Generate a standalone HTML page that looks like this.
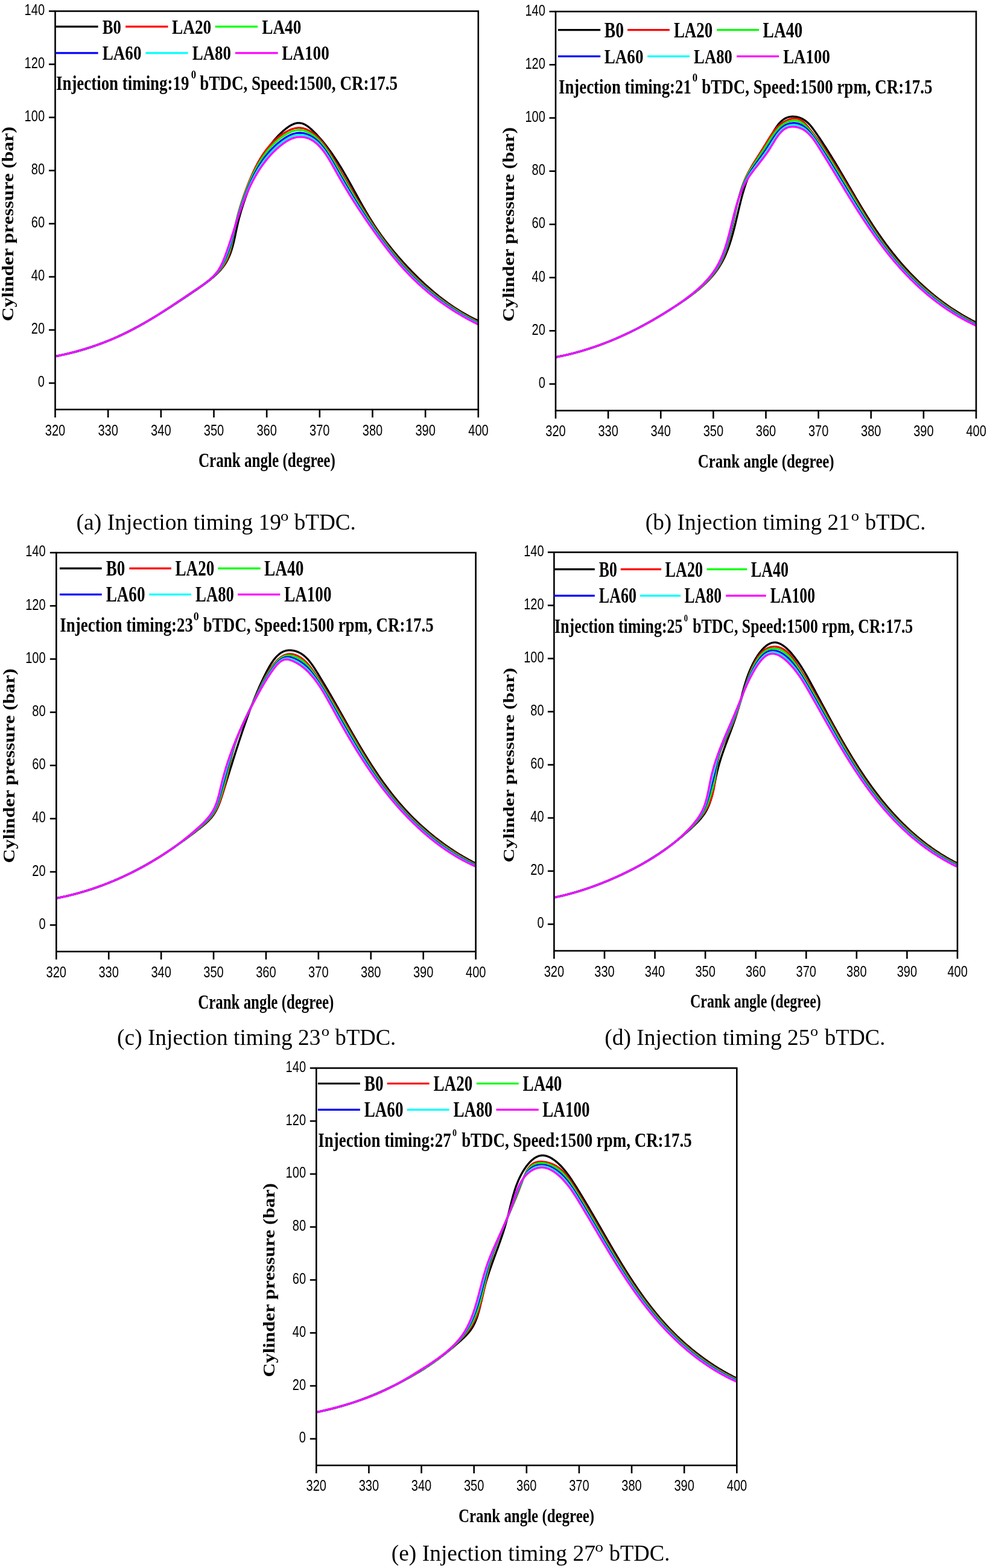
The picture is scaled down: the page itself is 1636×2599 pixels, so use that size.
<!DOCTYPE html>
<html><head><meta charset="utf-8"><title>Cylinder pressure vs crank angle</title>
<style>html,body{margin:0;padding:0;background:#fff;}svg{display:block;}</style></head>
<body><svg xmlns="http://www.w3.org/2000/svg" width="1636" height="2599" viewBox="0 0 1636 2599">
<rect width="1636" height="2599" fill="#fff"/>
<g fill="none" stroke-width="3.3" stroke-linejoin="round">
<path d="M91.5 590.27 L93.5 589.94 L95.5 589.6 L97.5 589.26 L99.5 588.89 L101.5 588.52 L103.5 588.14 L105.5 587.74 L107.5 587.33 L109.5 586.91 L111.5 586.48 L113.5 586.03 L115.5 585.58 L117.5 585.11 L119.5 584.63 L121.5 584.14 L123.5 583.63 L125.5 583.11 L127.5 582.59 L129.5 582.05 L131.5 581.49 L133.5 580.93 L135.5 580.35 L137.5 579.77 L139.5 579.17 L141.5 578.56 L143.5 577.93 L145.5 577.3 L147.5 576.65 L149.5 575.99 L151.5 575.32 L153.5 574.64 L155.5 573.95 L157.5 573.25 L159.5 572.53 L161.5 571.8 L163.5 571.06 L165.5 570.31 L167.5 569.55 L169.5 568.78 L171.5 567.99 L173.5 567.2 L175.5 566.39 L177.5 565.57 L179.5 564.74 L181.5 563.9 L183.5 563.05 L185.5 562.19 L187.5 561.32 L189.5 560.43 L191.5 559.54 L193.5 558.63 L195.5 557.72 L197.5 556.79 L199.5 555.85 L201.5 554.9 L203.5 553.95 L205.5 552.98 L207.5 552 L209.5 551.01 L211.5 550.01 L213.5 549.01 L215.5 547.99 L217.5 546.96 L219.5 545.92 L221.5 544.88 L223.5 543.82 L225.5 542.76 L227.5 541.68 L229.5 540.6 L231.5 539.5 L233.5 538.4 L235.5 537.29 L237.5 536.17 L239.5 535.04 L241.5 533.91 L243.5 532.76 L245.5 531.61 L247.5 530.44 L249.5 529.28 L251.5 528.1 L253.5 526.91 L255.5 525.72 L257.5 524.52 L259.5 523.31 L261.5 522.1 L263.5 520.87 L265.5 519.64 L267.5 518.41 L269.5 517.17 L271.5 515.92 L273.5 514.66 L275.5 513.4 L277.5 512.13 L279.5 510.86 L281.5 509.58 L283.5 508.29 L285.5 507 L287.5 505.7 L289.5 504.4 L291.5 503.09 L293.5 501.78 L295.5 500.47 L297.5 499.15 L299.5 497.82 L301.5 496.49 L303.5 495.16 L305.5 493.82 L307.5 492.48 L309.5 491.13 L311.5 489.79 L313.5 488.43 L315.5 487.08 L317.5 485.72 L319.5 484.36 L321.5 483 L323.5 481.64 L325.5 480.27 L327.5 478.9 L329.5 477.52 L331.5 476.13 L333.5 474.74 L335.5 473.32 L337.5 471.89 L339.5 470.44 L341.5 468.97 L343.5 467.46 L345.5 465.93 L347.5 464.36 L349.5 462.75 L351.5 461.09 L353.5 459.38 L355.5 457.62 L357.5 455.79 L359.5 453.88 L361.5 451.88 L363.5 449.79 L365.5 447.58 L367.5 445.23 L369.5 442.72 L371 440.71 L372.5 438.58 L374 436.28 L375.5 433.8 L377 431.09 L378.5 428.09 L379.5 425.92 L380.5 423.58 L381.5 421.06 L382.5 418.34 L383.5 415.39 L384.5 412.2 L385.5 408.75 L386.5 405.01 L387.5 400.98 L388 398.86 L388.5 396.67 L389 394.42 L389.5 392.12 L390 389.78 L390.5 387.4 L391 385.01 L391.5 382.62 L392 380.24 L392.5 377.88 L393 375.56 L393.5 373.29 L394 371.08 L394.5 368.93 L395 366.85 L395.5 364.84 L396.5 360.97 L397.5 357.29 L398.5 353.76 L399.5 350.37 L400.5 347.09 L401.5 343.9 L402.5 340.8 L403.5 337.78 L404.5 334.82 L405.5 331.91 L406.5 329.05 L407.5 326.23 L408.5 323.45 L409.5 320.7 L410.5 317.97 L411.5 315.26 L412.5 312.57 L413.5 309.9 L414.5 307.24 L415.5 304.61 L416.5 302 L417.5 299.43 L418.5 296.88 L419.5 294.38 L420.5 291.91 L421.5 289.49 L422.5 287.11 L423.5 284.77 L424.5 282.47 L425.5 280.22 L426.5 278.02 L427.5 275.86 L428.5 273.74 L429.5 271.68 L430.5 269.65 L432 266.7 L433.5 263.84 L435 261.08 L436.5 258.41 L438 255.83 L439.5 253.33 L441 250.92 L442.5 248.58 L444 246.33 L445.5 244.14 L447 242.02 L448.5 239.97 L450.5 237.34 L452.5 234.81 L454.5 232.39 L456.5 230.06 L458.5 227.83 L460.5 225.68 L462.5 223.61 L464.5 221.62 L466.5 219.7 L468.5 217.86 L470.5 216.1 L472.5 214.42 L474.5 212.83 L476.5 211.34 L478.5 209.96 L480.5 208.69 L482.5 207.54 L484.5 206.52 L486.5 205.64 L488.5 204.92 L490.5 204.35 L492.5 203.97 L494.5 203.78 L496.5 203.8 L498.5 204.04 L500.5 204.5 L502.5 205.17 L504.5 206.03 L506.5 207.09 L508.5 208.32 L510.5 209.71 L512.5 211.25 L514.5 212.92 L516.5 214.71 L518.5 216.61 L520.5 218.58 L522.5 220.61 L524.5 222.69 L526.5 224.83 L528.5 227.02 L530.5 229.27 L532.5 231.57 L534.5 233.93 L536.5 236.35 L538.5 238.83 L540.5 241.37 L542.5 243.96 L544.5 246.62 L546 248.66 L547.5 250.73 L549 252.83 L550.5 254.97 L552 257.14 L553.5 259.35 L555 261.59 L556.5 263.86 L558 266.17 L559.5 268.51 L561 270.88 L562.5 273.28 L564 275.72 L565.5 278.18 L567 280.67 L568.5 283.19 L570 285.73 L571.5 288.3 L573 290.9 L574.5 293.51 L576 296.15 L577.5 298.8 L579 301.47 L580.5 304.15 L582 306.84 L583.5 309.55 L585 312.26 L586.5 314.98 L588 317.7 L589.5 320.42 L591 323.14 L592.5 325.85 L594 328.56 L595.5 331.26 L597 333.95 L598.5 336.63 L600 339.29 L601.5 341.94 L603 344.57 L604.5 347.17 L606 349.76 L607.5 352.32 L609 354.86 L610.5 357.37 L612 359.85 L613.5 362.3 L615 364.72 L616.5 367.12 L618 369.48 L619.5 371.81 L621 374.1 L622.5 376.37 L624 378.61 L625.5 380.81 L627 382.99 L628.5 385.14 L630 387.27 L631.5 389.37 L633 391.44 L634.5 393.5 L636 395.53 L637.5 397.53 L639.5 400.17 L641.5 402.78 L643.5 405.35 L645.5 407.88 L647.5 410.39 L649.5 412.86 L651.5 415.3 L653.5 417.71 L655.5 420.09 L657.5 422.44 L659.5 424.77 L661.5 427.07 L663.5 429.34 L665.5 431.59 L667.5 433.82 L669.5 436.03 L671.5 438.21 L673.5 440.37 L675.5 442.51 L677.5 444.63 L679.5 446.72 L681.5 448.8 L683.5 450.86 L685.5 452.9 L687.5 454.92 L689.5 456.93 L691.5 458.91 L693.5 460.87 L695.5 462.81 L697.5 464.72 L699.5 466.62 L701.5 468.5 L703.5 470.36 L705.5 472.19 L707.5 474.01 L709.5 475.8 L711.5 477.57 L713.5 479.32 L715.5 481.05 L717.5 482.76 L719.5 484.44 L721.5 486.11 L723.5 487.75 L725.5 489.37 L727.5 490.97 L729.5 492.55 L731.5 494.11 L733.5 495.64 L735.5 497.16 L737.5 498.65 L739.5 500.12 L741.5 501.57 L743.5 503 L745.5 504.41 L747.5 505.79 L749.5 507.16 L751.5 508.5 L753.5 509.82 L755.5 511.12 L757.5 512.41 L759.5 513.66 L761.5 514.9 L763.5 516.12 L765.5 517.32 L767.5 518.5 L769.5 519.65 L771.5 520.79 L773.5 521.91 L775.5 523 L777.5 524.08 L779.5 525.13 L781.5 526.17 L783.5 527.18 L785.5 528.18 L787.5 529.16 L789.5 530.11 L791.5 531.05 L792.8 531.65" stroke="#000000"/>
<path d="M91.5 590.82 L93.5 590.41 L95.5 589.99 L97.5 589.57 L99.5 589.14 L101.5 588.7 L103.5 588.25 L105.5 587.8 L107.5 587.33 L109.5 586.86 L111.5 586.38 L113.5 585.9 L115.5 585.4 L117.5 584.89 L119.5 584.38 L121.5 583.86 L123.5 583.33 L125.5 582.79 L127.5 582.25 L129.5 581.69 L131.5 581.13 L133.5 580.55 L135.5 579.97 L137.5 579.38 L139.5 578.78 L141.5 578.17 L143.5 577.55 L145.5 576.92 L147.5 576.29 L149.5 575.64 L151.5 574.99 L153.5 574.32 L155.5 573.65 L157.5 572.96 L159.5 572.27 L161.5 571.56 L163.5 570.85 L165.5 570.12 L167.5 569.39 L169.5 568.64 L171.5 567.89 L173.5 567.12 L175.5 566.34 L177.5 565.56 L179.5 564.76 L181.5 563.95 L183.5 563.13 L185.5 562.29 L187.5 561.45 L189.5 560.59 L191.5 559.72 L193.5 558.84 L195.5 557.95 L197.5 557.05 L199.5 556.13 L201.5 555.2 L203.5 554.26 L205.5 553.31 L207.5 552.34 L209.5 551.36 L211.5 550.37 L213.5 549.37 L215.5 548.36 L217.5 547.34 L219.5 546.3 L221.5 545.25 L223.5 544.2 L225.5 543.13 L227.5 542.05 L229.5 540.96 L231.5 539.85 L233.5 538.74 L235.5 537.62 L237.5 536.49 L239.5 535.34 L241.5 534.19 L243.5 533.03 L245.5 531.86 L247.5 530.68 L249.5 529.49 L251.5 528.29 L253.5 527.08 L255.5 525.87 L257.5 524.64 L259.5 523.41 L261.5 522.17 L263.5 520.92 L265.5 519.67 L267.5 518.4 L269.5 517.13 L271.5 515.86 L273.5 514.57 L275.5 513.28 L277.5 511.99 L279.5 510.68 L281.5 509.38 L283.5 508.06 L285.5 506.75 L287.5 505.42 L289.5 504.09 L291.5 502.76 L293.5 501.43 L295.5 500.08 L297.5 498.74 L299.5 497.39 L301.5 496.04 L303.5 494.69 L305.5 493.33 L307.5 491.97 L309.5 490.61 L311.5 489.25 L313.5 487.88 L315.5 486.52 L317.5 485.15 L319.5 483.78 L321.5 482.41 L323.5 481.05 L325.5 479.68 L327.5 478.31 L329.5 476.93 L331.5 475.54 L333.5 474.14 L335.5 472.73 L337.5 471.3 L339.5 469.85 L341.5 468.38 L343.5 466.87 L345.5 465.33 L347.5 463.76 L349.5 462.14 L351.5 460.47 L353.5 458.74 L355.5 456.95 L357.5 455.09 L359.5 453.13 L361.5 451.08 L363.5 448.92 L365.5 446.61 L367.5 444.14 L369.5 441.47 L371 439.3 L372.5 436.95 L374 434.4 L375.5 431.56 L376.5 429.48 L377.5 427.21 L378.5 424.72 L379.5 421.99 L380.5 418.96 L381.5 415.61 L382.5 411.88 L383 409.86 L383.5 407.72 L384 405.47 L384.5 403.11 L385 400.64 L385.5 398.07 L386 395.41 L386.5 392.69 L387 389.94 L387.5 387.18 L388 384.45 L388.5 381.77 L389 379.16 L389.5 376.66 L390 374.24 L390.5 371.9 L391 369.64 L391.5 367.44 L392 365.3 L392.5 363.22 L393 361.18 L394 357.26 L395 353.5 L396 349.89 L397 346.41 L398 343.04 L399 339.77 L400 336.59 L401 333.5 L402 330.48 L403 327.54 L404 324.66 L405 321.83 L406 319.06 L407 316.34 L408 313.67 L409 311.03 L410 308.44 L411 305.89 L412 303.37 L413 300.88 L414 298.43 L415 296.03 L416 293.66 L417 291.33 L418 289.05 L419 286.81 L420 284.62 L421 282.48 L422 280.38 L423 278.33 L424 276.32 L425.5 273.4 L427 270.58 L428.5 267.86 L430 265.24 L431.5 262.71 L433 260.27 L434.5 257.92 L436 255.65 L437.5 253.47 L439 251.36 L440.5 249.33 L442.5 246.74 L444.5 244.27 L446.5 241.92 L448.5 239.67 L450.5 237.54 L452.5 235.5 L454.5 233.55 L456.5 231.7 L458.5 229.93 L460.5 228.24 L462.5 226.62 L464.5 225.09 L466.5 223.62 L468.5 222.22 L470.5 220.89 L472.5 219.64 L474.5 218.47 L476.5 217.38 L478.5 216.37 L480.5 215.45 L482.5 214.62 L484.5 213.89 L486.5 213.26 L488.5 212.74 L490.5 212.34 L492.5 212.05 L494.5 211.9 L496.5 211.89 L498.5 212.02 L500.5 212.29 L502.5 212.69 L504.5 213.23 L506.5 213.9 L508.5 214.69 L510.5 215.61 L512.5 216.64 L514.5 217.79 L516.5 219.05 L518.5 220.44 L520.5 221.95 L522.5 223.59 L524.5 225.35 L526.5 227.24 L528.5 229.27 L530.5 231.43 L532.5 233.72 L534.5 236.14 L536.5 238.69 L538.5 241.36 L540 243.45 L541.5 245.61 L543 247.83 L544.5 250.11 L546 252.44 L547.5 254.83 L549 257.27 L550.5 259.74 L552 262.25 L553.5 264.79 L555 267.35 L556.5 269.92 L558 272.49 L559.5 275.07 L561 277.65 L562.5 280.23 L564 282.82 L565.5 285.41 L567 288 L568.5 290.59 L570 293.18 L571.5 295.77 L573 298.36 L574.5 300.94 L576 303.53 L577.5 306.11 L579 308.68 L580.5 311.25 L582 313.81 L583.5 316.37 L585 318.92 L586.5 321.46 L588 323.99 L589.5 326.52 L591 329.03 L592.5 331.53 L594 334.03 L595.5 336.51 L597 338.98 L598.5 341.43 L600 343.88 L601.5 346.31 L603 348.73 L604.5 351.14 L606 353.53 L607.5 355.91 L609 358.27 L610.5 360.62 L612 362.95 L613.5 365.27 L615 367.57 L616.5 369.85 L618 372.12 L619.5 374.37 L621 376.61 L622.5 378.83 L624 381.03 L625.5 383.22 L627 385.39 L628.5 387.54 L630 389.67 L631.5 391.79 L633 393.88 L634.5 395.97 L636 398.03 L637.5 400.07 L639 402.1 L640.5 404.11 L642.5 406.76 L644.5 409.38 L646.5 411.97 L648.5 414.52 L650.5 417.05 L652.5 419.54 L654.5 421.99 L656.5 424.42 L658.5 426.82 L660.5 429.18 L662.5 431.51 L664.5 433.81 L666.5 436.08 L668.5 438.33 L670.5 440.54 L672.5 442.72 L674.5 444.88 L676.5 447.01 L678.5 449.11 L680.5 451.18 L682.5 453.23 L684.5 455.26 L686.5 457.25 L688.5 459.22 L690.5 461.17 L692.5 463.09 L694.5 464.99 L696.5 466.87 L698.5 468.72 L700.5 470.55 L702.5 472.36 L704.5 474.14 L706.5 475.9 L708.5 477.64 L710.5 479.36 L712.5 481.05 L714.5 482.73 L716.5 484.38 L718.5 486.01 L720.5 487.63 L722.5 489.22 L724.5 490.79 L726.5 492.34 L728.5 493.88 L730.5 495.39 L732.5 496.89 L734.5 498.36 L736.5 499.82 L738.5 501.26 L740.5 502.68 L742.5 504.08 L744.5 505.46 L746.5 506.83 L748.5 508.18 L750.5 509.51 L752.5 510.82 L754.5 512.12 L756.5 513.39 L758.5 514.66 L760.5 515.9 L762.5 517.13 L764.5 518.34 L766.5 519.54 L768.5 520.72 L770.5 521.88 L772.5 523.03 L774.5 524.16 L776.5 525.27 L778.5 526.37 L780.5 527.46 L782.5 528.53 L784.5 529.58 L786.5 530.62 L788.5 531.64 L790.5 532.65 L792.5 533.65 L792.8 533.51" stroke="#ff0000"/>
<path d="M91.5 590.84 L93.5 590.43 L95.5 590.01 L97.5 589.58 L99.5 589.14 L101.5 588.7 L103.5 588.25 L105.5 587.79 L107.5 587.33 L109.5 586.85 L111.5 586.37 L113.5 585.88 L115.5 585.38 L117.5 584.88 L119.5 584.36 L121.5 583.84 L123.5 583.31 L125.5 582.77 L127.5 582.23 L129.5 581.67 L131.5 581.11 L133.5 580.54 L135.5 579.95 L137.5 579.36 L139.5 578.76 L141.5 578.16 L143.5 577.54 L145.5 576.91 L147.5 576.28 L149.5 575.63 L151.5 574.98 L153.5 574.32 L155.5 573.64 L157.5 572.96 L159.5 572.27 L161.5 571.57 L163.5 570.85 L165.5 570.13 L167.5 569.4 L169.5 568.65 L171.5 567.9 L173.5 567.13 L175.5 566.36 L177.5 565.57 L179.5 564.78 L181.5 563.97 L183.5 563.15 L185.5 562.32 L187.5 561.47 L189.5 560.62 L191.5 559.75 L193.5 558.87 L195.5 557.98 L197.5 557.08 L199.5 556.16 L201.5 555.23 L203.5 554.29 L205.5 553.33 L207.5 552.37 L209.5 551.39 L211.5 550.4 L213.5 549.4 L215.5 548.38 L217.5 547.36 L219.5 546.32 L221.5 545.27 L223.5 544.21 L225.5 543.14 L227.5 542.06 L229.5 540.96 L231.5 539.86 L233.5 538.74 L235.5 537.62 L237.5 536.48 L239.5 535.34 L241.5 534.18 L243.5 533.02 L245.5 531.85 L247.5 530.66 L249.5 529.47 L251.5 528.27 L253.5 527.06 L255.5 525.84 L257.5 524.61 L259.5 523.38 L261.5 522.14 L263.5 520.89 L265.5 519.63 L267.5 518.36 L269.5 517.09 L271.5 515.81 L273.5 514.53 L275.5 513.24 L277.5 511.94 L279.5 510.64 L281.5 509.33 L283.5 508.02 L285.5 506.7 L287.5 505.37 L289.5 504.05 L291.5 502.71 L293.5 501.38 L295.5 500.04 L297.5 498.7 L299.5 497.35 L301.5 496 L303.5 494.65 L305.5 493.3 L307.5 491.94 L309.5 490.58 L311.5 489.23 L313.5 487.87 L315.5 486.5 L317.5 485.14 L319.5 483.78 L321.5 482.42 L323.5 481.06 L325.5 479.7 L327.5 478.33 L329.5 476.96 L331.5 475.58 L333.5 474.19 L335.5 472.78 L337.5 471.35 L339.5 469.89 L341.5 468.41 L343.5 466.89 L345.5 465.34 L347.5 463.73 L349.5 462.08 L351.5 460.36 L353.5 458.57 L355.5 456.7 L357.5 454.73 L359.5 452.64 L361.5 450.41 L363.5 448 L365.5 445.39 L367 443.29 L368.5 441.03 L370 438.62 L371.5 436.03 L373 433.24 L374.5 430.23 L375.5 428.08 L376.5 425.81 L377.5 423.39 L378.5 420.79 L379.5 418 L380.5 414.99 L381.5 411.73 L382.5 408.17 L383.5 404.29 L384 402.22 L384.5 400.06 L385 397.82 L385.5 395.51 L386 393.13 L386.5 390.7 L387 388.25 L387.5 385.79 L388 383.36 L388.5 380.96 L389 378.62 L389.5 376.35 L390 374.16 L390.5 372.02 L391 369.93 L391.5 367.9 L392.5 363.98 L393.5 360.21 L394.5 356.58 L395.5 353.08 L396.5 349.69 L397.5 346.39 L398.5 343.19 L399.5 340.07 L400.5 337.03 L401.5 334.06 L402.5 331.15 L403.5 328.31 L404.5 325.52 L405.5 322.79 L406.5 320.11 L407.5 317.48 L408.5 314.89 L409.5 312.34 L410.5 309.84 L411.5 307.37 L412.5 304.94 L413.5 302.55 L414.5 300.2 L415.5 297.89 L416.5 295.62 L417.5 293.39 L418.5 291.21 L419.5 289.07 L420.5 286.97 L421.5 284.92 L422.5 282.91 L424 279.98 L425.5 277.15 L427 274.41 L428.5 271.77 L430 269.22 L431.5 266.75 L433 264.37 L434.5 262.06 L436 259.84 L437.5 257.7 L439 255.62 L440.5 253.62 L442.5 251.06 L444.5 248.61 L446.5 246.27 L448.5 244.03 L450.5 241.89 L452.5 239.84 L454.5 237.89 L456.5 236.02 L458.5 234.23 L460.5 232.51 L462.5 230.87 L464.5 229.3 L466.5 227.8 L468.5 226.36 L470.5 225 L472.5 223.71 L474.5 222.5 L476.5 221.37 L478.5 220.33 L480.5 219.39 L482.5 218.53 L484.5 217.78 L486.5 217.14 L488.5 216.6 L490.5 216.18 L492.5 215.88 L494.5 215.71 L496.5 215.67 L498.5 215.76 L500.5 215.99 L502.5 216.34 L504.5 216.82 L506.5 217.43 L508.5 218.16 L510.5 219.01 L512.5 219.98 L514.5 221.08 L516.5 222.29 L518.5 223.63 L520.5 225.11 L522.5 226.71 L524.5 228.44 L526.5 230.32 L528.5 232.33 L530.5 234.47 L532.5 236.76 L534.5 239.19 L536.5 241.75 L538 243.76 L539.5 245.84 L541 248 L542.5 250.22 L544 252.51 L545.5 254.85 L547 257.25 L548.5 259.71 L550 262.2 L551.5 264.73 L553 267.3 L554.5 269.88 L556 272.47 L557.5 275.07 L559 277.67 L560.5 280.27 L562 282.87 L563.5 285.46 L565 288.06 L566.5 290.64 L568 293.23 L569.5 295.81 L571 298.38 L572.5 300.95 L574 303.52 L575.5 306.07 L577 308.63 L578.5 311.17 L580 313.71 L581.5 316.23 L583 318.75 L584.5 321.26 L586 323.76 L587.5 326.25 L589 328.73 L590.5 331.2 L592 333.66 L593.5 336.11 L595 338.55 L596.5 340.97 L598 343.38 L599.5 345.78 L601 348.17 L602.5 350.54 L604 352.91 L605.5 355.25 L607 357.59 L608.5 359.91 L610 362.22 L611.5 364.51 L613 366.79 L614.5 369.06 L616 371.31 L617.5 373.55 L619 375.77 L620.5 377.98 L622 380.17 L623.5 382.35 L625 384.52 L626.5 386.67 L628 388.8 L629.5 390.91 L631 393.01 L632.5 395.1 L634 397.17 L635.5 399.22 L637 401.25 L638.5 403.27 L640 405.27 L642 407.91 L644 410.53 L646 413.11 L648 415.66 L650 418.18 L652 420.66 L654 423.12 L656 425.55 L658 427.94 L660 430.31 L662 432.64 L664 434.95 L666 437.22 L668 439.46 L670 441.68 L672 443.86 L674 446.02 L676 448.15 L678 450.25 L680 452.32 L682 454.37 L684 456.39 L686 458.38 L688 460.35 L690 462.29 L692 464.21 L694 466.1 L696 467.97 L698 469.81 L700 471.64 L702 473.43 L704 475.21 L706 476.96 L708 478.69 L710 480.4 L712 482.08 L714 483.75 L716 485.39 L718 487.02 L720 488.62 L722 490.2 L724 491.77 L726 493.31 L728 494.83 L730 496.34 L732 497.82 L734 499.29 L736 500.74 L738 502.16 L740 503.58 L742 504.97 L744 506.34 L746 507.7 L748 509.04 L750 510.36 L752 511.67 L754 512.96 L756 514.23 L758 515.48 L760 516.72 L762 517.94 L764 519.15 L766 520.34 L768 521.51 L770 522.67 L772 523.81 L774 524.94 L776 526.05 L778 527.15 L780 528.23 L782 529.3 L784 530.35 L786 531.39 L788 532.41 L790 533.42 L792 534.41 L792.8 534.59" stroke="#00ff00"/>
<path d="M91.5 590.86 L93.5 590.44 L95.5 590.02 L97.5 589.59 L99.5 589.15 L101.5 588.7 L103.5 588.25 L105.5 587.79 L107.5 587.32 L109.5 586.84 L111.5 586.36 L113.5 585.87 L115.5 585.37 L117.5 584.86 L119.5 584.34 L121.5 583.82 L123.5 583.29 L125.5 582.75 L127.5 582.21 L129.5 581.65 L131.5 581.09 L133.5 580.51 L135.5 579.93 L137.5 579.35 L139.5 578.75 L141.5 578.14 L143.5 577.53 L145.5 576.9 L147.5 576.27 L149.5 575.62 L151.5 574.97 L153.5 574.31 L155.5 573.64 L157.5 572.96 L159.5 572.27 L161.5 571.57 L163.5 570.86 L165.5 570.14 L167.5 569.41 L169.5 568.67 L171.5 567.91 L173.5 567.15 L175.5 566.38 L177.5 565.59 L179.5 564.8 L181.5 563.99 L183.5 563.17 L185.5 562.34 L187.5 561.5 L189.5 560.65 L191.5 559.78 L193.5 558.9 L195.5 558.01 L197.5 557.11 L199.5 556.19 L201.5 555.26 L203.5 554.32 L205.5 553.37 L207.5 552.4 L209.5 551.42 L211.5 550.43 L213.5 549.42 L215.5 548.41 L217.5 547.38 L219.5 546.34 L221.5 545.29 L223.5 544.23 L225.5 543.15 L227.5 542.07 L229.5 540.97 L231.5 539.86 L233.5 538.75 L235.5 537.62 L237.5 536.48 L239.5 535.33 L241.5 534.17 L243.5 533.01 L245.5 531.83 L247.5 530.64 L249.5 529.45 L251.5 528.24 L253.5 527.03 L255.5 525.81 L257.5 524.58 L259.5 523.34 L261.5 522.1 L263.5 520.84 L265.5 519.58 L267.5 518.32 L269.5 517.04 L271.5 515.76 L273.5 514.48 L275.5 513.18 L277.5 511.88 L279.5 510.58 L281.5 509.27 L283.5 507.96 L285.5 506.64 L287.5 505.32 L289.5 503.99 L291.5 502.66 L293.5 501.32 L295.5 499.98 L297.5 498.64 L299.5 497.3 L301.5 495.95 L303.5 494.61 L305.5 493.26 L307.5 491.9 L309.5 490.55 L311.5 489.2 L313.5 487.84 L315.5 486.49 L317.5 485.13 L319.5 483.78 L321.5 482.42 L323.5 481.07 L325.5 479.72 L327.5 478.36 L329.5 477 L331.5 475.63 L333.5 474.24 L335.5 472.83 L337.5 471.4 L339.5 469.94 L341.5 468.45 L343.5 466.92 L345.5 465.34 L347.5 463.7 L349.5 462 L351.5 460.23 L353.5 458.36 L355.5 456.39 L357.5 454.3 L359.5 452.04 L361.5 449.6 L363.5 446.9 L365 444.71 L366.5 442.33 L368 439.77 L369.5 437.01 L371 434.05 L372 431.95 L373 429.76 L374 427.49 L375 425.12 L376 422.67 L377 420.12 L378 417.46 L379 414.67 L380 411.75 L381 408.67 L382 405.41 L383 401.97 L384 398.31 L385 394.44 L385.5 392.43 L386 390.39 L386.5 388.31 L387 386.22 L387.5 384.13 L388 382.05 L388.5 379.99 L389 377.97 L390 374.06 L391 370.29 L392 366.66 L393 363.14 L394 359.72 L395 356.39 L396 353.14 L397 349.97 L398 346.88 L399 343.85 L400 340.88 L401 337.98 L402 335.14 L403 332.35 L404 329.62 L405 326.94 L406 324.31 L407 321.72 L408 319.19 L409 316.7 L410 314.26 L411 311.85 L412 309.49 L413 307.17 L414 304.89 L415 302.65 L416 300.45 L417 298.3 L418 296.18 L419 294.11 L420 292.08 L421.5 289.12 L423 286.24 L424.5 283.46 L426 280.76 L427.5 278.15 L429 275.63 L430.5 273.18 L432 270.82 L433.5 268.53 L435 266.31 L436.5 264.16 L438 262.09 L439.5 260.07 L441.5 257.49 L443.5 255.01 L445.5 252.64 L447.5 250.36 L449.5 248.17 L451.5 246.08 L453.5 244.07 L455.5 242.14 L457.5 240.28 L459.5 238.5 L461.5 236.8 L463.5 235.16 L465.5 233.58 L467.5 232.07 L469.5 230.62 L471.5 229.25 L473.5 227.96 L475.5 226.74 L477.5 225.62 L479.5 224.59 L481.5 223.65 L483.5 222.82 L485.5 222.1 L487.5 221.49 L489.5 221 L491.5 220.62 L493.5 220.37 L495.5 220.23 L497.5 220.22 L499.5 220.33 L501.5 220.56 L503.5 220.91 L505.5 221.38 L507.5 221.98 L509.5 222.69 L511.5 223.53 L513.5 224.5 L515.5 225.59 L517.5 226.81 L519.5 228.16 L521.5 229.65 L523.5 231.29 L525.5 233.06 L527.5 234.98 L529.5 237.04 L531.5 239.26 L533.5 241.62 L535.5 244.12 L537.5 246.77 L539 248.85 L540.5 251 L542 253.23 L543.5 255.52 L545 257.88 L546.5 260.3 L548 262.78 L549.5 265.3 L551 267.86 L552.5 270.45 L554 273.07 L555.5 275.7 L557 278.33 L558.5 280.96 L560 283.59 L561.5 286.2 L563 288.81 L564.5 291.41 L566 293.99 L567.5 296.57 L569 299.14 L570.5 301.7 L572 304.25 L573.5 306.79 L575 309.32 L576.5 311.84 L578 314.35 L579.5 316.85 L581 319.34 L582.5 321.81 L584 324.28 L585.5 326.73 L587 329.17 L588.5 331.6 L590 334.01 L591.5 336.42 L593 338.81 L594.5 341.19 L596 343.56 L597.5 345.92 L599 348.26 L600.5 350.59 L602 352.91 L603.5 355.22 L605 357.52 L606.5 359.8 L608 362.07 L609.5 364.33 L611 366.57 L612.5 368.81 L614 371.03 L615.5 373.24 L617 375.44 L618.5 377.62 L620 379.8 L621.5 381.96 L623 384.11 L624.5 386.24 L626 388.36 L627.5 390.47 L629 392.56 L630.5 394.64 L632 396.71 L633.5 398.76 L635 400.79 L636.5 402.81 L638 404.82 L640 407.47 L642 410.09 L644 412.68 L646 415.24 L648 417.78 L650 420.29 L652 422.76 L654 425.21 L656 427.63 L658 430.01 L660 432.37 L662 434.7 L664 436.99 L666 439.26 L668 441.5 L670 443.71 L672 445.89 L674 448.04 L676 450.16 L678 452.25 L680 454.31 L682 456.35 L684 458.35 L686 460.34 L688 462.29 L690 464.22 L692 466.12 L694 468 L696 469.85 L698 471.68 L700 473.48 L702 475.27 L704 477.02 L706 478.76 L708 480.47 L710 482.16 L712 483.83 L714 485.48 L716 487.1 L718 488.71 L720 490.3 L722 491.86 L724 493.41 L726 494.93 L728 496.44 L730 497.92 L732 499.39 L734 500.84 L736 502.27 L738 503.68 L740 505.08 L742 506.45 L744 507.81 L746 509.15 L748 510.48 L750 511.79 L752 513.08 L754 514.35 L756 515.61 L758 516.85 L760 518.08 L762 519.29 L764 520.48 L766 521.66 L768 522.82 L770 523.97 L772 525.1 L774 526.22 L776 527.32 L778 528.41 L780 529.48 L782 530.54 L784 531.59 L786 532.62 L788 533.63 L790 534.64 L792 535.63 L792.8 535.89" stroke="#0000ff"/>
<path d="M91.5 590.88 L93.5 590.46 L95.5 590.03 L97.5 589.59 L99.5 589.15 L101.5 588.7 L103.5 588.24 L105.5 587.78 L107.5 587.31 L109.5 586.83 L111.5 586.35 L113.5 585.85 L115.5 585.35 L117.5 584.84 L119.5 584.33 L121.5 583.81 L123.5 583.27 L125.5 582.74 L127.5 582.19 L129.5 581.63 L131.5 581.07 L133.5 580.5 L135.5 579.92 L137.5 579.33 L139.5 578.73 L141.5 578.13 L143.5 577.51 L145.5 576.89 L147.5 576.26 L149.5 575.62 L151.5 574.97 L153.5 574.31 L155.5 573.64 L157.5 572.96 L159.5 572.27 L161.5 571.57 L163.5 570.86 L165.5 570.14 L167.5 569.42 L169.5 568.68 L171.5 567.93 L173.5 567.16 L175.5 566.39 L177.5 565.61 L179.5 564.82 L181.5 564.01 L183.5 563.19 L185.5 562.36 L187.5 561.52 L189.5 560.67 L191.5 559.81 L193.5 558.93 L195.5 558.04 L197.5 557.13 L199.5 556.22 L201.5 555.29 L203.5 554.34 L205.5 553.39 L207.5 552.42 L209.5 551.44 L211.5 550.45 L213.5 549.44 L215.5 548.43 L217.5 547.4 L219.5 546.36 L221.5 545.3 L223.5 544.24 L225.5 543.16 L227.5 542.08 L229.5 540.98 L231.5 539.87 L233.5 538.75 L235.5 537.62 L237.5 536.48 L239.5 535.33 L241.5 534.17 L243.5 533 L245.5 531.82 L247.5 530.63 L249.5 529.43 L251.5 528.22 L253.5 527.01 L255.5 525.79 L257.5 524.55 L259.5 523.31 L261.5 522.07 L263.5 520.81 L265.5 519.55 L267.5 518.28 L269.5 517 L271.5 515.72 L273.5 514.43 L275.5 513.14 L277.5 511.84 L279.5 510.54 L281.5 509.23 L283.5 507.91 L285.5 506.59 L287.5 505.27 L289.5 503.94 L291.5 502.61 L293.5 501.28 L295.5 499.94 L297.5 498.6 L299.5 497.26 L301.5 495.92 L303.5 494.57 L305.5 493.22 L307.5 491.88 L309.5 490.53 L311.5 489.18 L313.5 487.83 L315.5 486.48 L317.5 485.13 L319.5 483.78 L321.5 482.43 L323.5 481.08 L325.5 479.73 L327.5 478.38 L329.5 477.03 L331.5 475.66 L333.5 474.28 L335.5 472.87 L337.5 471.45 L339.5 469.98 L341.5 468.48 L343.5 466.94 L345.5 465.34 L347.5 463.68 L349.5 461.95 L351.5 460.13 L353.5 458.21 L355.5 456.16 L357.5 453.97 L359.5 451.59 L361.5 448.97 L363 446.82 L364.5 444.48 L366 441.95 L367.5 439.19 L369 436.2 L370 434.08 L371 431.85 L372 429.52 L373 427.1 L374 424.6 L375 422.02 L376 419.38 L377 416.67 L378 413.89 L379 411.03 L380 408.08 L381 405.05 L382 401.91 L383 398.67 L384 395.31 L385 391.85 L386 388.29 L387 384.67 L388 381.04 L389 377.47 L390 373.98 L391 370.57 L392 367.23 L393 363.96 L394 360.75 L395 357.6 L396 354.5 L397 351.47 L398 348.48 L399 345.55 L400 342.68 L401 339.85 L402 337.08 L403 334.36 L404 331.69 L405 329.07 L406 326.5 L407 323.98 L408 321.5 L409 319.07 L410 316.69 L411 314.35 L412 312.05 L413 309.8 L414 307.59 L415 305.42 L416 303.29 L417 301.21 L418 299.17 L419 297.16 L420.5 294.23 L422 291.39 L423.5 288.64 L425 285.97 L426.5 283.38 L428 280.88 L429.5 278.44 L431 276.08 L432.5 273.8 L434 271.58 L435.5 269.43 L437 267.34 L438.5 265.32 L440.5 262.71 L442.5 260.21 L444.5 257.8 L446.5 255.49 L448.5 253.26 L450.5 251.12 L452.5 249.06 L454.5 247.08 L456.5 245.18 L458.5 243.34 L460.5 241.57 L462.5 239.87 L464.5 238.24 L466.5 236.66 L468.5 235.15 L470.5 233.7 L472.5 232.34 L474.5 231.05 L476.5 229.85 L478.5 228.74 L480.5 227.73 L482.5 226.82 L484.5 226.03 L486.5 225.34 L488.5 224.78 L490.5 224.33 L492.5 224 L494.5 223.79 L496.5 223.69 L498.5 223.7 L500.5 223.83 L502.5 224.08 L504.5 224.44 L506.5 224.91 L508.5 225.51 L510.5 226.23 L512.5 227.08 L514.5 228.05 L516.5 229.16 L518.5 230.41 L520.5 231.79 L522.5 233.32 L524.5 235 L526.5 236.83 L528.5 238.81 L530.5 240.94 L532.5 243.22 L534.5 245.66 L536.5 248.25 L538 250.29 L539.5 252.41 L541 254.6 L542.5 256.87 L544 259.22 L545.5 261.62 L547 264.09 L548.5 266.61 L550 269.17 L551.5 271.77 L553 274.41 L554.5 277.06 L556 279.72 L557.5 282.38 L559 285.03 L560.5 287.67 L562 290.29 L563.5 292.9 L565 295.5 L566.5 298.08 L568 300.65 L569.5 303.21 L571 305.75 L572.5 308.28 L574 310.8 L575.5 313.3 L577 315.79 L578.5 318.27 L580 320.73 L581.5 323.18 L583 325.61 L584.5 328.03 L586 330.44 L587.5 332.84 L589 335.22 L590.5 337.59 L592 339.94 L593.5 342.29 L595 344.62 L596.5 346.94 L598 349.24 L599.5 351.54 L601 353.82 L602.5 356.09 L604 358.35 L605.5 360.6 L607 362.83 L608.5 365.06 L610 367.27 L611.5 369.47 L613 371.66 L614.5 373.84 L616 376.01 L617.5 378.17 L619 380.32 L620.5 382.46 L622 384.59 L623.5 386.71 L625 388.81 L626.5 390.91 L628 392.99 L629.5 395.06 L631 397.11 L632.5 399.15 L634 401.18 L635.5 403.19 L637.5 405.86 L639.5 408.5 L641.5 411.11 L643.5 413.69 L645.5 416.25 L647.5 418.78 L649.5 421.28 L651.5 423.76 L653.5 426.2 L655.5 428.62 L657.5 431.01 L659.5 433.37 L661.5 435.69 L663.5 437.99 L665.5 440.26 L667.5 442.5 L669.5 444.72 L671.5 446.9 L673.5 449.05 L675.5 451.17 L677.5 453.26 L679.5 455.32 L681.5 457.36 L683.5 459.36 L685.5 461.34 L687.5 463.29 L689.5 465.22 L691.5 467.12 L693.5 468.99 L695.5 470.83 L697.5 472.66 L699.5 474.46 L701.5 476.23 L703.5 477.98 L705.5 479.71 L707.5 481.41 L709.5 483.1 L711.5 484.76 L713.5 486.4 L715.5 488.01 L717.5 489.61 L719.5 491.19 L721.5 492.75 L723.5 494.28 L725.5 495.8 L727.5 497.3 L729.5 498.77 L731.5 500.23 L733.5 501.67 L735.5 503.1 L737.5 504.5 L739.5 505.89 L741.5 507.25 L743.5 508.61 L745.5 509.94 L747.5 511.26 L749.5 512.56 L751.5 513.84 L753.5 515.11 L755.5 516.36 L757.5 517.59 L759.5 518.81 L761.5 520.02 L763.5 521.21 L765.5 522.38 L767.5 523.54 L769.5 524.68 L771.5 525.81 L773.5 526.92 L775.5 528.02 L777.5 529.11 L779.5 530.18 L781.5 531.23 L783.5 532.28 L785.5 533.3 L787.5 534.32 L789.5 535.32 L791.5 536.31 L792.8 536.88" stroke="#00ffff"/>
<path d="M91.5 590.9 L93.5 590.47 L95.5 590.04 L97.5 589.6 L99.5 589.15 L101.5 588.7 L103.5 588.24 L105.5 587.78 L107.5 587.3 L109.5 586.82 L111.5 586.34 L113.5 585.84 L115.5 585.34 L117.5 584.83 L119.5 584.31 L121.5 583.79 L123.5 583.26 L125.5 582.72 L127.5 582.17 L129.5 581.62 L131.5 581.05 L133.5 580.48 L135.5 579.9 L137.5 579.32 L139.5 578.72 L141.5 578.12 L143.5 577.5 L145.5 576.88 L147.5 576.25 L149.5 575.61 L151.5 574.96 L153.5 574.3 L155.5 573.64 L157.5 572.96 L159.5 572.27 L161.5 571.57 L163.5 570.87 L165.5 570.15 L167.5 569.42 L169.5 568.68 L171.5 567.94 L173.5 567.18 L175.5 566.41 L177.5 565.63 L179.5 564.83 L181.5 564.03 L183.5 563.21 L185.5 562.39 L187.5 561.55 L189.5 560.69 L191.5 559.83 L193.5 558.95 L195.5 558.06 L197.5 557.16 L199.5 556.24 L201.5 555.31 L203.5 554.37 L205.5 553.41 L207.5 552.44 L209.5 551.46 L211.5 550.47 L213.5 549.46 L215.5 548.44 L217.5 547.41 L219.5 546.37 L221.5 545.32 L223.5 544.25 L225.5 543.17 L227.5 542.08 L229.5 540.98 L231.5 539.87 L233.5 538.75 L235.5 537.62 L237.5 536.48 L239.5 535.32 L241.5 534.16 L243.5 532.99 L245.5 531.81 L247.5 530.62 L249.5 529.41 L251.5 528.21 L253.5 526.99 L255.5 525.76 L257.5 524.53 L259.5 523.29 L261.5 522.04 L263.5 520.78 L265.5 519.52 L267.5 518.25 L269.5 516.97 L271.5 515.68 L273.5 514.4 L275.5 513.1 L277.5 511.8 L279.5 510.49 L281.5 509.18 L283.5 507.87 L285.5 506.55 L287.5 505.23 L289.5 503.9 L291.5 502.57 L293.5 501.24 L295.5 499.9 L297.5 498.56 L299.5 497.22 L301.5 495.88 L303.5 494.54 L305.5 493.19 L307.5 491.85 L309.5 490.5 L311.5 489.16 L313.5 487.81 L315.5 486.46 L317.5 485.12 L319.5 483.77 L321.5 482.43 L323.5 481.09 L325.5 479.75 L327.5 478.41 L329.5 477.06 L331.5 475.7 L333.5 474.32 L335.5 472.91 L337.5 471.48 L339.5 470.02 L341.5 468.51 L343.5 466.96 L345.5 465.34 L347.5 463.66 L349.5 461.89 L351.5 460.03 L353.5 458.06 L355.5 455.94 L357.5 453.65 L359.5 451.15 L361 449.1 L362.5 446.87 L364 444.42 L365.5 441.74 L367 438.82 L368 436.73 L369 434.52 L370 432.19 L371 429.75 L372 427.2 L373 424.56 L374 421.83 L375 419.05 L376 416.23 L377 413.37 L378 410.48 L379 407.54 L380 404.58 L381 401.58 L382 398.56 L383 395.51 L384 392.45 L385 389.37 L386 386.28 L387 383.18 L388 380.08 L389 376.99 L390 373.91 L391 370.83 L392 367.78 L393 364.74 L394 361.73 L395 358.75 L396 355.81 L397 352.89 L398 350.02 L399 347.18 L400 344.39 L401 341.64 L402 338.94 L403 336.28 L404 333.67 L405 331.11 L406 328.6 L407 326.13 L408 323.71 L409 321.34 L410 319.01 L411 316.74 L412 314.5 L413 312.31 L414 310.17 L415 308.07 L416 306.01 L417 304 L418.5 301.05 L420 298.18 L421.5 295.41 L423 292.71 L424.5 290.1 L426 287.56 L427.5 285.1 L429 282.71 L430.5 280.38 L432 278.13 L433.5 275.93 L435 273.8 L436.5 271.73 L438 269.72 L440 267.12 L442 264.62 L444 262.21 L446 259.88 L448 257.64 L450 255.48 L452 253.4 L454 251.39 L456 249.45 L458 247.58 L460 245.78 L462 244.04 L464 242.36 L466 240.74 L468 239.18 L470 237.68 L472 236.26 L474 234.92 L476 233.66 L478 232.5 L480 231.44 L482 230.49 L484 229.64 L486 228.91 L488 228.3 L490 227.82 L492 227.45 L494 227.19 L496 227.04 L498 226.99 L500 227.06 L502 227.23 L504 227.51 L506 227.9 L508 228.41 L510 229.05 L512 229.81 L514 230.71 L516 231.74 L518 232.91 L520 234.22 L522 235.68 L524 237.3 L526 239.06 L528 240.99 L530 243.07 L532 245.32 L534 247.72 L536 250.28 L537.5 252.3 L539 254.41 L540.5 256.6 L542 258.86 L543.5 261.21 L545 263.62 L546.5 266.09 L548 268.62 L549.5 271.2 L551 273.82 L552.5 276.47 L554 279.14 L555.5 281.83 L557 284.51 L558.5 287.19 L560 289.85 L561.5 292.49 L563 295.12 L564.5 297.72 L566 300.31 L567.5 302.88 L569 305.44 L570.5 307.97 L572 310.49 L573.5 312.99 L575 315.48 L576.5 317.94 L578 320.4 L579.5 322.83 L581 325.25 L582.5 327.66 L584 330.05 L585.5 332.42 L587 334.79 L588.5 337.13 L590 339.46 L591.5 341.78 L593 344.09 L594.5 346.38 L596 348.66 L597.5 350.93 L599 353.18 L600.5 355.42 L602 357.65 L603.5 359.87 L605 362.08 L606.5 364.28 L608 366.47 L609.5 368.64 L611 370.81 L612.5 372.97 L614 375.12 L615.5 377.26 L617 379.39 L618.5 381.51 L620 383.62 L621.5 385.73 L623 387.82 L624.5 389.91 L626 391.98 L627.5 394.04 L629 396.09 L630.5 398.13 L632 400.16 L633.5 402.18 L635 404.18 L637 406.83 L639 409.46 L641 412.06 L643 414.64 L645 417.19 L647 419.71 L649 422.21 L651 424.68 L653 427.13 L655 429.54 L657 431.93 L659 434.29 L661 436.62 L663 438.93 L665 441.2 L667 443.44 L669 445.66 L671 447.84 L673 449.99 L675 452.12 L677 454.21 L679 456.27 L681 458.31 L683 460.31 L685 462.29 L687 464.24 L689 466.16 L691 468.05 L693 469.92 L695 471.76 L697 473.58 L699 475.37 L701 477.14 L703 478.88 L705 480.6 L707 482.3 L709 483.98 L711 485.63 L713 487.26 L715 488.87 L717 490.46 L719 492.03 L721 493.58 L723 495.11 L725 496.62 L727 498.11 L729 499.58 L731 501.03 L733 502.46 L735 503.87 L737 505.27 L739 506.65 L741 508.01 L743 509.35 L745 510.68 L747 511.99 L749 513.28 L751 514.56 L753 515.82 L755 517.07 L757 518.29 L759 519.51 L761 520.71 L763 521.89 L765 523.06 L767 524.21 L769 525.35 L771 526.47 L773 527.58 L775 528.68 L777 529.76 L779 530.83 L781 531.88 L783 532.93 L785 533.95 L787 534.97 L789 535.97 L791 536.96 L792.8 537.84" stroke="#ff00ff"/>
</g>
<g fill="none" stroke-width="3.3" stroke-linejoin="round">
<path d="M921 591.94 L923 591.58 L925 591.2 L927 590.81 L929 590.42 L931 590.01 L933 589.59 L935 589.17 L937 588.73 L939 588.28 L941 587.82 L943 587.35 L945 586.88 L947 586.39 L949 585.89 L951 585.38 L953 584.86 L955 584.33 L957 583.79 L959 583.24 L961 582.68 L963 582.11 L965 581.54 L967 580.95 L969 580.35 L971 579.74 L973 579.12 L975 578.48 L977 577.84 L979 577.19 L981 576.53 L983 575.86 L985 575.18 L987 574.49 L989 573.79 L991 573.08 L993 572.36 L995 571.63 L997 570.89 L999 570.14 L1001 569.38 L1003 568.61 L1005 567.83 L1007 567.04 L1009 566.23 L1011 565.42 L1013 564.6 L1015 563.77 L1017 562.94 L1019 562.09 L1021 561.23 L1023 560.36 L1025 559.48 L1027 558.59 L1029 557.69 L1031 556.79 L1033 555.87 L1035 554.94 L1037 554.01 L1039 553.06 L1041 552.1 L1043 551.14 L1045 550.17 L1047 549.18 L1049 548.19 L1051 547.19 L1053 546.18 L1055 545.16 L1057 544.13 L1059 543.09 L1061 542.04 L1063 540.98 L1065 539.92 L1067 538.84 L1069 537.76 L1071 536.66 L1073 535.56 L1075 534.45 L1077 533.33 L1079 532.2 L1081 531.07 L1083 529.92 L1085 528.77 L1087 527.6 L1089 526.43 L1091 525.25 L1093 524.07 L1095 522.87 L1097 521.66 L1099 520.45 L1101 519.23 L1103 518 L1105 516.77 L1107 515.52 L1109 514.27 L1111 513.01 L1113 511.74 L1115 510.47 L1117 509.18 L1119 507.89 L1121 506.59 L1123 505.29 L1125 503.97 L1127 502.64 L1129 501.3 L1131 499.95 L1133 498.58 L1135 497.2 L1137 495.81 L1139 494.39 L1141 492.96 L1143 491.51 L1145 490.03 L1147 488.54 L1149 487.02 L1151 485.47 L1153 483.89 L1155 482.29 L1157 480.65 L1159 478.98 L1161 477.27 L1163 475.52 L1165 473.73 L1167 471.89 L1169 470 L1171 468.05 L1173 466.05 L1175 463.98 L1177 461.84 L1179 459.62 L1181 457.32 L1183 454.92 L1185 452.41 L1187 449.78 L1188.5 447.72 L1190 445.57 L1191.5 443.33 L1193 440.98 L1194.5 438.51 L1196 435.91 L1197.5 433.17 L1199 430.28 L1200 428.26 L1201 426.17 L1202 423.99 L1203 421.73 L1204 419.38 L1205 416.93 L1206 414.38 L1207 411.73 L1208 408.97 L1209 406.1 L1210 403.1 L1211 399.98 L1212 396.73 L1213 393.35 L1214 389.84 L1215 386.2 L1216 382.43 L1217 378.53 L1218 374.53 L1218.5 372.49 L1219 370.42 L1219.5 368.34 L1220 366.24 L1220.5 364.12 L1221 361.99 L1221.5 359.85 L1222 357.7 L1222.5 355.55 L1223 353.4 L1223.5 351.26 L1224 349.12 L1224.5 346.99 L1225 344.87 L1225.5 342.77 L1226 340.69 L1226.5 338.63 L1227 336.6 L1227.5 334.59 L1228.5 330.65 L1229.5 326.83 L1230.5 323.15 L1231.5 319.59 L1232.5 316.17 L1233.5 312.88 L1234.5 309.73 L1235.5 306.7 L1236.5 303.8 L1237.5 301.02 L1238.5 298.35 L1239.5 295.79 L1240.5 293.34 L1241.5 290.98 L1242.5 288.72 L1243.5 286.54 L1244.5 284.43 L1245.5 282.39 L1247 279.42 L1248.5 276.57 L1250 273.79 L1251.5 271.09 L1253 268.44 L1254.5 265.84 L1256 263.27 L1257.5 260.74 L1259 258.22 L1260.5 255.72 L1262 253.22 L1263.5 250.72 L1265 248.21 L1266.5 245.69 L1268 243.15 L1269.5 240.58 L1271 237.99 L1272.5 235.35 L1274 232.68 L1275.5 229.96 L1277 227.22 L1278.5 224.49 L1280 221.8 L1281.5 219.17 L1283 216.63 L1284.5 214.2 L1286 211.88 L1287.5 209.7 L1289 207.65 L1291 205.15 L1293 202.92 L1295 200.94 L1297 199.23 L1299 197.76 L1301 196.53 L1303 195.53 L1305 194.74 L1307 194.12 L1309 193.67 L1311 193.37 L1313 193.21 L1315 193.18 L1317 193.28 L1319 193.5 L1321 193.85 L1323 194.33 L1325 194.93 L1327 195.66 L1329 196.54 L1331 197.56 L1333 198.75 L1335 200.12 L1337 201.69 L1339 203.48 L1341 205.47 L1343 207.67 L1345 210.06 L1347 212.62 L1348.5 214.63 L1350 216.71 L1351.5 218.83 L1353 220.98 L1354.5 223.15 L1356 225.33 L1357.5 227.53 L1359 229.75 L1360.5 231.98 L1362 234.24 L1363.5 236.51 L1365 238.8 L1366.5 241.1 L1368 243.42 L1369.5 245.76 L1371 248.11 L1372.5 250.48 L1374 252.87 L1375.5 255.26 L1377 257.68 L1378.5 260.11 L1380 262.55 L1381.5 265 L1383 267.47 L1384.5 269.95 L1386 272.43 L1387.5 274.93 L1389 277.45 L1390.5 279.96 L1392 282.49 L1393.5 285.03 L1395 287.57 L1396.5 290.12 L1398 292.67 L1399.5 295.23 L1401 297.79 L1402.5 300.36 L1404 302.93 L1405.5 305.5 L1407 308.07 L1408.5 310.63 L1410 313.2 L1411.5 315.76 L1413 318.33 L1414.5 320.88 L1416 323.44 L1417.5 325.98 L1419 328.52 L1420.5 331.05 L1422 333.58 L1423.5 336.09 L1425 338.6 L1426.5 341.09 L1428 343.58 L1429.5 346.05 L1431 348.51 L1432.5 350.95 L1434 353.39 L1435.5 355.8 L1437 358.21 L1438.5 360.59 L1440 362.97 L1441.5 365.32 L1443 367.66 L1444.5 369.98 L1446 372.29 L1447.5 374.57 L1449 376.84 L1450.5 379.09 L1452 381.32 L1453.5 383.54 L1455 385.73 L1456.5 387.91 L1458 390.06 L1459.5 392.2 L1461 394.32 L1462.5 396.43 L1464 398.51 L1465.5 400.58 L1467 402.63 L1468.5 404.66 L1470 406.67 L1472 409.33 L1474 411.96 L1476 414.55 L1478 417.11 L1480 419.65 L1482 422.15 L1484 424.62 L1486 427.07 L1488 429.48 L1490 431.86 L1492 434.22 L1494 436.54 L1496 438.84 L1498 441.11 L1500 443.34 L1502 445.56 L1504 447.74 L1506 449.89 L1508 452.02 L1510 454.12 L1512 456.19 L1514 458.23 L1516 460.25 L1518 462.24 L1520 464.21 L1522 466.15 L1524 468.07 L1526 469.96 L1528 471.83 L1530 473.67 L1532 475.49 L1534 477.29 L1536 479.06 L1538 480.81 L1540 482.53 L1542 484.24 L1544 485.92 L1546 487.58 L1548 489.22 L1550 490.84 L1552 492.43 L1554 494.01 L1556 495.56 L1558 497.1 L1560 498.61 L1562 500.1 L1564 501.58 L1566 503.03 L1568 504.46 L1570 505.88 L1572 507.27 L1574 508.65 L1576 510.01 L1578 511.35 L1580 512.67 L1582 513.97 L1584 515.26 L1586 516.52 L1588 517.77 L1590 519 L1592 520.22 L1594 521.41 L1596 522.59 L1598 523.76 L1600 524.9 L1602 526.03 L1604 527.14 L1606 528.24 L1608 529.32 L1610 530.38 L1612 531.43 L1614 532.47 L1616 533.48 L1618 534.48" stroke="#000000"/>
<path d="M921 591.96 L923 591.59 L925 591.21 L927 590.82 L929 590.42 L931 590.01 L933 589.59 L935 589.16 L937 588.73 L939 588.28 L941 587.82 L943 587.35 L945 586.87 L947 586.38 L949 585.88 L951 585.37 L953 584.85 L955 584.33 L957 583.79 L959 583.24 L961 582.68 L963 582.11 L965 581.53 L967 580.94 L969 580.34 L971 579.73 L973 579.11 L975 578.48 L977 577.84 L979 577.19 L981 576.53 L983 575.86 L985 575.18 L987 574.49 L989 573.79 L991 573.08 L993 572.36 L995 571.63 L997 570.89 L999 570.14 L1001 569.38 L1003 568.61 L1005 567.83 L1007 567.04 L1009 566.24 L1011 565.43 L1013 564.61 L1015 563.79 L1017 562.95 L1019 562.1 L1021 561.24 L1023 560.37 L1025 559.49 L1027 558.6 L1029 557.7 L1031 556.8 L1033 555.88 L1035 554.95 L1037 554.02 L1039 553.07 L1041 552.11 L1043 551.15 L1045 550.17 L1047 549.19 L1049 548.2 L1051 547.19 L1053 546.18 L1055 545.16 L1057 544.13 L1059 543.09 L1061 542.04 L1063 540.98 L1065 539.91 L1067 538.84 L1069 537.75 L1071 536.65 L1073 535.55 L1075 534.44 L1077 533.32 L1079 532.19 L1081 531.05 L1083 529.9 L1085 528.74 L1087 527.58 L1089 526.4 L1091 525.22 L1093 524.03 L1095 522.83 L1097 521.63 L1099 520.41 L1101 519.19 L1103 517.96 L1105 516.72 L1107 515.47 L1109 514.21 L1111 512.95 L1113 511.68 L1115 510.4 L1117 509.11 L1119 507.82 L1121 506.52 L1123 505.21 L1125 503.88 L1127 502.55 L1129 501.21 L1131 499.85 L1133 498.48 L1135 497.09 L1137 495.69 L1139 494.27 L1141 492.83 L1143 491.37 L1145 489.88 L1147 488.37 L1149 486.84 L1151 485.27 L1153 483.68 L1155 482.06 L1157 480.4 L1159 478.7 L1161 476.96 L1163 475.18 L1165 473.35 L1167 471.47 L1169 469.53 L1171 467.53 L1173 465.47 L1175 463.33 L1177 461.11 L1179 458.8 L1181 456.39 L1183 453.86 L1185 451.21 L1186.5 449.12 L1188 446.94 L1189.5 444.66 L1191 442.25 L1192.5 439.71 L1194 437.01 L1195.5 434.15 L1196.5 432.13 L1197.5 430.02 L1198.5 427.82 L1199.5 425.52 L1200.5 423.11 L1201.5 420.58 L1202.5 417.93 L1203.5 415.14 L1204.5 412.21 L1205.5 409.12 L1206.5 405.87 L1207.5 402.45 L1208.5 398.85 L1209.5 395.06 L1210.5 391.09 L1211 389.03 L1211.5 386.92 L1212 384.77 L1212.5 382.58 L1213 380.34 L1213.5 378.07 L1214 375.76 L1214.5 373.41 L1215 371.05 L1215.5 368.65 L1216 366.25 L1216.5 363.83 L1217 361.4 L1217.5 358.98 L1218 356.56 L1218.5 354.16 L1219 351.78 L1219.5 349.42 L1220 347.09 L1220.5 344.79 L1221 342.53 L1221.5 340.32 L1222 338.14 L1222.5 336.01 L1223 333.92 L1223.5 331.88 L1224.5 327.95 L1225.5 324.21 L1226.5 320.66 L1227.5 317.28 L1228.5 314.08 L1229.5 311.04 L1230.5 308.16 L1231.5 305.42 L1232.5 302.81 L1233.5 300.32 L1234.5 297.96 L1235.5 295.69 L1236.5 293.52 L1237.5 291.42 L1238.5 289.4 L1240 286.47 L1241.5 283.65 L1243 280.92 L1244.5 278.28 L1246 275.7 L1247.5 273.17 L1249 270.69 L1250.5 268.25 L1252 265.83 L1253.5 263.44 L1255 261.06 L1256.5 258.7 L1258 256.33 L1259.5 253.97 L1261 251.6 L1262.5 249.22 L1264 246.83 L1265.5 244.41 L1267 241.97 L1268.5 239.5 L1270 237.01 L1271.5 234.53 L1273 232.07 L1274.5 229.65 L1276 227.29 L1277.5 224.99 L1279 222.78 L1280.5 220.65 L1282 218.62 L1284 216.06 L1286 213.68 L1288 211.48 L1290 209.45 L1292 207.6 L1294 205.91 L1296 204.38 L1298 202.99 L1300 201.74 L1302 200.62 L1304 199.63 L1306 198.77 L1308 198.03 L1310 197.41 L1312 196.94 L1314 196.6 L1316 196.41 L1318 196.39 L1320 196.54 L1322 196.9 L1324 197.48 L1326 198.33 L1328 199.46 L1330 200.86 L1332 202.53 L1334 204.44 L1336 206.56 L1338 208.86 L1340 211.28 L1342 213.76 L1344 216.27 L1346 218.82 L1348 221.41 L1350 224.03 L1352 226.69 L1353.5 228.71 L1355 230.74 L1356.5 232.8 L1358 234.88 L1359.5 236.98 L1361 239.1 L1362.5 241.24 L1364 243.4 L1365.5 245.58 L1367 247.78 L1368.5 250 L1370 252.24 L1371.5 254.49 L1373 256.77 L1374.5 259.06 L1376 261.37 L1377.5 263.69 L1379 266.03 L1380.5 268.39 L1382 270.77 L1383.5 273.16 L1385 275.56 L1386.5 277.98 L1388 280.41 L1389.5 282.85 L1391 285.31 L1392.5 287.78 L1394 290.25 L1395.5 292.74 L1397 295.24 L1398.5 297.74 L1400 300.25 L1401.5 302.77 L1403 305.3 L1404.5 307.83 L1406 310.36 L1407.5 312.89 L1409 315.43 L1410.5 317.97 L1412 320.51 L1413.5 323.05 L1415 325.59 L1416.5 328.12 L1418 330.65 L1419.5 333.18 L1421 335.7 L1422.5 338.22 L1424 340.73 L1425.5 343.23 L1427 345.72 L1428.5 348.21 L1430 350.68 L1431.5 353.14 L1433 355.59 L1434.5 358.03 L1436 360.46 L1437.5 362.87 L1439 365.27 L1440.5 367.65 L1442 370.02 L1443.5 372.37 L1445 374.7 L1446.5 377.02 L1448 379.32 L1449.5 381.6 L1451 383.86 L1452.5 386.11 L1454 388.34 L1455.5 390.54 L1457 392.73 L1458.5 394.9 L1460 397.04 L1461.5 399.17 L1463 401.28 L1464.5 403.36 L1466 405.43 L1467.5 407.47 L1469 409.5 L1470.5 411.5 L1472.5 414.14 L1474.5 416.74 L1476.5 419.3 L1478.5 421.82 L1480.5 424.31 L1482.5 426.76 L1484.5 429.18 L1486.5 431.56 L1488.5 433.91 L1490.5 436.22 L1492.5 438.5 L1494.5 440.75 L1496.5 442.97 L1498.5 445.16 L1500.5 447.32 L1502.5 449.46 L1504.5 451.56 L1506.5 453.64 L1508.5 455.69 L1510.5 457.71 L1512.5 459.71 L1514.5 461.68 L1516.5 463.63 L1518.5 465.55 L1520.5 467.45 L1522.5 469.33 L1524.5 471.18 L1526.5 473.01 L1528.5 474.82 L1530.5 476.6 L1532.5 478.37 L1534.5 480.11 L1536.5 481.83 L1538.5 483.53 L1540.5 485.21 L1542.5 486.86 L1544.5 488.5 L1546.5 490.12 L1548.5 491.72 L1550.5 493.3 L1552.5 494.86 L1554.5 496.4 L1556.5 497.92 L1558.5 499.42 L1560.5 500.91 L1562.5 502.38 L1564.5 503.83 L1566.5 505.26 L1568.5 506.67 L1570.5 508.07 L1572.5 509.45 L1574.5 510.81 L1576.5 512.15 L1578.5 513.48 L1580.5 514.79 L1582.5 516.09 L1584.5 517.37 L1586.5 518.63 L1588.5 519.87 L1590.5 521.1 L1592.5 522.32 L1594.5 523.51 L1596.5 524.7 L1598.5 525.86 L1600.5 527.01 L1602.5 528.15 L1604.5 529.27 L1606.5 530.37 L1608.5 531.46 L1610.5 532.53 L1612.5 533.59 L1614.5 534.64 L1616.5 535.67 L1618 536.15" stroke="#ff0000"/>
<path d="M921 592.01 L923 591.64 L925 591.25 L927 590.86 L929 590.45 L931 590.04 L933 589.61 L935 589.18 L937 588.73 L939 588.28 L941 587.82 L943 587.34 L945 586.86 L947 586.37 L949 585.86 L951 585.35 L953 584.83 L955 584.3 L957 583.76 L959 583.2 L961 582.64 L963 582.07 L965 581.49 L967 580.9 L969 580.3 L971 579.69 L973 579.07 L975 578.44 L977 577.8 L979 577.15 L981 576.49 L983 575.82 L985 575.14 L987 574.45 L989 573.75 L991 573.04 L993 572.33 L995 571.6 L997 570.86 L999 570.11 L1001 569.35 L1003 568.58 L1005 567.81 L1007 567.02 L1009 566.22 L1011 565.42 L1013 564.6 L1015 563.77 L1017 562.94 L1019 562.09 L1021 561.24 L1023 560.37 L1025 559.49 L1027 558.61 L1029 557.72 L1031 556.81 L1033 555.9 L1035 554.97 L1037 554.04 L1039 553.1 L1041 552.15 L1043 551.18 L1045 550.21 L1047 549.23 L1049 548.24 L1051 547.24 L1053 546.23 L1055 545.21 L1057 544.19 L1059 543.15 L1061 542.1 L1063 541.05 L1065 539.98 L1067 538.91 L1069 537.82 L1071 536.73 L1073 535.63 L1075 534.51 L1077 533.39 L1079 532.26 L1081 531.13 L1083 529.98 L1085 528.82 L1087 527.65 L1089 526.48 L1091 525.3 L1093 524.1 L1095 522.9 L1097 521.69 L1099 520.47 L1101 519.24 L1103 518.01 L1105 516.76 L1107 515.51 L1109 514.25 L1111 512.98 L1113 511.7 L1115 510.41 L1117 509.11 L1119 507.81 L1121 506.5 L1123 505.17 L1125 503.84 L1127 502.5 L1129 501.14 L1131 499.77 L1133 498.38 L1135 496.98 L1137 495.56 L1139 494.12 L1141 492.66 L1143 491.17 L1145 489.67 L1147 488.14 L1149 486.58 L1151 484.99 L1153 483.37 L1155 481.72 L1157 480.03 L1159 478.3 L1161 476.53 L1163 474.72 L1165 472.85 L1167 470.93 L1169 468.95 L1171 466.91 L1173 464.8 L1175 462.61 L1177 460.34 L1179 457.97 L1181 455.49 L1183 452.89 L1184.5 450.86 L1186 448.73 L1187.5 446.51 L1189 444.18 L1190.5 441.73 L1192 439.14 L1193.5 436.39 L1195 433.47 L1196 431.41 L1197 429.27 L1198 427.04 L1199 424.7 L1200 422.25 L1201 419.69 L1202 417.01 L1203 414.2 L1204 411.25 L1205 408.16 L1206 404.91 L1207 401.51 L1208 397.95 L1209 394.22 L1210 390.33 L1210.5 388.33 L1211 386.28 L1211.5 384.2 L1212 382.08 L1212.5 379.92 L1213 377.74 L1213.5 375.53 L1214 373.29 L1214.5 371.03 L1215 368.75 L1215.5 366.45 L1216 364.15 L1216.5 361.85 L1217 359.55 L1217.5 357.26 L1218 354.97 L1218.5 352.71 L1219 350.46 L1219.5 348.25 L1220 346.06 L1220.5 343.9 L1221 341.78 L1221.5 339.7 L1222 337.66 L1223 333.71 L1224 329.93 L1225 326.32 L1226 322.89 L1227 319.63 L1228 316.53 L1229 313.58 L1230 310.77 L1231 308.1 L1232 305.55 L1233 303.13 L1234 300.81 L1235 298.6 L1236 296.48 L1237 294.44 L1238.5 291.5 L1240 288.71 L1241.5 286.02 L1243 283.42 L1244.5 280.9 L1246 278.45 L1247.5 276.04 L1249 273.68 L1250.5 271.36 L1252 269.06 L1253.5 266.79 L1255 264.53 L1256.5 262.28 L1258 260.03 L1259.5 257.79 L1261 255.53 L1262.5 253.27 L1264 250.98 L1265.5 248.68 L1267 246.34 L1268.5 243.98 L1270 241.6 L1271.5 239.2 L1273 236.81 L1274.5 234.43 L1276 232.08 L1277.5 229.75 L1279 227.48 L1280.5 225.26 L1282 223.12 L1283.5 221.05 L1285.5 218.44 L1287.5 215.99 L1289.5 213.73 L1291.5 211.65 L1293.5 209.76 L1295.5 208.06 L1297.5 206.53 L1299.5 205.18 L1301.5 203.99 L1303.5 202.95 L1305.5 202.07 L1307.5 201.34 L1309.5 200.75 L1311.5 200.31 L1313.5 200 L1315.5 199.84 L1317.5 199.83 L1319.5 199.98 L1321.5 200.32 L1323.5 200.84 L1325.5 201.59 L1327.5 202.58 L1329.5 203.82 L1331.5 205.28 L1333.5 206.98 L1335.5 208.89 L1337.5 210.98 L1339.5 213.22 L1341.5 215.56 L1343.5 217.98 L1345.5 220.48 L1347.5 223.05 L1349.5 225.69 L1351 227.72 L1352.5 229.78 L1354 231.87 L1355.5 233.99 L1357 236.13 L1358.5 238.29 L1360 240.47 L1361.5 242.66 L1363 244.88 L1364.5 247.1 L1366 249.35 L1367.5 251.61 L1369 253.89 L1370.5 256.18 L1372 258.49 L1373.5 260.81 L1375 263.15 L1376.5 265.5 L1378 267.86 L1379.5 270.24 L1381 272.63 L1382.5 275.03 L1384 277.44 L1385.5 279.87 L1387 282.3 L1388.5 284.75 L1390 287.2 L1391.5 289.67 L1393 292.14 L1394.5 294.62 L1396 297.1 L1397.5 299.59 L1399 302.09 L1400.5 304.59 L1402 307.1 L1403.5 309.6 L1405 312.11 L1406.5 314.62 L1408 317.13 L1409.5 319.65 L1411 322.16 L1412.5 324.66 L1414 327.17 L1415.5 329.67 L1417 332.17 L1418.5 334.66 L1420 337.15 L1421.5 339.63 L1423 342.1 L1424.5 344.57 L1426 347.02 L1427.5 349.47 L1429 351.91 L1430.5 354.33 L1432 356.75 L1433.5 359.15 L1435 361.54 L1436.5 363.92 L1438 366.28 L1439.5 368.63 L1441 370.96 L1442.5 373.28 L1444 375.59 L1445.5 377.87 L1447 380.14 L1448.5 382.4 L1450 384.63 L1451.5 386.85 L1453 389.05 L1454.5 391.24 L1456 393.4 L1457.5 395.55 L1459 397.68 L1460.5 399.78 L1462 401.87 L1463.5 403.94 L1465 405.99 L1466.5 408.02 L1468 410.04 L1470 412.69 L1472 415.3 L1474 417.88 L1476 420.43 L1478 422.94 L1480 425.42 L1482 427.86 L1484 430.27 L1486 432.64 L1488 434.98 L1490 437.29 L1492 439.57 L1494 441.82 L1496 444.04 L1498 446.23 L1500 448.39 L1502 450.52 L1504 452.62 L1506 454.7 L1508 456.75 L1510 458.77 L1512 460.77 L1514 462.74 L1516 464.69 L1518 466.61 L1520 468.51 L1522 470.39 L1524 472.24 L1526 474.07 L1528 475.87 L1530 477.66 L1532 479.42 L1534 481.16 L1536 482.88 L1538 484.57 L1540 486.25 L1542 487.9 L1544 489.54 L1546 491.15 L1548 492.75 L1550 494.32 L1552 495.88 L1554 497.41 L1556 498.93 L1558 500.43 L1560 501.91 L1562 503.37 L1564 504.81 L1566 506.23 L1568 507.64 L1570 509.03 L1572 510.4 L1574 511.75 L1576 513.09 L1578 514.4 L1580 515.7 L1582 516.99 L1584 518.25 L1586 519.5 L1588 520.74 L1590 521.95 L1592 523.15 L1594 524.33 L1596 525.5 L1598 526.65 L1600 527.79 L1602 528.9 L1604 530 L1606 531.09 L1608 532.16 L1610 533.21 L1612 534.25 L1614 535.28 L1616 536.28 L1618 537.13" stroke="#00ff00"/>
<path d="M921 592.08 L923 591.7 L925 591.3 L927 590.9 L929 590.49 L931 590.06 L933 589.63 L935 589.19 L937 588.74 L939 588.28 L941 587.81 L943 587.33 L945 586.85 L947 586.35 L949 585.84 L951 585.33 L953 584.8 L955 584.26 L957 583.72 L959 583.17 L961 582.6 L963 582.03 L965 581.45 L967 580.85 L969 580.25 L971 579.64 L973 579.02 L975 578.39 L977 577.75 L979 577.1 L981 576.44 L983 575.77 L985 575.09 L987 574.4 L989 573.7 L991 573 L993 572.28 L995 571.55 L997 570.82 L999 570.07 L1001 569.32 L1003 568.55 L1005 567.78 L1007 566.99 L1009 566.2 L1011 565.39 L1013 564.58 L1015 563.76 L1017 562.93 L1019 562.08 L1021 561.23 L1023 560.37 L1025 559.5 L1027 558.62 L1029 557.73 L1031 556.83 L1033 555.92 L1035 555 L1037 554.07 L1039 553.13 L1041 552.19 L1043 551.23 L1045 550.26 L1047 549.28 L1049 548.3 L1051 547.3 L1053 546.3 L1055 545.28 L1057 544.26 L1059 543.22 L1061 542.18 L1063 541.13 L1065 540.06 L1067 538.99 L1069 537.91 L1071 536.82 L1073 535.72 L1075 534.61 L1077 533.49 L1079 532.36 L1081 531.22 L1083 530.07 L1085 528.91 L1087 527.75 L1089 526.57 L1091 525.38 L1093 524.19 L1095 522.98 L1097 521.77 L1099 520.55 L1101 519.31 L1103 518.07 L1105 516.82 L1107 515.56 L1109 514.29 L1111 513.01 L1113 511.72 L1115 510.42 L1117 509.12 L1119 507.8 L1121 506.47 L1123 505.14 L1125 503.79 L1127 502.43 L1129 501.05 L1131 499.67 L1133 498.26 L1135 496.84 L1137 495.4 L1139 493.93 L1141 492.45 L1143 490.94 L1145 489.41 L1147 487.86 L1149 486.27 L1151 484.65 L1153 483 L1155 481.32 L1157 479.59 L1159 477.83 L1161 476.02 L1163 474.16 L1165 472.26 L1167 470.29 L1169 468.26 L1171 466.17 L1173 464 L1175 461.75 L1177 459.41 L1179 456.97 L1181 454.41 L1182.5 452.41 L1184 450.33 L1185.5 448.16 L1187 445.89 L1188.5 443.5 L1190 440.99 L1191.5 438.33 L1193 435.51 L1194.5 432.52 L1195.5 430.42 L1196.5 428.23 L1197.5 425.94 L1198.5 423.55 L1199.5 421.05 L1200.5 418.44 L1201.5 415.71 L1202.5 412.86 L1203.5 409.87 L1204.5 406.74 L1205.5 403.48 L1206.5 400.07 L1207.5 396.51 L1208.5 392.81 L1209.5 388.98 L1210.5 385.01 L1211 382.98 L1211.5 380.93 L1212 378.84 L1212.5 376.74 L1213 374.62 L1213.5 372.48 L1214 370.32 L1214.5 368.16 L1215 365.99 L1215.5 363.82 L1216 361.65 L1216.5 359.48 L1217 357.33 L1217.5 355.19 L1218 353.06 L1218.5 350.96 L1219 348.89 L1219.5 346.84 L1220 344.82 L1221 340.88 L1222 337.09 L1223 333.45 L1224 329.97 L1225 326.64 L1226 323.47 L1227 320.45 L1228 317.56 L1229 314.81 L1230 312.19 L1231 309.69 L1232 307.3 L1233 305.02 L1234 302.83 L1235 300.74 L1236 298.73 L1237.5 295.86 L1239 293.14 L1240.5 290.54 L1242 288.04 L1243.5 285.62 L1245 283.28 L1246.5 280.99 L1248 278.75 L1249.5 276.55 L1251 274.38 L1252.5 272.23 L1254 270.1 L1255.5 267.99 L1257 265.88 L1258.5 263.77 L1260 261.66 L1261.5 259.54 L1263 257.4 L1264.5 255.25 L1266 253.06 L1267.5 250.85 L1269 248.61 L1270.5 246.33 L1272 244.04 L1273.5 241.72 L1275 239.39 L1276.5 237.04 L1278 234.68 L1279.5 232.34 L1281 230.03 L1282.5 227.77 L1284 225.57 L1285.5 223.45 L1287 221.43 L1289 218.88 L1291 216.53 L1293 214.4 L1295 212.48 L1297 210.77 L1299 209.28 L1301 207.99 L1303 206.9 L1305 206 L1307 205.27 L1309 204.71 L1311 204.3 L1313 204.04 L1315 203.92 L1317 203.95 L1319 204.12 L1321 204.44 L1323 204.93 L1325 205.6 L1327 206.46 L1329 207.52 L1331 208.78 L1333 210.24 L1335 211.9 L1337 213.74 L1339 215.76 L1341 217.92 L1343 220.2 L1345 222.61 L1347 225.15 L1349 227.8 L1350.5 229.86 L1352 231.97 L1353.5 234.13 L1355 236.33 L1356.5 238.55 L1358 240.79 L1359.5 243.05 L1361 245.32 L1362.5 247.61 L1364 249.91 L1365.5 252.22 L1367 254.54 L1368.5 256.88 L1370 259.22 L1371.5 261.58 L1373 263.95 L1374.5 266.33 L1376 268.72 L1377.5 271.12 L1379 273.53 L1380.5 275.95 L1382 278.38 L1383.5 280.82 L1385 283.26 L1386.5 285.71 L1388 288.16 L1389.5 290.62 L1391 293.09 L1392.5 295.56 L1394 298.04 L1395.5 300.51 L1397 303 L1398.5 305.48 L1400 307.96 L1401.5 310.45 L1403 312.93 L1404.5 315.42 L1406 317.9 L1407.5 320.38 L1409 322.86 L1410.5 325.34 L1412 327.81 L1413.5 330.27 L1415 332.74 L1416.5 335.19 L1418 337.64 L1419.5 340.09 L1421 342.52 L1422.5 344.95 L1424 347.37 L1425.5 349.78 L1427 352.17 L1428.5 354.56 L1430 356.94 L1431.5 359.31 L1433 361.66 L1434.5 364 L1436 366.33 L1437.5 368.64 L1439 370.95 L1440.5 373.23 L1442 375.51 L1443.5 377.76 L1445 380.01 L1446.5 382.23 L1448 384.44 L1449.5 386.64 L1451 388.82 L1452.5 390.98 L1454 393.12 L1455.5 395.25 L1457 397.36 L1458.5 399.45 L1460 401.53 L1461.5 403.59 L1463 405.63 L1464.5 407.65 L1466 409.65 L1468 412.3 L1470 414.91 L1472 417.49 L1474 420.04 L1476 422.55 L1478 425.04 L1480 427.49 L1482 429.91 L1484 432.29 L1486 434.65 L1488 436.97 L1490 439.27 L1492 441.53 L1494 443.77 L1496 445.98 L1498 448.15 L1500 450.31 L1502 452.43 L1504 454.52 L1506 456.59 L1508 458.63 L1510 460.65 L1512 462.64 L1514 464.61 L1516 466.55 L1518 468.46 L1520 470.35 L1522 472.22 L1524 474.06 L1526 475.88 L1528 477.68 L1530 479.45 L1532 481.21 L1534 482.94 L1536 484.65 L1538 486.33 L1540 488 L1542 489.65 L1544 491.27 L1546 492.87 L1548 494.46 L1550 496.02 L1552 497.57 L1554 499.09 L1556 500.6 L1558 502.08 L1560 503.55 L1562 505 L1564 506.42 L1566 507.83 L1568 509.22 L1570 510.6 L1572 511.95 L1574 513.29 L1576 514.61 L1578 515.91 L1580 517.19 L1582 518.45 L1584 519.7 L1586 520.93 L1588 522.14 L1590 523.34 L1592 524.52 L1594 525.68 L1596 526.82 L1598 527.95 L1600 529.06 L1602 530.15 L1604 531.22 L1606 532.28 L1608 533.33 L1610 534.35 L1612 535.36 L1614 536.35 L1616 537.33 L1618 538.3" stroke="#0000ff"/>
<path d="M921 592.13 L923 591.74 L925 591.34 L927 590.93 L929 590.51 L931 590.09 L933 589.65 L935 589.2 L937 588.75 L939 588.28 L941 587.81 L943 587.33 L945 586.84 L947 586.34 L949 585.83 L951 585.31 L953 584.78 L955 584.24 L957 583.69 L959 583.13 L961 582.57 L963 581.99 L965 581.41 L967 580.82 L969 580.21 L971 579.6 L973 578.98 L975 578.35 L977 577.71 L979 577.06 L981 576.4 L983 575.73 L985 575.05 L987 574.36 L989 573.67 L991 572.96 L993 572.24 L995 571.52 L997 570.79 L999 570.04 L1001 569.29 L1003 568.52 L1005 567.75 L1007 566.97 L1009 566.18 L1011 565.38 L1013 564.57 L1015 563.75 L1017 562.92 L1019 562.08 L1021 561.23 L1023 560.37 L1025 559.5 L1027 558.63 L1029 557.74 L1031 556.84 L1033 555.94 L1035 555.02 L1037 554.1 L1039 553.16 L1041 552.22 L1043 551.26 L1045 550.3 L1047 549.32 L1049 548.34 L1051 547.35 L1053 546.35 L1055 545.33 L1057 544.31 L1059 543.28 L1061 542.24 L1063 541.19 L1065 540.13 L1067 539.06 L1069 537.98 L1071 536.89 L1073 535.79 L1075 534.68 L1077 533.56 L1079 532.43 L1081 531.29 L1083 530.14 L1085 528.98 L1087 527.82 L1089 526.64 L1091 525.45 L1093 524.25 L1095 523.05 L1097 521.83 L1099 520.6 L1101 519.36 L1103 518.12 L1105 516.86 L1107 515.6 L1109 514.32 L1111 513.03 L1113 511.74 L1115 510.43 L1117 509.12 L1119 507.79 L1121 506.46 L1123 505.11 L1125 503.75 L1127 502.38 L1129 500.99 L1131 499.59 L1133 498.17 L1135 496.73 L1137 495.27 L1139 493.79 L1141 492.29 L1143 490.77 L1145 489.22 L1147 487.64 L1149 486.03 L1151 484.39 L1153 482.72 L1155 481.01 L1157 479.26 L1159 477.47 L1161 475.63 L1163 473.74 L1165 471.8 L1167 469.8 L1169 467.73 L1171 465.6 L1173 463.39 L1175 461.09 L1177 458.7 L1179 456.2 L1181 453.59 L1182.5 451.54 L1184 449.4 L1185.5 447.17 L1187 444.84 L1188.5 442.38 L1190 439.79 L1191.5 437.04 L1193 434.13 L1194 432.09 L1195 429.96 L1196 427.74 L1197 425.43 L1198 423.01 L1199 420.49 L1200 417.85 L1201 415.1 L1202 412.22 L1203 409.21 L1204 406.08 L1205 402.8 L1206 399.39 L1207 395.85 L1208 392.17 L1209 388.37 L1210 384.46 L1211 380.45 L1211.5 378.42 L1212 376.36 L1212.5 374.3 L1213 372.22 L1213.5 370.14 L1214 368.05 L1214.5 365.96 L1215 363.87 L1215.5 361.79 L1216 359.72 L1216.5 357.66 L1217 355.62 L1217.5 353.6 L1218.5 349.63 L1219.5 345.76 L1220.5 342.02 L1221.5 338.41 L1222.5 334.94 L1223.5 331.61 L1224.5 328.43 L1225.5 325.39 L1226.5 322.48 L1227.5 319.7 L1228.5 317.04 L1229.5 314.51 L1230.5 312.08 L1231.5 309.76 L1232.5 307.54 L1233.5 305.41 L1234.5 303.37 L1236 300.47 L1237.5 297.72 L1239 295.12 L1240.5 292.64 L1242 290.26 L1243.5 287.96 L1245 285.73 L1246.5 283.55 L1248 281.43 L1249.5 279.34 L1251 277.28 L1252.5 275.24 L1254 273.22 L1255.5 271.22 L1257 269.21 L1258.5 267.21 L1260 265.2 L1261.5 263.19 L1263 261.15 L1264.5 259.1 L1266 257.02 L1267.5 254.91 L1269 252.76 L1270.5 250.58 L1272 248.36 L1273.5 246.09 L1275 243.79 L1276.5 241.44 L1278 239.05 L1279.5 236.64 L1281 234.25 L1282.5 231.88 L1284 229.55 L1285.5 227.3 L1287 225.13 L1288.5 223.07 L1290.5 220.5 L1292.5 218.15 L1294.5 216.04 L1296.5 214.17 L1298.5 212.55 L1300.5 211.16 L1302.5 209.99 L1304.5 209.05 L1306.5 208.31 L1308.5 207.76 L1310.5 207.36 L1312.5 207.13 L1314.5 207.03 L1316.5 207.08 L1318.5 207.26 L1320.5 207.58 L1322.5 208.04 L1324.5 208.65 L1326.5 209.42 L1328.5 210.35 L1330.5 211.45 L1332.5 212.73 L1334.5 214.19 L1336.5 215.83 L1338.5 217.66 L1340.5 219.65 L1342.5 221.81 L1344.5 224.13 L1346.5 226.61 L1348.5 229.25 L1350 231.31 L1351.5 233.45 L1353 235.65 L1354.5 237.9 L1356 240.19 L1357.5 242.49 L1359 244.81 L1360.5 247.14 L1362 249.49 L1363.5 251.84 L1365 254.2 L1366.5 256.57 L1368 258.96 L1369.5 261.35 L1371 263.75 L1372.5 266.15 L1374 268.57 L1375.5 270.99 L1377 273.42 L1378.5 275.86 L1380 278.3 L1381.5 280.75 L1383 283.2 L1384.5 285.66 L1386 288.12 L1387.5 290.58 L1389 293.05 L1390.5 295.52 L1392 297.99 L1393.5 300.47 L1395 302.94 L1396.5 305.41 L1398 307.89 L1399.5 310.36 L1401 312.83 L1402.5 315.3 L1404 317.77 L1405.5 320.23 L1407 322.69 L1408.5 325.15 L1410 327.6 L1411.5 330.04 L1413 332.48 L1414.5 334.92 L1416 337.34 L1417.5 339.76 L1419 342.17 L1420.5 344.57 L1422 346.97 L1423.5 349.35 L1425 351.72 L1426.5 354.09 L1428 356.44 L1429.5 358.78 L1431 361.11 L1432.5 363.43 L1434 365.73 L1435.5 368.02 L1437 370.3 L1438.5 372.57 L1440 374.82 L1441.5 377.06 L1443 379.28 L1444.5 381.49 L1446 383.68 L1447.5 385.86 L1449 388.03 L1450.5 390.17 L1452 392.31 L1453.5 394.42 L1455 396.52 L1456.5 398.61 L1458 400.67 L1459.5 402.73 L1461 404.76 L1462.5 406.78 L1464 408.78 L1466 411.42 L1468 414.03 L1470 416.62 L1472 419.17 L1474 421.69 L1476 424.18 L1478 426.64 L1480 429.07 L1482 431.47 L1484 433.84 L1486 436.19 L1488 438.5 L1490 440.78 L1492 443.04 L1494 445.26 L1496 447.46 L1498 449.63 L1500 451.78 L1502 453.89 L1504 455.98 L1506 458.04 L1508 460.08 L1510 462.09 L1512 464.07 L1514 466.03 L1516 467.97 L1518 469.88 L1520 471.76 L1522 473.62 L1524 475.46 L1526 477.27 L1528 479.06 L1530 480.83 L1532 482.58 L1534 484.3 L1536 486 L1538 487.68 L1540 489.34 L1542 490.98 L1544 492.6 L1546 494.2 L1548 495.77 L1550 497.33 L1552 498.86 L1554 500.38 L1556 501.87 L1558 503.35 L1560 504.81 L1562 506.24 L1564 507.66 L1566 509.06 L1568 510.44 L1570 511.8 L1572 513.14 L1574 514.47 L1576 515.77 L1578 517.06 L1580 518.33 L1582 519.58 L1584 520.81 L1586 522.03 L1588 523.22 L1590 524.4 L1592 525.56 L1594 526.71 L1596 527.83 L1598 528.94 L1600 530.03 L1602 531.1 L1604 532.16 L1606 533.2 L1608 534.22 L1610 535.22 L1612 536.21 L1614 537.18 L1616 538.13 L1618 539.19" stroke="#00ffff"/>
<path d="M921 592.18 L923 591.78 L925 591.38 L927 590.96 L929 590.54 L931 590.11 L933 589.66 L935 589.21 L937 588.75 L939 588.29 L941 587.81 L943 587.32 L945 586.83 L947 586.32 L949 585.81 L951 585.29 L953 584.75 L955 584.21 L957 583.66 L959 583.11 L961 582.54 L963 581.96 L965 581.38 L967 580.78 L969 580.18 L971 579.56 L973 578.94 L975 578.31 L977 577.67 L979 577.02 L981 576.36 L983 575.69 L985 575.01 L987 574.33 L989 573.63 L991 572.93 L993 572.21 L995 571.49 L997 570.75 L999 570.01 L1001 569.26 L1003 568.5 L1005 567.73 L1007 566.95 L1009 566.16 L1011 565.36 L1013 564.55 L1015 563.74 L1017 562.91 L1019 562.07 L1021 561.23 L1023 560.37 L1025 559.51 L1027 558.63 L1029 557.75 L1031 556.86 L1033 555.95 L1035 555.04 L1037 554.12 L1039 553.19 L1041 552.24 L1043 551.29 L1045 550.33 L1047 549.36 L1049 548.38 L1051 547.39 L1053 546.39 L1055 545.38 L1057 544.36 L1059 543.33 L1061 542.29 L1063 541.25 L1065 540.19 L1067 539.12 L1069 538.04 L1071 536.95 L1073 535.85 L1075 534.74 L1077 533.63 L1079 532.5 L1081 531.36 L1083 530.21 L1085 529.05 L1087 527.88 L1089 526.7 L1091 525.51 L1093 524.31 L1095 523.11 L1097 521.89 L1099 520.66 L1101 519.41 L1103 518.16 L1105 516.9 L1107 515.63 L1109 514.35 L1111 513.06 L1113 511.75 L1115 510.44 L1117 509.12 L1119 507.78 L1121 506.44 L1123 505.08 L1125 503.71 L1127 502.33 L1129 500.93 L1131 499.51 L1133 498.08 L1135 496.63 L1137 495.15 L1139 493.66 L1141 492.14 L1143 490.6 L1145 489.03 L1147 487.43 L1149 485.8 L1151 484.14 L1153 482.45 L1155 480.71 L1157 478.94 L1159 477.12 L1161 475.25 L1163 473.33 L1165 471.36 L1167 469.33 L1169 467.23 L1171 465.05 L1173 462.8 L1175 460.46 L1177 458.02 L1179 455.47 L1181 452.8 L1182.5 450.7 L1184 448.51 L1185.5 446.23 L1187 443.83 L1188.5 441.31 L1190 438.63 L1191.5 435.8 L1193 432.8 L1194 430.7 L1195 428.5 L1196 426.21 L1197 423.83 L1198 421.34 L1199 418.74 L1200 416.02 L1201 413.19 L1202 410.23 L1203 407.15 L1204 403.93 L1205 400.58 L1206 397.1 L1207 393.5 L1208 389.77 L1209 385.95 L1210 382.02 L1211 378.03 L1211.5 376.02 L1212 373.99 L1212.5 371.96 L1213 369.93 L1213.5 367.9 L1214 365.87 L1214.5 363.86 L1215 361.85 L1216 357.88 L1217 353.99 L1218 350.2 L1219 346.52 L1220 342.96 L1221 339.53 L1222 336.24 L1223 333.07 L1224 330.03 L1225 327.12 L1226 324.34 L1227 321.67 L1228 319.12 L1229 316.67 L1230 314.32 L1231 312.08 L1232 309.92 L1233 307.85 L1234.5 304.9 L1236 302.12 L1237.5 299.5 L1239 297.01 L1240.5 294.65 L1242 292.38 L1243.5 290.19 L1245 288.07 L1246.5 286.01 L1248 283.99 L1250 281.35 L1252 278.76 L1254 276.21 L1256 273.67 L1258 271.14 L1260 268.6 L1262 266.04 L1264 263.44 L1266 260.81 L1267.5 258.79 L1269 256.74 L1270.5 254.64 L1272 252.49 L1273.5 250.28 L1275 248 L1276.5 245.65 L1278 243.22 L1279.5 240.76 L1281 238.28 L1282.5 235.8 L1284 233.36 L1285.5 230.98 L1287 228.68 L1288.5 226.49 L1290 224.41 L1292 221.85 L1294 219.54 L1296 217.5 L1298 215.73 L1300 214.23 L1302 212.98 L1304 211.98 L1306 211.22 L1308 210.66 L1310 210.28 L1312 210.06 L1314 209.99 L1316 210.05 L1318 210.25 L1320 210.57 L1322 211.02 L1324 211.59 L1326 212.28 L1328 213.1 L1330 214.06 L1332 215.18 L1334 216.45 L1336 217.9 L1338 219.53 L1340 221.35 L1342 223.37 L1344 225.59 L1346 228 L1348 230.6 L1349.5 232.66 L1351 234.81 L1352.5 237.04 L1354 239.34 L1355.5 241.68 L1357 244.04 L1358.5 246.42 L1360 248.81 L1361.5 251.21 L1363 253.62 L1364.5 256.03 L1366 258.45 L1367.5 260.88 L1369 263.31 L1370.5 265.75 L1372 268.2 L1373.5 270.65 L1375 273.11 L1376.5 275.56 L1378 278.03 L1379.5 280.49 L1381 282.96 L1382.5 285.43 L1384 287.91 L1385.5 290.38 L1387 292.86 L1388.5 295.33 L1390 297.81 L1391.5 300.28 L1393 302.76 L1394.5 305.23 L1396 307.7 L1397.5 310.16 L1399 312.63 L1400.5 315.09 L1402 317.54 L1403.5 320 L1405 322.44 L1406.5 324.88 L1408 327.32 L1409.5 329.75 L1411 332.17 L1412.5 334.58 L1414 336.99 L1415.5 339.38 L1417 341.77 L1418.5 344.15 L1420 346.52 L1421.5 348.88 L1423 351.24 L1424.5 353.58 L1426 355.91 L1427.5 358.22 L1429 360.53 L1430.5 362.82 L1432 365.11 L1433.5 367.38 L1435 369.64 L1436.5 371.88 L1438 374.11 L1439.5 376.33 L1441 378.53 L1442.5 380.72 L1444 382.9 L1445.5 385.06 L1447 387.21 L1448.5 389.34 L1450 391.46 L1451.5 393.57 L1453 395.66 L1454.5 397.73 L1456 399.79 L1457.5 401.83 L1459 403.86 L1460.5 405.87 L1462.5 408.53 L1464.5 411.16 L1466.5 413.76 L1468.5 416.33 L1470.5 418.88 L1472.5 421.4 L1474.5 423.89 L1476.5 426.35 L1478.5 428.78 L1480.5 431.19 L1482.5 433.57 L1484.5 435.92 L1486.5 438.24 L1488.5 440.53 L1490.5 442.8 L1492.5 445.03 L1494.5 447.24 L1496.5 449.43 L1498.5 451.58 L1500.5 453.71 L1502.5 455.82 L1504.5 457.89 L1506.5 459.94 L1508.5 461.97 L1510.5 463.96 L1512.5 465.94 L1514.5 467.88 L1516.5 469.8 L1518.5 471.7 L1520.5 473.57 L1522.5 475.42 L1524.5 477.25 L1526.5 479.05 L1528.5 480.83 L1530.5 482.59 L1532.5 484.32 L1534.5 486.03 L1536.5 487.72 L1538.5 489.39 L1540.5 491.04 L1542.5 492.66 L1544.5 494.27 L1546.5 495.85 L1548.5 497.41 L1550.5 498.96 L1552.5 500.48 L1554.5 501.98 L1556.5 503.46 L1558.5 504.92 L1560.5 506.37 L1562.5 507.79 L1564.5 509.19 L1566.5 510.58 L1568.5 511.94 L1570.5 513.29 L1572.5 514.61 L1574.5 515.92 L1576.5 517.21 L1578.5 518.48 L1580.5 519.73 L1582.5 520.96 L1584.5 522.17 L1586.5 523.37 L1588.5 524.55 L1590.5 525.71 L1592.5 526.85 L1594.5 527.97 L1596.5 529.07 L1598.5 530.16 L1600.5 531.23 L1602.5 532.28 L1604.5 533.31 L1606.5 534.32 L1608.5 535.32 L1610.5 536.3 L1612.5 537.26 L1614.5 538.2 L1616.5 539.13 L1618 540.05" stroke="#ff00ff"/>
</g>
<g fill="none" stroke-width="3.3" stroke-linejoin="round">
<path d="M93.3 1488.66 L95.3 1488.31 L97.3 1487.94 L99.3 1487.56 L101.3 1487.17 L103.3 1486.77 L105.3 1486.35 L107.3 1485.93 L109.3 1485.5 L111.3 1485.06 L113.3 1484.61 L115.3 1484.14 L117.3 1483.67 L119.3 1483.19 L121.3 1482.69 L123.3 1482.19 L125.3 1481.67 L127.3 1481.14 L129.3 1480.61 L131.3 1480.06 L133.3 1479.5 L135.3 1478.94 L137.3 1478.36 L139.3 1477.77 L141.3 1477.17 L143.3 1476.56 L145.3 1475.94 L147.3 1475.31 L149.3 1474.67 L151.3 1474.02 L153.3 1473.35 L155.3 1472.68 L157.3 1472 L159.3 1471.3 L161.3 1470.6 L163.3 1469.88 L165.3 1469.16 L167.3 1468.42 L169.3 1467.68 L171.3 1466.92 L173.3 1466.15 L175.3 1465.38 L177.3 1464.59 L179.3 1463.79 L181.3 1462.98 L183.3 1462.16 L185.3 1461.33 L187.3 1460.49 L189.3 1459.64 L191.3 1458.78 L193.3 1457.9 L195.3 1457.02 L197.3 1456.13 L199.3 1455.23 L201.3 1454.31 L203.3 1453.39 L205.3 1452.45 L207.3 1451.51 L209.3 1450.55 L211.3 1449.58 L213.3 1448.61 L215.3 1447.62 L217.3 1446.62 L219.3 1445.62 L221.3 1444.6 L223.3 1443.57 L225.3 1442.53 L227.3 1441.48 L229.3 1440.42 L231.3 1439.35 L233.3 1438.27 L235.3 1437.18 L237.3 1436.08 L239.3 1434.96 L241.3 1433.84 L243.3 1432.71 L245.3 1431.57 L247.3 1430.41 L249.3 1429.25 L251.3 1428.07 L253.3 1426.89 L255.3 1425.7 L257.3 1424.49 L259.3 1423.28 L261.3 1422.05 L263.3 1420.82 L265.3 1419.57 L267.3 1418.31 L269.3 1417.05 L271.3 1415.77 L273.3 1414.49 L275.3 1413.19 L277.3 1411.88 L279.3 1410.57 L281.3 1409.24 L283.3 1407.9 L285.3 1406.56 L287.3 1405.2 L289.3 1403.83 L291.3 1402.46 L293.3 1401.07 L295.3 1399.67 L297.3 1398.27 L299.3 1396.85 L301.3 1395.42 L303.3 1393.99 L305.3 1392.54 L307.3 1391.08 L309.3 1389.62 L311.3 1388.14 L313.3 1386.66 L315.3 1385.16 L317.3 1383.66 L319.3 1382.14 L321.3 1380.62 L323.3 1379.08 L325.3 1377.54 L327.3 1375.99 L329.3 1374.42 L331.3 1372.85 L333.3 1371.25 L335.3 1369.63 L337.3 1367.97 L339.3 1366.25 L341.3 1364.48 L343.3 1362.64 L345.3 1360.7 L347.3 1358.65 L349.3 1356.46 L351.3 1354.09 L353.3 1351.48 L354.8 1349.33 L356.3 1346.98 L357.8 1344.4 L359.3 1341.56 L360.3 1339.52 L361.3 1337.34 L362.3 1335.01 L363.3 1332.54 L364.3 1329.92 L365.3 1327.15 L366.3 1324.24 L367.3 1321.21 L368.3 1318.09 L369.3 1314.9 L370.3 1311.68 L371.3 1308.46 L372.3 1305.23 L373.3 1302 L374.3 1298.76 L375.3 1295.52 L376.3 1292.28 L377.3 1289.04 L378.3 1285.81 L379.3 1282.57 L380.3 1279.33 L381.3 1276.1 L382.3 1272.88 L383.3 1269.66 L384.3 1266.44 L385.3 1263.24 L386.3 1260.04 L387.3 1256.85 L388.3 1253.68 L389.3 1250.51 L390.3 1247.36 L391.3 1244.22 L392.3 1241.09 L393.3 1237.98 L394.3 1234.89 L395.3 1231.81 L396.3 1228.75 L397.3 1225.7 L398.3 1222.68 L399.3 1219.67 L400.3 1216.68 L401.3 1213.71 L402.3 1210.76 L403.3 1207.83 L404.3 1204.93 L405.3 1202.04 L406.3 1199.18 L407.3 1196.33 L408.3 1193.51 L409.3 1190.71 L410.3 1187.94 L411.3 1185.18 L412.3 1182.45 L413.3 1179.75 L414.3 1177.06 L415.3 1174.4 L416.3 1171.76 L417.3 1169.15 L418.3 1166.55 L419.3 1163.98 L420.3 1161.44 L421.3 1158.92 L422.3 1156.42 L423.3 1153.95 L424.3 1151.51 L425.3 1149.1 L426.3 1146.71 L427.3 1144.36 L428.3 1142.03 L429.3 1139.74 L430.3 1137.48 L431.3 1135.24 L432.3 1133.04 L433.3 1130.86 L434.3 1128.72 L435.3 1126.6 L436.3 1124.51 L437.3 1122.45 L438.3 1120.41 L439.3 1118.4 L440.8 1115.43 L442.3 1112.53 L443.8 1109.71 L445.3 1106.99 L446.8 1104.37 L448.3 1101.87 L449.8 1099.49 L451.3 1097.23 L452.8 1095.1 L454.3 1093.09 L456.3 1090.63 L458.3 1088.4 L460.3 1086.39 L462.3 1084.62 L464.3 1083.07 L466.3 1081.73 L468.3 1080.61 L470.3 1079.69 L472.3 1078.97 L474.3 1078.44 L476.3 1078.07 L478.3 1077.86 L480.3 1077.79 L482.3 1077.86 L484.3 1078.05 L486.3 1078.37 L488.3 1078.82 L490.3 1079.38 L492.3 1080.07 L494.3 1080.89 L496.3 1081.83 L498.3 1082.92 L500.3 1084.16 L502.3 1085.55 L504.3 1087.12 L506.3 1088.87 L508.3 1090.81 L510.3 1092.92 L512.3 1095.23 L514.3 1097.71 L516.3 1100.37 L517.8 1102.47 L519.3 1104.65 L520.8 1106.91 L522.3 1109.23 L523.8 1111.6 L525.3 1114 L526.8 1116.43 L528.3 1118.86 L529.8 1121.31 L531.3 1123.78 L532.8 1126.26 L534.3 1128.75 L535.8 1131.25 L537.3 1133.77 L538.8 1136.3 L540.3 1138.84 L541.8 1141.39 L543.3 1143.95 L544.8 1146.52 L546.3 1149.11 L547.8 1151.7 L549.3 1154.3 L550.8 1156.9 L552.3 1159.52 L553.8 1162.14 L555.3 1164.77 L556.8 1167.4 L558.3 1170.04 L559.8 1172.68 L561.3 1175.33 L562.8 1177.97 L564.3 1180.63 L565.8 1183.28 L567.3 1185.93 L568.8 1188.58 L570.3 1191.24 L571.8 1193.89 L573.3 1196.54 L574.8 1199.19 L576.3 1201.83 L577.8 1204.47 L579.3 1207.1 L580.8 1209.73 L582.3 1212.36 L583.8 1214.97 L585.3 1217.58 L586.8 1220.18 L588.3 1222.77 L589.8 1225.35 L591.3 1227.93 L592.8 1230.49 L594.3 1233.04 L595.8 1235.58 L597.3 1238.1 L598.8 1240.62 L600.3 1243.12 L601.8 1245.6 L603.3 1248.08 L604.8 1250.53 L606.3 1252.98 L607.8 1255.4 L609.3 1257.81 L610.8 1260.21 L612.3 1262.59 L613.8 1264.95 L615.3 1267.29 L616.8 1269.62 L618.3 1271.93 L619.8 1274.22 L621.3 1276.49 L622.8 1278.75 L624.3 1280.99 L625.8 1283.2 L627.3 1285.4 L628.8 1287.58 L630.3 1289.74 L631.8 1291.89 L633.3 1294.01 L634.8 1296.11 L636.3 1298.2 L637.8 1300.27 L639.3 1302.31 L640.8 1304.34 L642.3 1306.35 L644.3 1309 L646.3 1311.61 L648.3 1314.19 L650.3 1316.74 L652.3 1319.25 L654.3 1321.73 L656.3 1324.17 L658.3 1326.59 L660.3 1328.97 L662.3 1331.31 L664.3 1333.63 L666.3 1335.91 L668.3 1338.17 L670.3 1340.39 L672.3 1342.58 L674.3 1344.74 L676.3 1346.87 L678.3 1348.96 L680.3 1351.04 L682.3 1353.08 L684.3 1355.09 L686.3 1357.08 L688.3 1359.04 L690.3 1360.98 L692.3 1362.89 L694.3 1364.77 L696.3 1366.63 L698.3 1368.47 L700.3 1370.28 L702.3 1372.08 L704.3 1373.84 L706.3 1375.59 L708.3 1377.32 L710.3 1379.02 L712.3 1380.7 L714.3 1382.36 L716.3 1384 L718.3 1385.63 L720.3 1387.23 L722.3 1388.81 L724.3 1390.37 L726.3 1391.91 L728.3 1393.43 L730.3 1394.94 L732.3 1396.42 L734.3 1397.89 L736.3 1399.34 L738.3 1400.77 L740.3 1402.18 L742.3 1403.58 L744.3 1404.95 L746.3 1406.31 L748.3 1407.65 L750.3 1408.98 L752.3 1410.28 L754.3 1411.57 L756.3 1412.84 L758.3 1414.1 L760.3 1415.33 L762.3 1416.55 L764.3 1417.76 L766.3 1418.95 L768.3 1420.11 L770.3 1421.27 L772.3 1422.4 L774.3 1423.52 L776.3 1424.63 L778.3 1425.71 L780.3 1426.78 L782.3 1427.84 L784.3 1428.87 L786.3 1429.89 L788.3 1430.9 L788.6 1431.07" stroke="#000000"/>
<path d="M93.3 1488.81 L95.3 1488.43 L97.3 1488.05 L99.3 1487.65 L101.3 1487.24 L103.3 1486.83 L105.3 1486.4 L107.3 1485.97 L109.3 1485.52 L111.3 1485.07 L113.3 1484.61 L115.3 1484.13 L117.3 1483.65 L119.3 1483.15 L121.3 1482.65 L123.3 1482.14 L125.3 1481.61 L127.3 1481.08 L129.3 1480.54 L131.3 1479.99 L133.3 1479.42 L135.3 1478.85 L137.3 1478.27 L139.3 1477.67 L141.3 1477.07 L143.3 1476.46 L145.3 1475.84 L147.3 1475.21 L149.3 1474.56 L151.3 1473.91 L153.3 1473.25 L155.3 1472.58 L157.3 1471.89 L159.3 1471.2 L161.3 1470.5 L163.3 1469.79 L165.3 1469.07 L167.3 1468.33 L169.3 1467.59 L171.3 1466.84 L173.3 1466.07 L175.3 1465.3 L177.3 1464.52 L179.3 1463.73 L181.3 1462.92 L183.3 1462.11 L185.3 1461.28 L187.3 1460.45 L189.3 1459.61 L191.3 1458.75 L193.3 1457.89 L195.3 1457.01 L197.3 1456.13 L199.3 1455.23 L201.3 1454.33 L203.3 1453.41 L205.3 1452.48 L207.3 1451.55 L209.3 1450.6 L211.3 1449.64 L213.3 1448.67 L215.3 1447.69 L217.3 1446.7 L219.3 1445.7 L221.3 1444.69 L223.3 1443.67 L225.3 1442.64 L227.3 1441.6 L229.3 1440.55 L231.3 1439.48 L233.3 1438.41 L235.3 1437.33 L237.3 1436.23 L239.3 1435.12 L241.3 1434.01 L243.3 1432.88 L245.3 1431.74 L247.3 1430.59 L249.3 1429.43 L251.3 1428.26 L253.3 1427.08 L255.3 1425.89 L257.3 1424.68 L259.3 1423.47 L261.3 1422.24 L263.3 1421.01 L265.3 1419.76 L267.3 1418.5 L269.3 1417.23 L271.3 1415.95 L273.3 1414.65 L275.3 1413.35 L277.3 1412.03 L279.3 1410.71 L281.3 1409.37 L283.3 1408.02 L285.3 1406.66 L287.3 1405.29 L289.3 1403.9 L291.3 1402.51 L293.3 1401.1 L295.3 1399.68 L297.3 1398.25 L299.3 1396.81 L301.3 1395.35 L303.3 1393.89 L305.3 1392.41 L307.3 1390.92 L309.3 1389.42 L311.3 1387.9 L313.3 1386.38 L315.3 1384.84 L317.3 1383.29 L319.3 1381.73 L321.3 1380.15 L323.3 1378.56 L325.3 1376.96 L327.3 1375.35 L329.3 1373.73 L331.3 1372.09 L333.3 1370.42 L335.3 1368.72 L337.3 1366.99 L339.3 1365.2 L341.3 1363.35 L343.3 1361.43 L345.3 1359.41 L347.3 1357.29 L349.3 1355.03 L351.3 1352.6 L353.3 1349.94 L354.8 1347.78 L356.3 1345.43 L357.8 1342.9 L359.3 1340.14 L360.8 1337.14 L361.8 1334.98 L362.8 1332.7 L363.8 1330.27 L364.8 1327.7 L365.8 1324.96 L366.8 1322.06 L367.8 1319 L368.8 1315.76 L369.8 1312.37 L370.8 1308.83 L371.8 1305.13 L372.8 1301.28 L373.8 1297.29 L374.3 1295.24 L374.8 1293.17 L375.3 1291.06 L375.8 1288.93 L376.3 1286.77 L376.8 1284.6 L377.3 1282.41 L377.8 1280.2 L378.3 1277.99 L378.8 1275.78 L379.3 1273.57 L379.8 1271.37 L380.3 1269.17 L380.8 1266.99 L381.3 1264.83 L381.8 1262.7 L382.3 1260.58 L382.8 1258.5 L383.3 1256.44 L383.8 1254.42 L384.8 1250.48 L385.8 1246.69 L386.8 1243.06 L387.8 1239.58 L388.8 1236.25 L389.8 1233.07 L390.8 1230.03 L391.8 1227.11 L392.8 1224.29 L393.8 1221.57 L394.8 1218.93 L395.8 1216.36 L396.8 1213.85 L397.8 1211.39 L398.8 1208.99 L399.8 1206.62 L400.8 1204.3 L401.8 1202.01 L402.8 1199.76 L403.8 1197.53 L404.8 1195.32 L405.8 1193.14 L406.8 1190.98 L407.8 1188.83 L408.8 1186.69 L409.8 1184.57 L410.8 1182.46 L411.8 1180.35 L412.8 1178.25 L413.8 1176.15 L414.8 1174.06 L415.8 1171.96 L416.8 1169.86 L417.8 1167.75 L418.8 1165.64 L419.8 1163.52 L420.8 1161.39 L421.8 1159.25 L422.8 1157.1 L423.8 1154.94 L424.8 1152.78 L425.8 1150.63 L426.8 1148.48 L427.8 1146.34 L428.8 1144.22 L429.8 1142.12 L430.8 1140.03 L431.8 1137.97 L432.8 1135.94 L433.8 1133.93 L435.3 1130.97 L436.8 1128.08 L438.3 1125.26 L439.8 1122.51 L441.3 1119.84 L442.8 1117.24 L444.3 1114.73 L445.8 1112.3 L447.3 1109.96 L448.8 1107.71 L450.3 1105.56 L451.8 1103.5 L453.8 1100.91 L455.8 1098.49 L457.8 1096.26 L459.8 1094.2 L461.8 1092.33 L463.8 1090.65 L465.8 1089.15 L467.8 1087.84 L469.8 1086.72 L471.8 1085.79 L473.8 1085.06 L475.8 1084.52 L477.8 1084.17 L479.8 1084.02 L481.8 1084.03 L483.8 1084.22 L485.8 1084.56 L487.8 1085.05 L489.8 1085.69 L491.8 1086.46 L493.8 1087.38 L495.8 1088.44 L497.8 1089.63 L499.8 1090.97 L501.8 1092.45 L503.8 1094.08 L505.8 1095.87 L507.8 1097.84 L509.8 1099.98 L511.8 1102.31 L513.8 1104.81 L515.8 1107.45 L517.3 1109.52 L518.8 1111.64 L520.3 1113.8 L521.8 1115.99 L523.3 1118.19 L524.8 1120.41 L526.3 1122.65 L527.8 1124.91 L529.3 1127.19 L530.8 1129.49 L532.3 1131.8 L533.8 1134.13 L535.3 1136.48 L536.8 1138.85 L538.3 1141.23 L539.8 1143.63 L541.3 1146.04 L542.8 1148.47 L544.3 1150.92 L545.8 1153.38 L547.3 1155.85 L548.8 1158.34 L550.3 1160.84 L551.8 1163.36 L553.3 1165.88 L554.8 1168.42 L556.3 1170.97 L557.8 1173.53 L559.3 1176.1 L560.8 1178.67 L562.3 1181.26 L563.8 1183.85 L565.3 1186.45 L566.8 1189.05 L568.3 1191.66 L569.8 1194.27 L571.3 1196.89 L572.8 1199.5 L574.3 1202.12 L575.8 1204.74 L577.3 1207.36 L578.8 1209.98 L580.3 1212.6 L581.8 1215.21 L583.3 1217.82 L584.8 1220.42 L586.3 1223.02 L587.8 1225.61 L589.3 1228.2 L590.8 1230.77 L592.3 1233.34 L593.8 1235.9 L595.3 1238.45 L596.8 1240.99 L598.3 1243.51 L599.8 1246.03 L601.3 1248.53 L602.8 1251.01 L604.3 1253.48 L605.8 1255.94 L607.3 1258.38 L608.8 1260.81 L610.3 1263.22 L611.8 1265.61 L613.3 1267.99 L614.8 1270.34 L616.3 1272.68 L617.8 1275 L619.3 1277.3 L620.8 1279.59 L622.3 1281.85 L623.8 1284.09 L625.3 1286.32 L626.8 1288.52 L628.3 1290.7 L629.8 1292.87 L631.3 1295.01 L632.8 1297.13 L634.3 1299.23 L635.8 1301.31 L637.3 1303.37 L638.8 1305.41 L640.3 1307.43 L642.3 1310.09 L644.3 1312.71 L646.3 1315.29 L648.3 1317.84 L650.3 1320.35 L652.3 1322.82 L654.3 1325.26 L656.3 1327.67 L658.3 1330.03 L660.3 1332.36 L662.3 1334.66 L664.3 1336.92 L666.3 1339.16 L668.3 1341.35 L670.3 1343.52 L672.3 1345.66 L674.3 1347.77 L676.3 1349.85 L678.3 1351.9 L680.3 1353.93 L682.3 1355.93 L684.3 1357.9 L686.3 1359.85 L688.3 1361.77 L690.3 1363.67 L692.3 1365.54 L694.3 1367.39 L696.3 1369.22 L698.3 1371.02 L700.3 1372.8 L702.3 1374.56 L704.3 1376.3 L706.3 1378.02 L708.3 1379.71 L710.3 1381.39 L712.3 1383.04 L714.3 1384.68 L716.3 1386.29 L718.3 1387.89 L720.3 1389.46 L722.3 1391.02 L724.3 1392.56 L726.3 1394.08 L728.3 1395.58 L730.3 1397.06 L732.3 1398.52 L734.3 1399.97 L736.3 1401.4 L738.3 1402.81 L740.3 1404.2 L742.3 1405.58 L744.3 1406.94 L746.3 1408.28 L748.3 1409.6 L750.3 1410.91 L752.3 1412.2 L754.3 1413.48 L756.3 1414.74 L758.3 1415.98 L760.3 1417.21 L762.3 1418.42 L764.3 1419.61 L766.3 1420.79 L768.3 1421.95 L770.3 1423.09 L772.3 1424.23 L774.3 1425.34 L776.3 1426.44 L778.3 1427.52 L780.3 1428.59 L782.3 1429.64 L784.3 1430.68 L786.3 1431.7 L788.3 1432.66 L788.6 1432.64" stroke="#ff0000"/>
<path d="M93.3 1488.87 L95.3 1488.49 L97.3 1488.09 L99.3 1487.69 L101.3 1487.28 L103.3 1486.86 L105.3 1486.42 L107.3 1485.98 L109.3 1485.53 L111.3 1485.07 L113.3 1484.6 L115.3 1484.12 L117.3 1483.63 L119.3 1483.14 L121.3 1482.63 L123.3 1482.11 L125.3 1481.58 L127.3 1481.05 L129.3 1480.5 L131.3 1479.95 L133.3 1479.38 L135.3 1478.81 L137.3 1478.22 L139.3 1477.63 L141.3 1477.03 L143.3 1476.41 L145.3 1475.79 L147.3 1475.16 L149.3 1474.52 L151.3 1473.86 L153.3 1473.2 L155.3 1472.53 L157.3 1471.85 L159.3 1471.16 L161.3 1470.46 L163.3 1469.75 L165.3 1469.03 L167.3 1468.3 L169.3 1467.56 L171.3 1466.8 L173.3 1466.04 L175.3 1465.27 L177.3 1464.49 L179.3 1463.7 L181.3 1462.9 L183.3 1462.09 L185.3 1461.27 L187.3 1460.44 L189.3 1459.6 L191.3 1458.75 L193.3 1457.89 L195.3 1457.02 L197.3 1456.14 L199.3 1455.25 L201.3 1454.34 L203.3 1453.43 L205.3 1452.51 L207.3 1451.58 L209.3 1450.63 L211.3 1449.68 L213.3 1448.71 L215.3 1447.74 L217.3 1446.75 L219.3 1445.76 L221.3 1444.75 L223.3 1443.73 L225.3 1442.7 L227.3 1441.67 L229.3 1440.62 L231.3 1439.56 L233.3 1438.48 L235.3 1437.4 L237.3 1436.31 L239.3 1435.2 L241.3 1434.09 L243.3 1432.96 L245.3 1431.82 L247.3 1430.67 L249.3 1429.51 L251.3 1428.34 L253.3 1427.16 L255.3 1425.97 L257.3 1424.76 L259.3 1423.54 L261.3 1422.31 L263.3 1421.07 L265.3 1419.82 L267.3 1418.56 L269.3 1417.28 L271.3 1415.99 L273.3 1414.69 L275.3 1413.38 L277.3 1412.06 L279.3 1410.72 L281.3 1409.37 L283.3 1408.01 L285.3 1406.64 L287.3 1405.25 L289.3 1403.86 L291.3 1402.45 L293.3 1401.02 L295.3 1399.59 L297.3 1398.14 L299.3 1396.67 L301.3 1395.2 L303.3 1393.71 L305.3 1392.21 L307.3 1390.69 L309.3 1389.16 L311.3 1387.62 L313.3 1386.07 L315.3 1384.5 L317.3 1382.91 L319.3 1381.31 L321.3 1379.7 L323.3 1378.08 L325.3 1376.43 L327.3 1374.78 L329.3 1373.11 L331.3 1371.42 L333.3 1369.7 L335.3 1367.94 L337.3 1366.14 L339.3 1364.29 L341.3 1362.37 L343.3 1360.36 L345.3 1358.25 L347.3 1356.02 L349.3 1353.64 L351.3 1351.06 L352.8 1348.97 L354.3 1346.7 L355.8 1344.21 L357.3 1341.49 L358.8 1338.49 L359.8 1336.32 L360.8 1333.99 L361.8 1331.51 L362.8 1328.86 L363.8 1326.04 L364.8 1323.06 L365.8 1319.95 L366.8 1316.72 L367.8 1313.4 L368.8 1309.99 L369.8 1306.5 L370.8 1302.92 L371.8 1299.26 L372.8 1295.5 L373.8 1291.67 L374.8 1287.75 L375.8 1283.77 L376.3 1281.76 L376.8 1279.74 L377.3 1277.71 L377.8 1275.68 L378.3 1273.65 L378.8 1271.62 L379.3 1269.59 L379.8 1267.57 L380.3 1265.56 L381.3 1261.6 L382.3 1257.71 L383.3 1253.92 L384.3 1250.24 L385.3 1246.67 L386.3 1243.23 L387.3 1239.92 L388.3 1236.73 L389.3 1233.67 L390.3 1230.72 L391.3 1227.87 L392.3 1225.12 L393.3 1222.46 L394.3 1219.86 L395.3 1217.32 L396.3 1214.84 L397.3 1212.41 L398.3 1210.03 L399.3 1207.69 L400.3 1205.38 L401.3 1203.1 L402.3 1200.86 L403.3 1198.64 L404.3 1196.45 L405.3 1194.28 L406.3 1192.12 L407.3 1189.99 L408.3 1187.87 L409.3 1185.76 L410.3 1183.67 L411.3 1181.58 L412.3 1179.5 L413.3 1177.43 L414.3 1175.36 L415.3 1173.3 L416.3 1171.24 L417.3 1169.18 L418.3 1167.11 L419.3 1165.05 L420.3 1162.98 L421.3 1160.9 L422.3 1158.82 L423.3 1156.73 L424.3 1154.65 L425.3 1152.56 L426.3 1150.49 L427.3 1148.42 L428.3 1146.36 L429.3 1144.32 L430.3 1142.3 L431.3 1140.3 L432.8 1137.33 L434.3 1134.43 L435.8 1131.58 L437.3 1128.79 L438.8 1126.06 L440.3 1123.4 L441.8 1120.81 L443.3 1118.29 L444.8 1115.84 L446.3 1113.47 L447.8 1111.17 L449.3 1108.96 L450.8 1106.83 L452.3 1104.78 L454.3 1102.18 L456.3 1099.76 L458.3 1097.51 L460.3 1095.46 L462.3 1093.61 L464.3 1091.96 L466.3 1090.52 L468.3 1089.29 L470.3 1088.28 L472.3 1087.49 L474.3 1086.92 L476.3 1086.56 L478.3 1086.42 L480.3 1086.46 L482.3 1086.68 L484.3 1087.04 L486.3 1087.55 L488.3 1088.18 L490.3 1088.94 L492.3 1089.83 L494.3 1090.84 L496.3 1091.97 L498.3 1093.24 L500.3 1094.63 L502.3 1096.15 L504.3 1097.81 L506.3 1099.62 L508.3 1101.58 L510.3 1103.71 L512.3 1106 L514.3 1108.43 L516.3 1111.01 L517.8 1113.01 L519.3 1115.07 L520.8 1117.17 L522.3 1119.3 L523.8 1121.45 L525.3 1123.64 L526.8 1125.86 L528.3 1128.11 L529.8 1130.38 L531.3 1132.68 L532.8 1135.02 L534.3 1137.37 L535.8 1139.75 L537.3 1142.16 L538.8 1144.59 L540.3 1147.04 L541.8 1149.52 L543.3 1152.01 L544.8 1154.52 L546.3 1157.05 L547.8 1159.59 L549.3 1162.14 L550.8 1164.71 L552.3 1167.28 L553.8 1169.86 L555.3 1172.45 L556.8 1175.04 L558.3 1177.64 L559.8 1180.24 L561.3 1182.85 L562.8 1185.46 L564.3 1188.07 L565.8 1190.68 L567.3 1193.3 L568.8 1195.91 L570.3 1198.53 L571.8 1201.15 L573.3 1203.76 L574.8 1206.37 L576.3 1208.98 L577.8 1211.58 L579.3 1214.18 L580.8 1216.78 L582.3 1219.36 L583.8 1221.95 L585.3 1224.52 L586.8 1227.09 L588.3 1229.64 L589.8 1232.19 L591.3 1234.73 L592.8 1237.26 L594.3 1239.78 L595.8 1242.28 L597.3 1244.77 L598.8 1247.25 L600.3 1249.72 L601.8 1252.17 L603.3 1254.61 L604.8 1257.03 L606.3 1259.44 L607.8 1261.83 L609.3 1264.2 L610.8 1266.56 L612.3 1268.9 L613.8 1271.23 L615.3 1273.53 L616.8 1275.82 L618.3 1278.09 L619.8 1280.35 L621.3 1282.58 L622.8 1284.79 L624.3 1286.99 L625.8 1289.17 L627.3 1291.32 L628.8 1293.46 L630.3 1295.58 L631.8 1297.68 L633.3 1299.76 L634.8 1301.82 L636.3 1303.86 L637.8 1305.88 L639.3 1307.88 L641.3 1310.52 L643.3 1313.13 L645.3 1315.69 L647.3 1318.23 L649.3 1320.73 L651.3 1323.19 L653.3 1325.62 L655.3 1328.02 L657.3 1330.38 L659.3 1332.72 L661.3 1335.01 L663.3 1337.28 L665.3 1339.51 L667.3 1341.72 L669.3 1343.89 L671.3 1346.04 L673.3 1348.16 L675.3 1350.24 L677.3 1352.31 L679.3 1354.34 L681.3 1356.35 L683.3 1358.33 L685.3 1360.29 L687.3 1362.23 L689.3 1364.14 L691.3 1366.02 L693.3 1367.88 L695.3 1369.72 L697.3 1371.54 L699.3 1373.33 L701.3 1375.1 L703.3 1376.85 L705.3 1378.58 L707.3 1380.29 L709.3 1381.97 L711.3 1383.64 L713.3 1385.28 L715.3 1386.91 L717.3 1388.51 L719.3 1390.09 L721.3 1391.66 L723.3 1393.2 L725.3 1394.73 L727.3 1396.23 L729.3 1397.72 L731.3 1399.19 L733.3 1400.64 L735.3 1402.07 L737.3 1403.48 L739.3 1404.87 L741.3 1406.25 L743.3 1407.61 L745.3 1408.95 L747.3 1410.27 L749.3 1411.57 L751.3 1412.86 L753.3 1414.13 L755.3 1415.38 L757.3 1416.62 L759.3 1417.83 L761.3 1419.03 L763.3 1420.22 L765.3 1421.38 L767.3 1422.53 L769.3 1423.66 L771.3 1424.78 L773.3 1425.87 L775.3 1426.96 L777.3 1428.02 L779.3 1429.07 L781.3 1430.1 L783.3 1431.11 L785.3 1432.11 L787.3 1433.09 L788.6 1433.56" stroke="#00ff00"/>
<path d="M93.3 1488.95 L95.3 1488.56 L97.3 1488.15 L99.3 1487.74 L101.3 1487.32 L103.3 1486.89 L105.3 1486.45 L107.3 1486 L109.3 1485.54 L111.3 1485.07 L113.3 1484.6 L115.3 1484.11 L117.3 1483.62 L119.3 1483.11 L121.3 1482.6 L123.3 1482.08 L125.3 1481.55 L127.3 1481.01 L129.3 1480.46 L131.3 1479.9 L133.3 1479.33 L135.3 1478.76 L137.3 1478.17 L139.3 1477.58 L141.3 1476.97 L143.3 1476.36 L145.3 1475.73 L147.3 1475.1 L149.3 1474.46 L151.3 1473.81 L153.3 1473.15 L155.3 1472.47 L157.3 1471.79 L159.3 1471.11 L161.3 1470.41 L163.3 1469.7 L165.3 1468.98 L167.3 1468.25 L169.3 1467.51 L171.3 1466.77 L173.3 1466.01 L175.3 1465.24 L177.3 1464.46 L179.3 1463.68 L181.3 1462.88 L183.3 1462.08 L185.3 1461.26 L187.3 1460.43 L189.3 1459.6 L191.3 1458.75 L193.3 1457.89 L195.3 1457.03 L197.3 1456.15 L199.3 1455.26 L201.3 1454.37 L203.3 1453.46 L205.3 1452.54 L207.3 1451.61 L209.3 1450.67 L211.3 1449.72 L213.3 1448.76 L215.3 1447.79 L217.3 1446.81 L219.3 1445.82 L221.3 1444.82 L223.3 1443.8 L225.3 1442.78 L227.3 1441.74 L229.3 1440.7 L231.3 1439.64 L233.3 1438.57 L235.3 1437.49 L237.3 1436.4 L239.3 1435.3 L241.3 1434.18 L243.3 1433.06 L245.3 1431.92 L247.3 1430.77 L249.3 1429.61 L251.3 1428.44 L253.3 1427.26 L255.3 1426.06 L257.3 1424.85 L259.3 1423.63 L261.3 1422.4 L263.3 1421.15 L265.3 1419.9 L267.3 1418.63 L269.3 1417.34 L271.3 1416.05 L273.3 1414.74 L275.3 1413.42 L277.3 1412.09 L279.3 1410.74 L281.3 1409.38 L283.3 1408 L285.3 1406.62 L287.3 1405.22 L289.3 1403.8 L291.3 1402.37 L293.3 1400.93 L295.3 1399.47 L297.3 1398 L299.3 1396.51 L301.3 1395.01 L303.3 1393.5 L305.3 1391.97 L307.3 1390.42 L309.3 1388.86 L311.3 1387.29 L313.3 1385.69 L315.3 1384.08 L317.3 1382.46 L319.3 1380.82 L321.3 1379.16 L323.3 1377.49 L325.3 1375.8 L327.3 1374.09 L329.3 1372.36 L331.3 1370.61 L333.3 1368.83 L335.3 1367.01 L337.3 1365.13 L339.3 1363.2 L341.3 1361.18 L343.3 1359.08 L345.3 1356.86 L347.3 1354.51 L349.3 1351.98 L350.8 1349.94 L352.3 1347.74 L353.8 1345.36 L355.3 1342.72 L356.8 1339.8 L357.8 1337.67 L358.8 1335.37 L359.8 1332.9 L360.8 1330.22 L361.8 1327.34 L362.8 1324.25 L363.8 1320.96 L364.8 1317.51 L365.8 1313.94 L366.8 1310.31 L367.8 1306.68 L368.8 1303.06 L369.8 1299.45 L370.8 1295.83 L371.8 1292.2 L372.8 1288.57 L373.8 1284.92 L374.8 1281.25 L375.8 1277.58 L376.8 1273.91 L377.8 1270.25 L378.8 1266.62 L379.8 1263.02 L380.8 1259.47 L381.8 1255.98 L382.8 1252.56 L383.8 1249.23 L384.8 1245.99 L385.8 1242.83 L386.8 1239.77 L387.8 1236.79 L388.8 1233.91 L389.8 1231.11 L390.8 1228.39 L391.8 1225.74 L392.8 1223.16 L393.8 1220.64 L394.8 1218.16 L395.8 1215.74 L396.8 1213.35 L397.8 1211 L398.8 1208.69 L399.8 1206.41 L400.8 1204.16 L401.8 1201.93 L402.8 1199.73 L403.8 1197.56 L404.8 1195.4 L405.8 1193.27 L406.8 1191.15 L407.8 1189.04 L408.8 1186.96 L409.8 1184.88 L410.8 1182.82 L411.8 1180.77 L412.8 1178.72 L413.8 1176.69 L414.8 1174.66 L415.8 1172.64 L416.8 1170.63 L417.8 1168.62 L418.8 1166.61 L419.8 1164.6 L420.8 1162.6 L421.8 1160.59 L422.8 1158.59 L423.8 1156.59 L425.3 1153.59 L426.8 1150.61 L428.3 1147.66 L429.8 1144.74 L431.3 1141.85 L432.8 1139.01 L434.3 1136.21 L435.8 1133.46 L437.3 1130.77 L438.8 1128.13 L440.3 1125.55 L441.8 1123.02 L443.3 1120.56 L444.8 1118.15 L446.3 1115.81 L447.8 1113.53 L449.3 1111.32 L450.8 1109.18 L452.3 1107.1 L453.8 1105.1 L455.8 1102.57 L457.8 1100.21 L459.8 1098.06 L461.8 1096.11 L463.8 1094.39 L465.8 1092.91 L467.8 1091.67 L469.8 1090.67 L471.8 1089.92 L473.8 1089.41 L475.8 1089.16 L477.8 1089.14 L479.8 1089.33 L481.8 1089.69 L483.8 1090.2 L485.8 1090.83 L487.8 1091.56 L489.8 1092.4 L491.8 1093.35 L493.8 1094.4 L495.8 1095.57 L497.8 1096.84 L499.8 1098.22 L501.8 1099.72 L503.8 1101.34 L505.8 1103.09 L507.8 1104.96 L509.8 1106.98 L511.8 1109.13 L513.8 1111.41 L515.8 1113.83 L517.8 1116.36 L519.8 1118.98 L521.3 1121.01 L522.8 1123.08 L524.3 1125.19 L525.8 1127.35 L527.3 1129.54 L528.8 1131.78 L530.3 1134.06 L531.8 1136.38 L533.3 1138.73 L534.8 1141.13 L536.3 1143.55 L537.8 1146.01 L539.3 1148.51 L540.8 1151.03 L542.3 1153.57 L543.8 1156.14 L545.3 1158.73 L546.8 1161.34 L548.3 1163.96 L549.8 1166.59 L551.3 1169.22 L552.8 1171.86 L554.3 1174.5 L555.8 1177.14 L557.3 1179.79 L558.8 1182.43 L560.3 1185.07 L561.8 1187.7 L563.3 1190.34 L564.8 1192.97 L566.3 1195.6 L567.8 1198.23 L569.3 1200.85 L570.8 1203.47 L572.3 1206.08 L573.8 1208.68 L575.3 1211.28 L576.8 1213.87 L578.3 1216.46 L579.8 1219.03 L581.3 1221.6 L582.8 1224.16 L584.3 1226.71 L585.8 1229.24 L587.3 1231.77 L588.8 1234.28 L590.3 1236.79 L591.8 1239.28 L593.3 1241.76 L594.8 1244.22 L596.3 1246.68 L597.8 1249.11 L599.3 1251.54 L600.8 1253.95 L602.3 1256.34 L603.8 1258.72 L605.3 1261.09 L606.8 1263.43 L608.3 1265.76 L609.8 1268.08 L611.3 1270.38 L612.8 1272.66 L614.3 1274.93 L615.8 1277.17 L617.3 1279.4 L618.8 1281.61 L620.3 1283.81 L621.8 1285.99 L623.3 1288.15 L624.8 1290.29 L626.3 1292.41 L627.8 1294.51 L629.3 1296.6 L630.8 1298.67 L632.3 1300.72 L633.8 1302.75 L635.3 1304.76 L637.3 1307.42 L639.3 1310.04 L641.3 1312.64 L643.3 1315.19 L645.3 1317.72 L647.3 1320.22 L649.3 1322.68 L651.3 1325.11 L653.3 1327.51 L655.3 1329.88 L657.3 1332.22 L659.3 1334.53 L661.3 1336.81 L663.3 1339.06 L665.3 1341.28 L667.3 1343.47 L669.3 1345.63 L671.3 1347.77 L673.3 1349.88 L675.3 1351.96 L677.3 1354.02 L679.3 1356.05 L681.3 1358.05 L683.3 1360.04 L685.3 1361.99 L687.3 1363.93 L689.3 1365.83 L691.3 1367.72 L693.3 1369.58 L695.3 1371.42 L697.3 1373.24 L699.3 1375.03 L701.3 1376.81 L703.3 1378.56 L705.3 1380.28 L707.3 1381.99 L709.3 1383.68 L711.3 1385.34 L713.3 1386.99 L715.3 1388.61 L717.3 1390.21 L719.3 1391.79 L721.3 1393.35 L723.3 1394.89 L725.3 1396.42 L727.3 1397.92 L729.3 1399.4 L731.3 1400.86 L733.3 1402.3 L735.3 1403.73 L737.3 1405.13 L739.3 1406.51 L741.3 1407.88 L743.3 1409.23 L745.3 1410.55 L747.3 1411.86 L749.3 1413.15 L751.3 1414.42 L753.3 1415.67 L755.3 1416.91 L757.3 1418.12 L759.3 1419.32 L761.3 1420.5 L763.3 1421.66 L765.3 1422.8 L767.3 1423.92 L769.3 1425.03 L771.3 1426.11 L773.3 1427.18 L775.3 1428.23 L777.3 1429.27 L779.3 1430.28 L781.3 1431.28 L783.3 1432.26 L785.3 1433.22 L787.3 1434.16 L788.6 1434.67" stroke="#0000ff"/>
<path d="M93.3 1489.01 L95.3 1488.61 L97.3 1488.2 L99.3 1487.78 L101.3 1487.35 L103.3 1486.91 L105.3 1486.47 L107.3 1486.01 L109.3 1485.55 L111.3 1485.07 L113.3 1484.59 L115.3 1484.1 L117.3 1483.61 L119.3 1483.1 L121.3 1482.58 L123.3 1482.06 L125.3 1481.52 L127.3 1480.98 L129.3 1480.43 L131.3 1479.87 L133.3 1479.3 L135.3 1478.72 L137.3 1478.13 L139.3 1477.53 L141.3 1476.93 L143.3 1476.31 L145.3 1475.69 L147.3 1475.06 L149.3 1474.41 L151.3 1473.76 L153.3 1473.1 L155.3 1472.43 L157.3 1471.75 L159.3 1471.06 L161.3 1470.37 L163.3 1469.66 L165.3 1468.94 L167.3 1468.22 L169.3 1467.48 L171.3 1466.74 L173.3 1465.98 L175.3 1465.22 L177.3 1464.44 L179.3 1463.66 L181.3 1462.87 L183.3 1462.06 L185.3 1461.25 L187.3 1460.43 L189.3 1459.59 L191.3 1458.75 L193.3 1457.9 L195.3 1457.03 L197.3 1456.16 L199.3 1455.28 L201.3 1454.38 L203.3 1453.48 L205.3 1452.56 L207.3 1451.64 L209.3 1450.7 L211.3 1449.76 L213.3 1448.8 L215.3 1447.83 L217.3 1446.86 L219.3 1445.87 L221.3 1444.87 L223.3 1443.86 L225.3 1442.84 L227.3 1441.8 L229.3 1440.76 L231.3 1439.7 L233.3 1438.64 L235.3 1437.56 L237.3 1436.47 L239.3 1435.37 L241.3 1434.26 L243.3 1433.13 L245.3 1432 L247.3 1430.85 L249.3 1429.69 L251.3 1428.51 L253.3 1427.33 L255.3 1426.13 L257.3 1424.92 L259.3 1423.7 L261.3 1422.46 L263.3 1421.22 L265.3 1419.95 L267.3 1418.68 L269.3 1417.39 L271.3 1416.09 L273.3 1414.78 L275.3 1413.45 L277.3 1412.11 L279.3 1410.75 L281.3 1409.38 L283.3 1408 L285.3 1406.6 L287.3 1405.19 L289.3 1403.76 L291.3 1402.32 L293.3 1400.86 L295.3 1399.39 L297.3 1397.9 L299.3 1396.39 L301.3 1394.87 L303.3 1393.34 L305.3 1391.78 L307.3 1390.22 L309.3 1388.63 L311.3 1387.03 L313.3 1385.41 L315.3 1383.77 L317.3 1382.11 L319.3 1380.44 L321.3 1378.75 L323.3 1377.04 L325.3 1375.31 L327.3 1373.56 L329.3 1371.79 L331.3 1370 L333.3 1368.17 L335.3 1366.29 L337.3 1364.36 L339.3 1362.36 L341.3 1360.28 L343.3 1358.1 L345.3 1355.79 L347.3 1353.34 L349.3 1350.7 L350.8 1348.56 L352.3 1346.25 L353.8 1343.73 L355.3 1340.93 L356.3 1338.88 L357.3 1336.66 L358.3 1334.26 L359.3 1331.66 L360.3 1328.83 L361.3 1325.77 L362.3 1322.46 L363.3 1318.92 L364.3 1315.17 L365.3 1311.29 L366.3 1307.36 L367.3 1303.46 L368.3 1299.64 L369.3 1295.89 L370.3 1292.21 L371.3 1288.59 L372.3 1285.02 L373.3 1281.49 L374.3 1278 L375.3 1274.55 L376.3 1271.14 L377.3 1267.76 L378.3 1264.43 L379.3 1261.15 L380.3 1257.91 L381.3 1254.74 L382.3 1251.62 L383.3 1248.56 L384.3 1245.57 L385.3 1242.65 L386.3 1239.79 L387.3 1237 L388.3 1234.27 L389.3 1231.6 L390.3 1228.99 L391.3 1226.43 L392.3 1223.93 L393.3 1221.46 L394.3 1219.04 L395.3 1216.66 L396.3 1214.31 L397.3 1211.99 L398.3 1209.7 L399.3 1207.44 L400.3 1205.21 L401.3 1203 L402.3 1200.81 L403.3 1198.64 L404.3 1196.5 L405.3 1194.37 L406.3 1192.26 L407.3 1190.17 L408.3 1188.1 L409.3 1186.03 L410.3 1183.99 L411.3 1181.95 L412.3 1179.93 L413.3 1177.92 L414.3 1175.92 L415.8 1172.93 L417.3 1169.97 L418.8 1167.02 L420.3 1164.08 L421.8 1161.16 L423.3 1158.24 L424.8 1155.34 L426.3 1152.46 L427.8 1149.6 L429.3 1146.77 L430.8 1143.97 L432.3 1141.2 L433.8 1138.48 L435.3 1135.8 L436.8 1133.16 L438.3 1130.57 L439.8 1128.03 L441.3 1125.54 L442.8 1123.1 L444.3 1120.71 L445.8 1118.37 L447.3 1116.09 L448.8 1113.87 L450.3 1111.7 L451.8 1109.58 L453.3 1107.52 L455.3 1104.9 L457.3 1102.45 L459.3 1100.2 L461.3 1098.17 L463.3 1096.37 L465.3 1094.83 L467.3 1093.54 L469.3 1092.53 L471.3 1091.78 L473.3 1091.31 L475.3 1091.11 L477.3 1091.17 L479.3 1091.46 L481.3 1091.92 L483.3 1092.53 L485.3 1093.25 L487.3 1094.07 L489.3 1094.97 L491.3 1095.97 L493.3 1097.05 L495.3 1098.24 L497.3 1099.52 L499.3 1100.9 L501.3 1102.38 L503.3 1103.97 L505.3 1105.66 L507.3 1107.47 L509.3 1109.4 L511.3 1111.45 L513.3 1113.62 L515.3 1115.9 L517.3 1118.3 L519.3 1120.81 L521.3 1123.42 L522.8 1125.43 L524.3 1127.5 L525.8 1129.62 L527.3 1131.8 L528.8 1134.02 L530.3 1136.29 L531.8 1138.61 L533.3 1140.98 L534.8 1143.4 L536.3 1145.85 L537.8 1148.35 L539.3 1150.88 L540.8 1153.45 L542.3 1156.04 L543.8 1158.67 L545.3 1161.31 L546.8 1163.98 L548.3 1166.65 L549.8 1169.34 L551.3 1172.03 L552.8 1174.71 L554.3 1177.4 L555.8 1180.08 L557.3 1182.76 L558.8 1185.43 L560.3 1188.1 L561.8 1190.76 L563.3 1193.42 L564.8 1196.06 L566.3 1198.71 L567.8 1201.34 L569.3 1203.97 L570.8 1206.58 L572.3 1209.19 L573.8 1211.79 L575.3 1214.38 L576.8 1216.96 L578.3 1219.53 L579.8 1222.09 L581.3 1224.64 L582.8 1227.17 L584.3 1229.7 L585.8 1232.21 L587.3 1234.71 L588.8 1237.19 L590.3 1239.66 L591.8 1242.12 L593.3 1244.56 L594.8 1246.99 L596.3 1249.41 L597.8 1251.81 L599.3 1254.19 L600.8 1256.56 L602.3 1258.92 L603.8 1261.26 L605.3 1263.58 L606.8 1265.88 L608.3 1268.17 L609.8 1270.45 L611.3 1272.71 L612.8 1274.95 L614.3 1277.17 L615.8 1279.38 L617.3 1281.57 L618.8 1283.74 L620.3 1285.89 L621.8 1288.03 L623.3 1290.15 L624.8 1292.26 L626.3 1294.34 L627.8 1296.41 L629.3 1298.46 L630.8 1300.5 L632.3 1302.51 L634.3 1305.18 L636.3 1307.81 L638.3 1310.41 L640.3 1312.98 L642.3 1315.52 L644.3 1318.03 L646.3 1320.51 L648.3 1322.97 L650.3 1325.39 L652.3 1327.78 L654.3 1330.14 L656.3 1332.48 L658.3 1334.78 L660.3 1337.06 L662.3 1339.31 L664.3 1341.53 L666.3 1343.73 L668.3 1345.89 L670.3 1348.04 L672.3 1350.15 L674.3 1352.24 L676.3 1354.31 L678.3 1356.35 L680.3 1358.36 L682.3 1360.35 L684.3 1362.32 L686.3 1364.26 L688.3 1366.19 L690.3 1368.08 L692.3 1369.96 L694.3 1371.81 L696.3 1373.64 L698.3 1375.44 L700.3 1377.23 L702.3 1378.99 L704.3 1380.73 L706.3 1382.45 L708.3 1384.14 L710.3 1385.82 L712.3 1387.47 L714.3 1389.1 L716.3 1390.72 L718.3 1392.31 L720.3 1393.88 L722.3 1395.43 L724.3 1396.95 L726.3 1398.46 L728.3 1399.95 L730.3 1401.42 L732.3 1402.87 L734.3 1404.29 L736.3 1405.7 L738.3 1407.09 L740.3 1408.45 L742.3 1409.8 L744.3 1411.13 L746.3 1412.44 L748.3 1413.72 L750.3 1414.99 L752.3 1416.24 L754.3 1417.47 L756.3 1418.68 L758.3 1419.87 L760.3 1421.04 L762.3 1422.19 L764.3 1423.33 L766.3 1424.44 L768.3 1425.53 L770.3 1426.61 L772.3 1427.67 L774.3 1428.7 L776.3 1429.72 L778.3 1430.72 L780.3 1431.7 L782.3 1432.66 L784.3 1433.6 L786.3 1434.52 L788.3 1435.42 L788.6 1435.51" stroke="#00ffff"/>
<path d="M93.3 1489.07 L95.3 1488.66 L97.3 1488.24 L99.3 1487.81 L101.3 1487.38 L103.3 1486.94 L105.3 1486.48 L107.3 1486.02 L109.3 1485.55 L111.3 1485.08 L113.3 1484.59 L115.3 1484.1 L117.3 1483.59 L119.3 1483.08 L121.3 1482.56 L123.3 1482.03 L125.3 1481.5 L127.3 1480.95 L129.3 1480.4 L131.3 1479.83 L133.3 1479.26 L135.3 1478.68 L137.3 1478.09 L139.3 1477.49 L141.3 1476.89 L143.3 1476.27 L145.3 1475.65 L147.3 1475.01 L149.3 1474.37 L151.3 1473.72 L153.3 1473.06 L155.3 1472.39 L157.3 1471.71 L159.3 1471.03 L161.3 1470.33 L163.3 1469.62 L165.3 1468.91 L167.3 1468.18 L169.3 1467.45 L171.3 1466.71 L173.3 1465.95 L175.3 1465.19 L177.3 1464.42 L179.3 1463.64 L181.3 1462.85 L183.3 1462.05 L185.3 1461.24 L187.3 1460.42 L189.3 1459.59 L191.3 1458.75 L193.3 1457.9 L195.3 1457.04 L197.3 1456.17 L199.3 1455.29 L201.3 1454.4 L203.3 1453.5 L205.3 1452.59 L207.3 1451.67 L209.3 1450.73 L211.3 1449.79 L213.3 1448.84 L215.3 1447.87 L217.3 1446.9 L219.3 1445.91 L221.3 1444.92 L223.3 1443.91 L225.3 1442.89 L227.3 1441.86 L229.3 1440.82 L231.3 1439.77 L233.3 1438.7 L235.3 1437.63 L237.3 1436.54 L239.3 1435.44 L241.3 1434.33 L243.3 1433.2 L245.3 1432.07 L247.3 1430.92 L249.3 1429.76 L251.3 1428.59 L253.3 1427.4 L255.3 1426.2 L257.3 1424.99 L259.3 1423.76 L261.3 1422.53 L263.3 1421.28 L265.3 1420.01 L267.3 1418.73 L269.3 1417.44 L271.3 1416.13 L273.3 1414.81 L275.3 1413.48 L277.3 1412.13 L279.3 1410.77 L281.3 1409.39 L283.3 1407.99 L285.3 1406.58 L287.3 1405.16 L289.3 1403.72 L291.3 1402.26 L293.3 1400.79 L295.3 1399.3 L297.3 1397.8 L299.3 1396.28 L301.3 1394.74 L303.3 1393.18 L305.3 1391.61 L307.3 1390.02 L309.3 1388.41 L311.3 1386.78 L313.3 1385.13 L315.3 1383.47 L317.3 1381.78 L319.3 1380.08 L321.3 1378.35 L323.3 1376.61 L325.3 1374.84 L327.3 1373.06 L329.3 1371.25 L331.3 1369.41 L333.3 1367.53 L335.3 1365.6 L337.3 1363.61 L339.3 1361.56 L341.3 1359.41 L343.3 1357.16 L345.3 1354.77 L347.3 1352.23 L348.8 1350.19 L350.3 1348.01 L351.8 1345.66 L353.3 1343.09 L354.8 1340.24 L355.8 1338.14 L356.8 1335.87 L357.8 1333.4 L358.8 1330.7 L359.8 1327.77 L360.8 1324.56 L361.8 1321.09 L362.8 1317.34 L363.8 1313.34 L364.3 1311.27 L364.8 1309.17 L365.3 1307.05 L365.8 1304.92 L366.3 1302.8 L366.8 1300.7 L367.3 1298.63 L367.8 1296.61 L368.8 1292.67 L369.8 1288.87 L370.8 1285.19 L371.8 1281.63 L372.8 1278.16 L373.8 1274.79 L374.8 1271.51 L375.8 1268.3 L376.8 1265.17 L377.8 1262.11 L378.8 1259.12 L379.8 1256.18 L380.8 1253.31 L381.8 1250.48 L382.8 1247.71 L383.8 1244.98 L384.8 1242.3 L385.8 1239.67 L386.8 1237.07 L387.8 1234.51 L388.8 1231.99 L389.8 1229.5 L390.8 1227.05 L391.8 1224.63 L392.8 1222.24 L393.8 1219.87 L394.8 1217.54 L395.8 1215.23 L396.8 1212.95 L397.8 1210.69 L398.8 1208.45 L399.8 1206.23 L400.8 1204.04 L401.8 1201.87 L402.8 1199.72 L403.8 1197.58 L404.8 1195.46 L405.8 1193.37 L406.8 1191.28 L407.8 1189.22 L408.8 1187.17 L409.8 1185.13 L410.8 1183.11 L411.8 1181.1 L413.3 1178.12 L414.8 1175.16 L416.3 1172.23 L417.8 1169.33 L419.3 1166.45 L420.8 1163.59 L422.3 1160.75 L423.8 1157.93 L425.3 1155.14 L426.8 1152.36 L428.3 1149.6 L429.8 1146.88 L431.3 1144.18 L432.8 1141.52 L434.3 1138.89 L435.8 1136.3 L437.3 1133.74 L438.8 1131.23 L440.3 1128.77 L441.8 1126.34 L443.3 1123.96 L444.8 1121.62 L446.3 1119.33 L447.8 1117.08 L449.3 1114.87 L450.8 1112.71 L452.3 1110.59 L453.8 1108.53 L455.8 1105.9 L457.8 1103.45 L459.8 1101.21 L461.8 1099.21 L463.8 1097.46 L465.8 1095.99 L467.8 1094.8 L469.8 1093.9 L471.8 1093.29 L473.8 1092.98 L475.8 1092.96 L477.8 1093.21 L479.8 1093.68 L481.8 1094.33 L483.8 1095.09 L485.8 1095.95 L487.8 1096.89 L489.8 1097.9 L491.8 1098.98 L493.8 1100.15 L495.8 1101.4 L497.8 1102.74 L499.8 1104.16 L501.8 1105.68 L503.8 1107.28 L505.8 1108.99 L507.8 1110.79 L509.8 1112.7 L511.8 1114.71 L513.8 1116.82 L515.8 1119.04 L517.8 1121.37 L519.8 1123.81 L521.8 1126.36 L523.8 1129.03 L525.3 1131.1 L526.8 1133.23 L528.3 1135.42 L529.8 1137.67 L531.3 1139.97 L532.8 1142.34 L534.3 1144.75 L535.8 1147.22 L537.3 1149.73 L538.8 1152.29 L540.3 1154.89 L541.8 1157.52 L543.3 1160.19 L544.8 1162.88 L546.3 1165.59 L547.8 1168.32 L549.3 1171.06 L550.8 1173.8 L552.3 1176.53 L553.8 1179.26 L555.3 1181.99 L556.8 1184.7 L558.3 1187.41 L559.8 1190.1 L561.3 1192.79 L562.8 1195.47 L564.3 1198.13 L565.8 1200.79 L567.3 1203.44 L568.8 1206.07 L570.3 1208.69 L571.8 1211.3 L573.3 1213.9 L574.8 1216.49 L576.3 1219.06 L577.8 1221.62 L579.3 1224.17 L580.8 1226.7 L582.3 1229.22 L583.8 1231.72 L585.3 1234.22 L586.8 1236.69 L588.3 1239.15 L589.8 1241.6 L591.3 1244.03 L592.8 1246.45 L594.3 1248.85 L595.8 1251.23 L597.3 1253.6 L598.8 1255.95 L600.3 1258.29 L601.8 1260.61 L603.3 1262.91 L604.8 1265.2 L606.3 1267.48 L607.8 1269.73 L609.3 1271.97 L610.8 1274.19 L612.3 1276.4 L613.8 1278.59 L615.3 1280.76 L616.8 1282.92 L618.3 1285.06 L619.8 1287.18 L621.3 1289.29 L622.8 1291.38 L624.3 1293.45 L625.8 1295.51 L627.3 1297.55 L628.8 1299.57 L630.3 1301.58 L632.3 1304.23 L634.3 1306.85 L636.3 1309.45 L638.3 1312.01 L640.3 1314.55 L642.3 1317.06 L644.3 1319.54 L646.3 1321.99 L648.3 1324.41 L650.3 1326.81 L652.3 1329.18 L654.3 1331.52 L656.3 1333.83 L658.3 1336.12 L660.3 1338.38 L662.3 1340.62 L664.3 1342.83 L666.3 1345.01 L668.3 1347.17 L670.3 1349.31 L672.3 1351.42 L674.3 1353.5 L676.3 1355.56 L678.3 1357.6 L680.3 1359.61 L682.3 1361.6 L684.3 1363.57 L686.3 1365.51 L688.3 1367.43 L690.3 1369.33 L692.3 1371.2 L694.3 1373.05 L696.3 1374.88 L698.3 1376.69 L700.3 1378.47 L702.3 1380.24 L704.3 1381.98 L706.3 1383.7 L708.3 1385.39 L710.3 1387.07 L712.3 1388.72 L714.3 1390.35 L716.3 1391.96 L718.3 1393.55 L720.3 1395.12 L722.3 1396.67 L724.3 1398.2 L726.3 1399.7 L728.3 1401.18 L730.3 1402.65 L732.3 1404.09 L734.3 1405.51 L736.3 1406.91 L738.3 1408.29 L740.3 1409.65 L742.3 1410.99 L744.3 1412.31 L746.3 1413.61 L748.3 1414.89 L750.3 1416.14 L752.3 1417.38 L754.3 1418.6 L756.3 1419.79 L758.3 1420.97 L760.3 1422.12 L762.3 1423.26 L764.3 1424.38 L766.3 1425.47 L768.3 1426.55 L770.3 1427.6 L772.3 1428.64 L774.3 1429.65 L776.3 1430.65 L778.3 1431.62 L780.3 1432.58 L782.3 1433.51 L784.3 1434.42 L786.3 1435.32 L788.3 1436.19 L788.6 1436.32" stroke="#ff00ff"/>
</g>
<g fill="none" stroke-width="3.3" stroke-linejoin="round">
<path d="M918.4 1487.66 L920.4 1487.25 L922.4 1486.82 L924.4 1486.38 L926.4 1485.94 L928.4 1485.48 L930.4 1485.02 L932.4 1484.54 L934.4 1484.06 L936.4 1483.57 L938.4 1483.07 L940.4 1482.56 L942.4 1482.04 L944.4 1481.51 L946.4 1480.97 L948.4 1480.42 L950.4 1479.86 L952.4 1479.3 L954.4 1478.72 L956.4 1478.13 L958.4 1477.54 L960.4 1476.93 L962.4 1476.32 L964.4 1475.69 L966.4 1475.06 L968.4 1474.42 L970.4 1473.76 L972.4 1473.1 L974.4 1472.43 L976.4 1471.75 L978.4 1471.06 L980.4 1470.35 L982.4 1469.64 L984.4 1468.92 L986.4 1468.19 L988.4 1467.45 L990.4 1466.7 L992.4 1465.95 L994.4 1465.18 L996.4 1464.4 L998.4 1463.61 L1000.4 1462.81 L1002.4 1462 L1004.4 1461.19 L1006.4 1460.36 L1008.4 1459.52 L1010.4 1458.68 L1012.4 1457.82 L1014.4 1456.96 L1016.4 1456.08 L1018.4 1455.2 L1020.4 1454.3 L1022.4 1453.4 L1024.4 1452.49 L1026.4 1451.56 L1028.4 1450.63 L1030.4 1449.69 L1032.4 1448.73 L1034.4 1447.77 L1036.4 1446.8 L1038.4 1445.81 L1040.4 1444.82 L1042.4 1443.81 L1044.4 1442.79 L1046.4 1441.77 L1048.4 1440.73 L1050.4 1439.68 L1052.4 1438.62 L1054.4 1437.54 L1056.4 1436.46 L1058.4 1435.36 L1060.4 1434.26 L1062.4 1433.14 L1064.4 1432 L1066.4 1430.86 L1068.4 1429.7 L1070.4 1428.53 L1072.4 1427.35 L1074.4 1426.16 L1076.4 1424.95 L1078.4 1423.73 L1080.4 1422.49 L1082.4 1421.24 L1084.4 1419.98 L1086.4 1418.7 L1088.4 1417.41 L1090.4 1416.1 L1092.4 1414.78 L1094.4 1413.45 L1096.4 1412.09 L1098.4 1410.73 L1100.4 1409.34 L1102.4 1407.94 L1104.4 1406.53 L1106.4 1405.09 L1108.4 1403.64 L1110.4 1402.18 L1112.4 1400.69 L1114.4 1399.19 L1116.4 1397.66 L1118.4 1396.12 L1120.4 1394.56 L1122.4 1392.98 L1124.4 1391.38 L1126.4 1389.76 L1128.4 1388.12 L1130.4 1386.46 L1132.4 1384.77 L1134.4 1383.06 L1136.4 1381.33 L1138.4 1379.58 L1140.4 1377.8 L1142.4 1375.99 L1144.4 1374.16 L1146.4 1372.31 L1148.4 1370.42 L1150.4 1368.51 L1152.4 1366.57 L1154.4 1364.57 L1156.4 1362.52 L1158.4 1360.39 L1160.4 1358.16 L1162.4 1355.82 L1164.4 1353.32 L1166.4 1350.63 L1167.9 1348.45 L1169.4 1346.09 L1170.9 1343.49 L1172.4 1340.63 L1173.4 1338.55 L1174.4 1336.31 L1175.4 1333.88 L1176.4 1331.26 L1177.4 1328.4 L1178.4 1325.29 L1179.4 1321.88 L1180.4 1318.15 L1181.4 1314.08 L1181.9 1311.91 L1182.4 1309.66 L1182.9 1307.33 L1183.4 1304.93 L1183.9 1302.47 L1184.4 1299.97 L1184.9 1297.45 L1185.4 1294.91 L1185.9 1292.4 L1186.4 1289.91 L1186.9 1287.48 L1187.4 1285.11 L1187.9 1282.81 L1188.4 1280.59 L1188.9 1278.46 L1189.4 1276.41 L1190.4 1272.5 L1191.4 1268.81 L1192.4 1265.3 L1193.4 1261.94 L1194.4 1258.7 L1195.4 1255.57 L1196.4 1252.52 L1197.4 1249.54 L1198.4 1246.63 L1199.4 1243.77 L1200.4 1240.96 L1201.4 1238.19 L1202.4 1235.45 L1203.4 1232.74 L1204.4 1230.05 L1205.4 1227.38 L1206.4 1224.72 L1207.4 1222.06 L1208.4 1219.41 L1209.4 1216.75 L1210.4 1214.09 L1211.4 1211.42 L1212.4 1208.72 L1213.4 1206.01 L1214.4 1203.27 L1215.4 1200.49 L1216.4 1197.67 L1217.4 1194.81 L1218.4 1191.88 L1219.4 1188.89 L1220.4 1185.82 L1221.4 1182.65 L1222.4 1179.38 L1223.4 1175.97 L1224.4 1172.44 L1225.4 1168.79 L1226.4 1165.06 L1227.4 1161.26 L1228.4 1157.42 L1229.4 1153.59 L1230.4 1149.78 L1231.4 1146.04 L1232.4 1142.37 L1233.4 1138.82 L1234.4 1135.38 L1235.4 1132.06 L1236.4 1128.88 L1237.4 1125.82 L1238.4 1122.89 L1239.4 1120.08 L1240.4 1117.39 L1241.4 1114.81 L1242.4 1112.33 L1243.4 1109.95 L1244.4 1107.66 L1245.4 1105.46 L1246.4 1103.34 L1247.4 1101.29 L1248.9 1098.36 L1250.4 1095.57 L1251.9 1092.92 L1253.4 1090.4 L1254.9 1088 L1256.4 1085.73 L1257.9 1083.58 L1259.4 1081.54 L1261.4 1079.01 L1263.4 1076.68 L1265.4 1074.56 L1267.4 1072.63 L1269.4 1070.92 L1271.4 1069.41 L1273.4 1068.1 L1275.4 1067.01 L1277.4 1066.14 L1279.4 1065.49 L1281.4 1065.07 L1283.4 1064.88 L1285.4 1064.93 L1287.4 1065.2 L1289.4 1065.7 L1291.4 1066.4 L1293.4 1067.29 L1295.4 1068.36 L1297.4 1069.6 L1299.4 1071.01 L1301.4 1072.57 L1303.4 1074.27 L1305.4 1076.12 L1307.4 1078.1 L1309.4 1080.2 L1311.4 1082.43 L1313.4 1084.77 L1315.4 1087.22 L1317.4 1089.77 L1319.4 1092.42 L1320.9 1094.47 L1322.4 1096.58 L1323.9 1098.73 L1325.4 1100.93 L1326.9 1103.19 L1328.4 1105.5 L1329.9 1107.86 L1331.4 1110.28 L1332.9 1112.75 L1334.4 1115.27 L1335.9 1117.83 L1337.4 1120.44 L1338.9 1123.09 L1340.4 1125.78 L1341.9 1128.5 L1343.4 1131.25 L1344.9 1134.01 L1346.4 1136.78 L1347.9 1139.56 L1349.4 1142.34 L1350.9 1145.13 L1352.4 1147.92 L1353.9 1150.71 L1355.4 1153.5 L1356.9 1156.3 L1358.4 1159.1 L1359.9 1161.89 L1361.4 1164.69 L1362.9 1167.48 L1364.4 1170.28 L1365.9 1173.07 L1367.4 1175.86 L1368.9 1178.64 L1370.4 1181.42 L1371.9 1184.19 L1373.4 1186.96 L1374.9 1189.73 L1376.4 1192.48 L1377.9 1195.23 L1379.4 1197.97 L1380.9 1200.7 L1382.4 1203.43 L1383.9 1206.14 L1385.4 1208.85 L1386.9 1211.54 L1388.4 1214.22 L1389.9 1216.89 L1391.4 1219.55 L1392.9 1222.2 L1394.4 1224.83 L1395.9 1227.46 L1397.4 1230.06 L1398.9 1232.66 L1400.4 1235.24 L1401.9 1237.8 L1403.4 1240.35 L1404.9 1242.89 L1406.4 1245.41 L1407.9 1247.91 L1409.4 1250.4 L1410.9 1252.87 L1412.4 1255.33 L1413.9 1257.77 L1415.4 1260.19 L1416.9 1262.6 L1418.4 1264.99 L1419.9 1267.36 L1421.4 1269.71 L1422.9 1272.05 L1424.4 1274.36 L1425.9 1276.66 L1427.4 1278.95 L1428.9 1281.21 L1430.4 1283.46 L1431.9 1285.69 L1433.4 1287.9 L1434.9 1290.09 L1436.4 1292.27 L1437.9 1294.42 L1439.4 1296.56 L1440.9 1298.68 L1442.4 1300.78 L1443.9 1302.87 L1445.4 1304.93 L1446.9 1306.98 L1448.4 1309.01 L1449.9 1311.02 L1451.9 1313.67 L1453.9 1316.29 L1455.9 1318.88 L1457.9 1321.44 L1459.9 1323.97 L1461.9 1326.47 L1463.9 1328.93 L1465.9 1331.37 L1467.9 1333.77 L1469.9 1336.14 L1471.9 1338.49 L1473.9 1340.8 L1475.9 1343.08 L1477.9 1345.34 L1479.9 1347.56 L1481.9 1349.76 L1483.9 1351.93 L1485.9 1354.07 L1487.9 1356.18 L1489.9 1358.27 L1491.9 1360.32 L1493.9 1362.35 L1495.9 1364.36 L1497.9 1366.34 L1499.9 1368.29 L1501.9 1370.21 L1503.9 1372.11 L1505.9 1373.99 L1507.9 1375.84 L1509.9 1377.67 L1511.9 1379.47 L1513.9 1381.24 L1515.9 1382.99 L1517.9 1384.72 L1519.9 1386.43 L1521.9 1388.11 L1523.9 1389.76 L1525.9 1391.4 L1527.9 1393.01 L1529.9 1394.6 L1531.9 1396.16 L1533.9 1397.71 L1535.9 1399.23 L1537.9 1400.73 L1539.9 1402.2 L1541.9 1403.66 L1543.9 1405.09 L1545.9 1406.5 L1547.9 1407.89 L1549.9 1409.26 L1551.9 1410.61 L1553.9 1411.94 L1555.9 1413.24 L1557.9 1414.53 L1559.9 1415.79 L1561.9 1417.04 L1563.9 1418.26 L1565.9 1419.46 L1567.9 1420.65 L1569.9 1421.81 L1571.9 1422.96 L1573.9 1424.08 L1575.9 1425.18 L1577.9 1426.27 L1579.9 1427.34 L1581.9 1428.38 L1583.9 1429.41 L1585.9 1430.42 L1587 1430.97" stroke="#000000"/>
<path d="M918.4 1487.88 L920.4 1487.43 L922.4 1486.97 L924.4 1486.51 L926.4 1486.03 L928.4 1485.55 L930.4 1485.06 L932.4 1484.56 L934.4 1484.06 L936.4 1483.54 L938.4 1483.02 L940.4 1482.49 L942.4 1481.96 L944.4 1481.41 L946.4 1480.86 L948.4 1480.3 L950.4 1479.73 L952.4 1479.16 L954.4 1478.57 L956.4 1477.98 L958.4 1477.38 L960.4 1476.77 L962.4 1476.15 L964.4 1475.53 L966.4 1474.89 L968.4 1474.25 L970.4 1473.6 L972.4 1472.94 L974.4 1472.27 L976.4 1471.6 L978.4 1470.91 L980.4 1470.22 L982.4 1469.52 L984.4 1468.8 L986.4 1468.08 L988.4 1467.35 L990.4 1466.62 L992.4 1465.87 L994.4 1465.11 L996.4 1464.35 L998.4 1463.57 L1000.4 1462.79 L1002.4 1461.99 L1004.4 1461.19 L1006.4 1460.38 L1008.4 1459.55 L1010.4 1458.72 L1012.4 1457.88 L1014.4 1457.03 L1016.4 1456.17 L1018.4 1455.29 L1020.4 1454.41 L1022.4 1453.52 L1024.4 1452.61 L1026.4 1451.7 L1028.4 1450.78 L1030.4 1449.84 L1032.4 1448.9 L1034.4 1447.94 L1036.4 1446.97 L1038.4 1445.99 L1040.4 1445 L1042.4 1444 L1044.4 1442.99 L1046.4 1441.96 L1048.4 1440.93 L1050.4 1439.88 L1052.4 1438.82 L1054.4 1437.75 L1056.4 1436.66 L1058.4 1435.56 L1060.4 1434.45 L1062.4 1433.33 L1064.4 1432.2 L1066.4 1431.05 L1068.4 1429.88 L1070.4 1428.71 L1072.4 1427.52 L1074.4 1426.32 L1076.4 1425.1 L1078.4 1423.87 L1080.4 1422.62 L1082.4 1421.36 L1084.4 1420.09 L1086.4 1418.8 L1088.4 1417.49 L1090.4 1416.17 L1092.4 1414.83 L1094.4 1413.48 L1096.4 1412.11 L1098.4 1410.72 L1100.4 1409.32 L1102.4 1407.9 L1104.4 1406.46 L1106.4 1405.01 L1108.4 1403.53 L1110.4 1402.04 L1112.4 1400.53 L1114.4 1399 L1116.4 1397.45 L1118.4 1395.88 L1120.4 1394.29 L1122.4 1392.68 L1124.4 1391.05 L1126.4 1389.4 L1128.4 1387.72 L1130.4 1386.03 L1132.4 1384.31 L1134.4 1382.56 L1136.4 1380.79 L1138.4 1378.99 L1140.4 1377.16 L1142.4 1375.3 L1144.4 1373.39 L1146.4 1371.44 L1148.4 1369.45 L1150.4 1367.39 L1152.4 1365.28 L1154.4 1363.1 L1156.4 1360.84 L1158.4 1358.5 L1160.4 1356.06 L1162.4 1353.51 L1164.4 1350.82 L1165.9 1348.71 L1167.4 1346.51 L1168.9 1344.19 L1170.4 1341.74 L1171.9 1339.13 L1173.4 1336.35 L1174.9 1333.34 L1175.9 1331.17 L1176.9 1328.86 L1177.9 1326.36 L1178.9 1323.63 L1179.9 1320.59 L1180.9 1317.14 L1181.9 1313.17 L1182.4 1310.94 L1182.9 1308.53 L1183.4 1305.9 L1183.9 1303.03 L1184.4 1299.9 L1184.9 1296.49 L1185.4 1292.81 L1185.9 1288.91 L1186.4 1284.88 L1186.9 1280.84 L1187.4 1276.91 L1187.9 1273.2 L1188.4 1269.76 L1188.9 1266.59 L1189.4 1263.69 L1189.9 1261.04 L1190.4 1258.6 L1190.9 1256.36 L1191.4 1254.28 L1192.4 1250.57 L1193.4 1247.31 L1194.4 1244.4 L1195.4 1241.72 L1196.4 1239.21 L1197.4 1236.82 L1198.4 1234.52 L1199.4 1232.29 L1200.4 1230.12 L1201.4 1227.97 L1202.4 1225.85 L1203.4 1223.73 L1204.4 1221.61 L1205.4 1219.47 L1206.4 1217.32 L1207.4 1215.15 L1208.4 1212.96 L1209.4 1210.74 L1210.4 1208.5 L1211.4 1206.24 L1212.4 1203.95 L1213.4 1201.63 L1214.4 1199.27 L1215.4 1196.88 L1216.4 1194.45 L1217.4 1191.98 L1218.4 1189.45 L1219.4 1186.88 L1220.4 1184.24 L1221.4 1181.53 L1222.4 1178.74 L1223.4 1175.87 L1224.4 1172.91 L1225.4 1169.86 L1226.4 1166.74 L1227.4 1163.55 L1228.4 1160.3 L1229.4 1157.01 L1230.4 1153.7 L1231.4 1150.38 L1232.4 1147.07 L1233.4 1143.8 L1234.4 1140.57 L1235.4 1137.41 L1236.4 1134.32 L1237.4 1131.3 L1238.4 1128.37 L1239.4 1125.53 L1240.4 1122.78 L1241.4 1120.11 L1242.4 1117.53 L1243.4 1115.03 L1244.4 1112.61 L1245.4 1110.26 L1246.4 1107.99 L1247.4 1105.78 L1248.4 1103.64 L1249.4 1101.57 L1250.9 1098.61 L1252.4 1095.82 L1253.9 1093.21 L1255.4 1090.78 L1256.9 1088.52 L1258.4 1086.44 L1260.4 1083.93 L1262.4 1081.71 L1264.4 1079.75 L1266.4 1078.06 L1268.4 1076.61 L1270.4 1075.38 L1272.4 1074.38 L1274.4 1073.57 L1276.4 1072.93 L1278.4 1072.46 L1280.4 1072.12 L1282.4 1071.94 L1284.4 1071.89 L1286.4 1072 L1288.4 1072.25 L1290.4 1072.67 L1292.4 1073.26 L1294.4 1074.02 L1296.4 1074.95 L1298.4 1076.06 L1300.4 1077.36 L1302.4 1078.85 L1304.4 1080.52 L1306.4 1082.39 L1308.4 1084.44 L1310.4 1086.67 L1312.4 1089.08 L1314.4 1091.66 L1315.9 1093.7 L1317.4 1095.81 L1318.9 1098 L1320.4 1100.25 L1321.9 1102.56 L1323.4 1104.91 L1324.9 1107.28 L1326.4 1109.67 L1327.9 1112.09 L1329.4 1114.51 L1330.9 1116.95 L1332.4 1119.41 L1333.9 1121.89 L1335.4 1124.37 L1336.9 1126.88 L1338.4 1129.4 L1339.9 1131.93 L1341.4 1134.47 L1342.9 1137.03 L1344.4 1139.61 L1345.9 1142.19 L1347.4 1144.79 L1348.9 1147.4 L1350.4 1150.02 L1351.9 1152.65 L1353.4 1155.29 L1354.9 1157.94 L1356.4 1160.6 L1357.9 1163.26 L1359.4 1165.94 L1360.9 1168.62 L1362.4 1171.3 L1363.9 1174 L1365.4 1176.69 L1366.9 1179.39 L1368.4 1182.1 L1369.9 1184.8 L1371.4 1187.51 L1372.9 1190.22 L1374.4 1192.93 L1375.9 1195.64 L1377.4 1198.34 L1378.9 1201.04 L1380.4 1203.75 L1381.9 1206.44 L1383.4 1209.13 L1384.9 1211.82 L1386.4 1214.5 L1387.9 1217.17 L1389.4 1219.84 L1390.9 1222.49 L1392.4 1225.14 L1393.9 1227.78 L1395.4 1230.4 L1396.9 1233.02 L1398.4 1235.62 L1399.9 1238.22 L1401.4 1240.79 L1402.9 1243.36 L1404.4 1245.91 L1405.9 1248.44 L1407.4 1250.96 L1408.9 1253.47 L1410.4 1255.96 L1411.9 1258.43 L1413.4 1260.88 L1414.9 1263.32 L1416.4 1265.74 L1417.9 1268.14 L1419.4 1270.53 L1420.9 1272.89 L1422.4 1275.24 L1423.9 1277.57 L1425.4 1279.88 L1426.9 1282.17 L1428.4 1284.44 L1429.9 1286.69 L1431.4 1288.92 L1432.9 1291.13 L1434.4 1293.32 L1435.9 1295.49 L1437.4 1297.65 L1438.9 1299.78 L1440.4 1301.89 L1441.9 1303.98 L1443.4 1306.06 L1444.9 1308.11 L1446.4 1310.14 L1447.9 1312.15 L1449.9 1314.81 L1451.9 1317.43 L1453.9 1320.01 L1455.9 1322.56 L1457.9 1325.08 L1459.9 1327.56 L1461.9 1330.01 L1463.9 1332.42 L1465.9 1334.81 L1467.9 1337.16 L1469.9 1339.49 L1471.9 1341.78 L1473.9 1344.05 L1475.9 1346.28 L1477.9 1348.49 L1479.9 1350.66 L1481.9 1352.81 L1483.9 1354.94 L1485.9 1357.03 L1487.9 1359.1 L1489.9 1361.14 L1491.9 1363.16 L1493.9 1365.15 L1495.9 1367.11 L1497.9 1369.05 L1499.9 1370.97 L1501.9 1372.86 L1503.9 1374.72 L1505.9 1376.56 L1507.9 1378.38 L1509.9 1380.17 L1511.9 1381.94 L1513.9 1383.69 L1515.9 1385.41 L1517.9 1387.11 L1519.9 1388.79 L1521.9 1390.44 L1523.9 1392.08 L1525.9 1393.69 L1527.9 1395.27 L1529.9 1396.84 L1531.9 1398.38 L1533.9 1399.9 L1535.9 1401.41 L1537.9 1402.88 L1539.9 1404.34 L1541.9 1405.78 L1543.9 1407.19 L1545.9 1408.59 L1547.9 1409.96 L1549.9 1411.31 L1551.9 1412.65 L1553.9 1413.96 L1555.9 1415.25 L1557.9 1416.52 L1559.9 1417.77 L1561.9 1419 L1563.9 1420.21 L1565.9 1421.4 L1567.9 1422.57 L1569.9 1423.72 L1571.9 1424.85 L1573.9 1425.96 L1575.9 1427.05 L1577.9 1428.12 L1579.9 1429.17 L1581.9 1430.2 L1583.9 1431.21 L1585.9 1432.2 L1587 1432.74" stroke="#ff0000"/>
<path d="M918.4 1487.79 L920.4 1487.36 L922.4 1486.91 L924.4 1486.46 L926.4 1486 L928.4 1485.53 L930.4 1485.06 L932.4 1484.57 L934.4 1484.08 L936.4 1483.57 L938.4 1483.06 L940.4 1482.54 L942.4 1482.01 L944.4 1481.47 L946.4 1480.92 L948.4 1480.37 L950.4 1479.8 L952.4 1479.23 L954.4 1478.65 L956.4 1478.06 L958.4 1477.45 L960.4 1476.85 L962.4 1476.23 L964.4 1475.6 L966.4 1474.96 L968.4 1474.32 L970.4 1473.66 L972.4 1473 L974.4 1472.33 L976.4 1471.64 L978.4 1470.95 L980.4 1470.25 L982.4 1469.54 L984.4 1468.82 L986.4 1468.1 L988.4 1467.36 L990.4 1466.61 L992.4 1465.86 L994.4 1465.1 L996.4 1464.32 L998.4 1463.54 L1000.4 1462.75 L1002.4 1461.95 L1004.4 1461.14 L1006.4 1460.32 L1008.4 1459.49 L1010.4 1458.65 L1012.4 1457.8 L1014.4 1456.95 L1016.4 1456.08 L1018.4 1455.2 L1020.4 1454.32 L1022.4 1453.43 L1024.4 1452.52 L1026.4 1451.61 L1028.4 1450.68 L1030.4 1449.75 L1032.4 1448.81 L1034.4 1447.85 L1036.4 1446.89 L1038.4 1445.92 L1040.4 1444.93 L1042.4 1443.93 L1044.4 1442.93 L1046.4 1441.91 L1048.4 1440.88 L1050.4 1439.84 L1052.4 1438.78 L1054.4 1437.72 L1056.4 1436.64 L1058.4 1435.55 L1060.4 1434.45 L1062.4 1433.34 L1064.4 1432.21 L1066.4 1431.07 L1068.4 1429.92 L1070.4 1428.75 L1072.4 1427.57 L1074.4 1426.37 L1076.4 1425.17 L1078.4 1423.94 L1080.4 1422.7 L1082.4 1421.45 L1084.4 1420.18 L1086.4 1418.9 L1088.4 1417.6 L1090.4 1416.28 L1092.4 1414.95 L1094.4 1413.6 L1096.4 1412.23 L1098.4 1410.85 L1100.4 1409.44 L1102.4 1408.02 L1104.4 1406.58 L1106.4 1405.12 L1108.4 1403.64 L1110.4 1402.14 L1112.4 1400.62 L1114.4 1399.08 L1116.4 1397.52 L1118.4 1395.93 L1120.4 1394.32 L1122.4 1392.69 L1124.4 1391.03 L1126.4 1389.35 L1128.4 1387.64 L1130.4 1385.91 L1132.4 1384.14 L1134.4 1382.35 L1136.4 1380.53 L1138.4 1378.67 L1140.4 1376.78 L1142.4 1374.85 L1144.4 1372.87 L1146.4 1370.85 L1148.4 1368.77 L1150.4 1366.63 L1152.4 1364.43 L1154.4 1362.14 L1156.4 1359.76 L1158.4 1357.27 L1160.4 1354.65 L1161.9 1352.58 L1163.4 1350.39 L1164.9 1348.08 L1166.4 1345.59 L1167.9 1342.91 L1169.4 1340.01 L1170.4 1337.92 L1171.4 1335.7 L1172.4 1333.32 L1173.4 1330.8 L1174.4 1328.11 L1175.4 1325.29 L1176.4 1322.34 L1177.4 1319.3 L1178.4 1316.17 L1179.4 1312.92 L1180.4 1309.48 L1181.4 1305.75 L1181.9 1303.75 L1182.4 1301.63 L1182.9 1299.39 L1183.4 1296.99 L1183.9 1294.42 L1184.4 1291.66 L1184.9 1288.7 L1185.4 1285.54 L1185.9 1282.23 L1186.4 1278.82 L1186.9 1275.41 L1187.4 1272.1 L1187.9 1268.95 L1188.4 1266 L1188.9 1263.27 L1189.4 1260.74 L1189.9 1258.4 L1190.4 1256.23 L1190.9 1254.21 L1191.9 1250.54 L1192.9 1247.27 L1193.9 1244.32 L1194.9 1241.6 L1195.9 1239.02 L1196.9 1236.57 L1197.9 1234.2 L1198.9 1231.89 L1199.9 1229.64 L1200.9 1227.43 L1201.9 1225.23 L1202.9 1223.06 L1203.9 1220.88 L1204.9 1218.7 L1205.9 1216.51 L1206.9 1214.31 L1207.9 1212.1 L1208.9 1209.87 L1209.9 1207.63 L1210.9 1205.37 L1211.9 1203.08 L1212.9 1200.78 L1213.9 1198.45 L1214.9 1196.09 L1215.9 1193.7 L1216.9 1191.28 L1217.9 1188.82 L1218.9 1186.32 L1219.9 1183.77 L1220.9 1181.16 L1221.9 1178.5 L1222.9 1175.77 L1223.9 1172.97 L1224.9 1170.1 L1225.9 1167.17 L1226.9 1164.19 L1227.9 1161.15 L1228.9 1158.09 L1229.9 1155 L1230.9 1151.9 L1231.9 1148.82 L1232.9 1145.75 L1233.9 1142.73 L1234.9 1139.75 L1235.9 1136.83 L1236.9 1133.98 L1237.9 1131.19 L1238.9 1128.48 L1239.9 1125.85 L1240.9 1123.29 L1241.9 1120.81 L1242.9 1118.4 L1243.9 1116.06 L1244.9 1113.78 L1245.9 1111.58 L1246.9 1109.43 L1247.9 1107.35 L1248.9 1105.32 L1250.4 1102.4 L1251.9 1099.64 L1253.4 1097.03 L1254.9 1094.57 L1256.4 1092.28 L1257.9 1090.15 L1259.9 1087.56 L1261.9 1085.23 L1263.9 1083.17 L1265.9 1081.37 L1267.9 1079.81 L1269.9 1078.49 L1271.9 1077.39 L1273.9 1076.52 L1275.9 1075.83 L1277.9 1075.34 L1279.9 1075.02 L1281.9 1074.86 L1283.9 1074.87 L1285.9 1075.05 L1287.9 1075.38 L1289.9 1075.88 L1291.9 1076.53 L1293.9 1077.36 L1295.9 1078.35 L1297.9 1079.5 L1299.9 1080.83 L1301.9 1082.32 L1303.9 1083.98 L1305.9 1085.81 L1307.9 1087.81 L1309.9 1089.97 L1311.9 1092.29 L1313.9 1094.77 L1315.9 1097.38 L1317.4 1099.43 L1318.9 1101.54 L1320.4 1103.72 L1321.9 1105.96 L1323.4 1108.23 L1324.9 1110.55 L1326.4 1112.9 L1327.9 1115.27 L1329.4 1117.67 L1330.9 1120.09 L1332.4 1122.54 L1333.9 1125.02 L1335.4 1127.51 L1336.9 1130.03 L1338.4 1132.57 L1339.9 1135.12 L1341.4 1137.68 L1342.9 1140.26 L1344.4 1142.84 L1345.9 1145.44 L1347.4 1148.05 L1348.9 1150.67 L1350.4 1153.3 L1351.9 1155.93 L1353.4 1158.58 L1354.9 1161.23 L1356.4 1163.89 L1357.9 1166.55 L1359.4 1169.23 L1360.9 1171.9 L1362.4 1174.58 L1363.9 1177.27 L1365.4 1179.95 L1366.9 1182.64 L1368.4 1185.34 L1369.9 1188.03 L1371.4 1190.72 L1372.9 1193.41 L1374.4 1196.1 L1375.9 1198.79 L1377.4 1201.48 L1378.9 1204.16 L1380.4 1206.84 L1381.9 1209.51 L1383.4 1212.17 L1384.9 1214.84 L1386.4 1217.49 L1387.9 1220.13 L1389.4 1222.77 L1390.9 1225.4 L1392.4 1228.02 L1393.9 1230.63 L1395.4 1233.22 L1396.9 1235.81 L1398.4 1238.38 L1399.9 1240.94 L1401.4 1243.49 L1402.9 1246.03 L1404.4 1248.54 L1405.9 1251.05 L1407.4 1253.54 L1408.9 1256.01 L1410.4 1258.47 L1411.9 1260.92 L1413.4 1263.34 L1414.9 1265.75 L1416.4 1268.14 L1417.9 1270.52 L1419.4 1272.87 L1420.9 1275.21 L1422.4 1277.53 L1423.9 1279.84 L1425.4 1282.12 L1426.9 1284.38 L1428.4 1286.63 L1429.9 1288.86 L1431.4 1291.07 L1432.9 1293.26 L1434.4 1295.43 L1435.9 1297.58 L1437.4 1299.71 L1438.9 1301.82 L1440.4 1303.91 L1441.9 1305.99 L1443.4 1308.04 L1444.9 1310.08 L1446.4 1312.09 L1448.4 1314.75 L1450.4 1317.37 L1452.4 1319.96 L1454.4 1322.52 L1456.4 1325.05 L1458.4 1327.54 L1460.4 1329.99 L1462.4 1332.42 L1464.4 1334.82 L1466.4 1337.18 L1468.4 1339.51 L1470.4 1341.81 L1472.4 1344.09 L1474.4 1346.33 L1476.4 1348.54 L1478.4 1350.73 L1480.4 1352.89 L1482.4 1355.02 L1484.4 1357.12 L1486.4 1359.2 L1488.4 1361.25 L1490.4 1363.27 L1492.4 1365.26 L1494.4 1367.23 L1496.4 1369.18 L1498.4 1371.1 L1500.4 1372.99 L1502.4 1374.86 L1504.4 1376.71 L1506.4 1378.53 L1508.4 1380.33 L1510.4 1382.1 L1512.4 1383.85 L1514.4 1385.58 L1516.4 1387.29 L1518.4 1388.97 L1520.4 1390.63 L1522.4 1392.26 L1524.4 1393.88 L1526.4 1395.47 L1528.4 1397.04 L1530.4 1398.58 L1532.4 1400.11 L1534.4 1401.61 L1536.4 1403.09 L1538.4 1404.56 L1540.4 1405.99 L1542.4 1407.41 L1544.4 1408.81 L1546.4 1410.19 L1548.4 1411.54 L1550.4 1412.88 L1552.4 1414.19 L1554.4 1415.49 L1556.4 1416.76 L1558.4 1418.01 L1560.4 1419.25 L1562.4 1420.46 L1564.4 1421.65 L1566.4 1422.83 L1568.4 1423.98 L1570.4 1425.11 L1572.4 1426.23 L1574.4 1427.32 L1576.4 1428.4 L1578.4 1429.45 L1580.4 1430.49 L1582.4 1431.5 L1584.4 1432.5 L1586.4 1433.48 L1587 1433.77" stroke="#00ff00"/>
<path d="M918.4 1487.68 L920.4 1487.27 L922.4 1486.84 L924.4 1486.41 L926.4 1485.97 L928.4 1485.52 L930.4 1485.05 L932.4 1484.58 L934.4 1484.1 L936.4 1483.61 L938.4 1483.11 L940.4 1482.59 L942.4 1482.07 L944.4 1481.54 L946.4 1481 L948.4 1480.45 L950.4 1479.89 L952.4 1479.32 L954.4 1478.74 L956.4 1478.15 L958.4 1477.55 L960.4 1476.93 L962.4 1476.31 L964.4 1475.68 L966.4 1475.04 L968.4 1474.39 L970.4 1473.74 L972.4 1473.07 L974.4 1472.39 L976.4 1471.7 L978.4 1471 L980.4 1470.29 L982.4 1469.58 L984.4 1468.85 L986.4 1468.11 L988.4 1467.37 L990.4 1466.61 L992.4 1465.85 L994.4 1465.07 L996.4 1464.29 L998.4 1463.5 L1000.4 1462.7 L1002.4 1461.89 L1004.4 1461.07 L1006.4 1460.24 L1008.4 1459.41 L1010.4 1458.56 L1012.4 1457.71 L1014.4 1456.85 L1016.4 1455.98 L1018.4 1455.1 L1020.4 1454.21 L1022.4 1453.31 L1024.4 1452.41 L1026.4 1451.5 L1028.4 1450.57 L1030.4 1449.64 L1032.4 1448.7 L1034.4 1447.75 L1036.4 1446.79 L1038.4 1445.82 L1040.4 1444.84 L1042.4 1443.85 L1044.4 1442.85 L1046.4 1441.84 L1048.4 1440.82 L1050.4 1439.79 L1052.4 1438.74 L1054.4 1437.69 L1056.4 1436.62 L1058.4 1435.54 L1060.4 1434.45 L1062.4 1433.34 L1064.4 1432.23 L1066.4 1431.1 L1068.4 1429.95 L1070.4 1428.8 L1072.4 1427.63 L1074.4 1426.44 L1076.4 1425.24 L1078.4 1424.03 L1080.4 1422.8 L1082.4 1421.56 L1084.4 1420.3 L1086.4 1419.02 L1088.4 1417.73 L1090.4 1416.42 L1092.4 1415.09 L1094.4 1413.74 L1096.4 1412.38 L1098.4 1411 L1100.4 1409.59 L1102.4 1408.17 L1104.4 1406.73 L1106.4 1405.26 L1108.4 1403.78 L1110.4 1402.27 L1112.4 1400.74 L1114.4 1399.18 L1116.4 1397.6 L1118.4 1395.99 L1120.4 1394.36 L1122.4 1392.7 L1124.4 1391.01 L1126.4 1389.29 L1128.4 1387.54 L1130.4 1385.76 L1132.4 1383.95 L1134.4 1382.1 L1136.4 1380.22 L1138.4 1378.29 L1140.4 1376.33 L1142.4 1374.31 L1144.4 1372.25 L1146.4 1370.14 L1148.4 1367.96 L1150.4 1365.72 L1152.4 1363.41 L1154.4 1360.99 L1156.4 1358.47 L1158.4 1355.8 L1159.9 1353.69 L1161.4 1351.46 L1162.9 1349.08 L1164.4 1346.51 L1165.9 1343.71 L1166.9 1341.69 L1167.9 1339.52 L1168.9 1337.19 L1169.9 1334.67 L1170.9 1331.95 L1171.9 1329 L1172.9 1325.82 L1173.9 1322.39 L1174.9 1318.77 L1175.9 1315.01 L1176.9 1311.2 L1177.9 1307.41 L1178.9 1303.68 L1179.9 1300 L1180.9 1296.28 L1181.9 1292.45 L1182.9 1288.42 L1183.4 1286.29 L1183.9 1284.08 L1184.4 1281.77 L1184.9 1279.35 L1185.4 1276.82 L1185.9 1274.21 L1186.4 1271.55 L1186.9 1268.9 L1187.4 1266.32 L1187.9 1263.84 L1188.4 1261.5 L1188.9 1259.28 L1189.4 1257.2 L1190.4 1253.39 L1191.4 1249.95 L1192.4 1246.81 L1193.4 1243.91 L1194.4 1241.18 L1195.4 1238.58 L1196.4 1236.07 L1197.4 1233.64 L1198.4 1231.26 L1199.4 1228.92 L1200.4 1226.63 L1201.4 1224.35 L1202.4 1222.1 L1203.4 1219.85 L1204.4 1217.61 L1205.4 1215.38 L1206.4 1213.13 L1207.4 1210.89 L1208.4 1208.63 L1209.4 1206.37 L1210.4 1204.1 L1211.4 1201.82 L1212.4 1199.52 L1213.4 1197.2 L1214.4 1194.87 L1215.4 1192.52 L1216.4 1190.15 L1217.4 1187.75 L1218.4 1185.32 L1219.4 1182.85 L1220.4 1180.35 L1221.4 1177.81 L1222.4 1175.22 L1223.4 1172.59 L1224.4 1169.9 L1225.4 1167.18 L1226.4 1164.42 L1227.4 1161.63 L1228.4 1158.81 L1229.4 1155.99 L1230.4 1153.16 L1231.4 1150.34 L1232.4 1147.53 L1233.4 1144.76 L1234.4 1142.02 L1235.4 1139.33 L1236.4 1136.69 L1237.4 1134.1 L1238.4 1131.57 L1239.4 1129.11 L1240.4 1126.7 L1241.4 1124.35 L1242.4 1122.07 L1243.4 1119.84 L1244.4 1117.68 L1245.4 1115.56 L1246.4 1113.51 L1247.4 1111.5 L1248.9 1108.59 L1250.4 1105.8 L1251.9 1103.13 L1253.4 1100.59 L1254.9 1098.18 L1256.4 1095.92 L1257.9 1093.8 L1259.9 1091.19 L1261.9 1088.83 L1263.9 1086.72 L1265.9 1084.86 L1267.9 1083.25 L1269.9 1081.88 L1271.9 1080.74 L1273.9 1079.83 L1275.9 1079.14 L1277.9 1078.67 L1279.9 1078.4 L1281.9 1078.34 L1283.9 1078.46 L1285.9 1078.76 L1287.9 1079.23 L1289.9 1079.86 L1291.9 1080.66 L1293.9 1081.61 L1295.9 1082.72 L1297.9 1083.98 L1299.9 1085.39 L1301.9 1086.95 L1303.9 1088.66 L1305.9 1090.51 L1307.9 1092.5 L1309.9 1094.63 L1311.9 1096.89 L1313.9 1099.28 L1315.9 1101.8 L1317.9 1104.43 L1319.4 1106.48 L1320.9 1108.59 L1322.4 1110.76 L1323.9 1112.97 L1325.4 1115.23 L1326.9 1117.53 L1328.4 1119.87 L1329.9 1122.25 L1331.4 1124.67 L1332.9 1127.12 L1334.4 1129.61 L1335.9 1132.12 L1337.4 1134.66 L1338.9 1137.22 L1340.4 1139.8 L1341.9 1142.39 L1343.4 1144.99 L1344.9 1147.6 L1346.4 1150.21 L1347.9 1152.84 L1349.4 1155.47 L1350.9 1158.11 L1352.4 1160.76 L1353.9 1163.41 L1355.4 1166.07 L1356.9 1168.73 L1358.4 1171.39 L1359.9 1174.06 L1361.4 1176.73 L1362.9 1179.41 L1364.4 1182.08 L1365.9 1184.76 L1367.4 1187.44 L1368.9 1190.11 L1370.4 1192.79 L1371.9 1195.46 L1373.4 1198.13 L1374.9 1200.8 L1376.4 1203.46 L1377.9 1206.12 L1379.4 1208.78 L1380.9 1211.43 L1382.4 1214.07 L1383.9 1216.7 L1385.4 1219.33 L1386.9 1221.95 L1388.4 1224.56 L1389.9 1227.16 L1391.4 1229.75 L1392.9 1232.33 L1394.4 1234.9 L1395.9 1237.46 L1397.4 1240 L1398.9 1242.54 L1400.4 1245.06 L1401.9 1247.56 L1403.4 1250.06 L1404.9 1252.53 L1406.4 1255 L1407.9 1257.45 L1409.4 1259.88 L1410.9 1262.3 L1412.4 1264.7 L1413.9 1267.09 L1415.4 1269.45 L1416.9 1271.81 L1418.4 1274.14 L1419.9 1276.46 L1421.4 1278.76 L1422.9 1281.04 L1424.4 1283.31 L1425.9 1285.56 L1427.4 1287.79 L1428.9 1290 L1430.4 1292.19 L1431.9 1294.36 L1433.4 1296.52 L1434.9 1298.66 L1436.4 1300.78 L1437.9 1302.88 L1439.4 1304.96 L1440.9 1307.02 L1442.4 1309.07 L1443.9 1311.1 L1445.4 1313.1 L1447.4 1315.75 L1449.4 1318.37 L1451.4 1320.95 L1453.4 1323.5 L1455.4 1326.02 L1457.4 1328.51 L1459.4 1330.96 L1461.4 1333.39 L1463.4 1335.78 L1465.4 1338.14 L1467.4 1340.47 L1469.4 1342.77 L1471.4 1345.05 L1473.4 1347.29 L1475.4 1349.5 L1477.4 1351.69 L1479.4 1353.84 L1481.4 1355.97 L1483.4 1358.07 L1485.4 1360.14 L1487.4 1362.19 L1489.4 1364.21 L1491.4 1366.2 L1493.4 1368.17 L1495.4 1370.11 L1497.4 1372.03 L1499.4 1373.92 L1501.4 1375.79 L1503.4 1377.63 L1505.4 1379.45 L1507.4 1381.24 L1509.4 1383.01 L1511.4 1384.76 L1513.4 1386.48 L1515.4 1388.18 L1517.4 1389.86 L1519.4 1391.51 L1521.4 1393.14 L1523.4 1394.75 L1525.4 1396.34 L1527.4 1397.9 L1529.4 1399.45 L1531.4 1400.97 L1533.4 1402.47 L1535.4 1403.94 L1537.4 1405.4 L1539.4 1406.84 L1541.4 1408.25 L1543.4 1409.64 L1545.4 1411.01 L1547.4 1412.37 L1549.4 1413.7 L1551.4 1415.01 L1553.4 1416.3 L1555.4 1417.57 L1557.4 1418.82 L1559.4 1420.05 L1561.4 1421.25 L1563.4 1422.44 L1565.4 1423.61 L1567.4 1424.76 L1569.4 1425.89 L1571.4 1427 L1573.4 1428.1 L1575.4 1429.17 L1577.4 1430.22 L1579.4 1431.25 L1581.4 1432.27 L1583.4 1433.26 L1585.4 1434.24 L1587 1435.01" stroke="#0000ff"/>
<path d="M918.4 1487.59 L920.4 1487.2 L922.4 1486.79 L924.4 1486.37 L926.4 1485.94 L928.4 1485.5 L930.4 1485.05 L932.4 1484.59 L934.4 1484.12 L936.4 1483.63 L938.4 1483.14 L940.4 1482.64 L942.4 1482.12 L944.4 1481.59 L946.4 1481.06 L948.4 1480.51 L950.4 1479.95 L952.4 1479.38 L954.4 1478.81 L956.4 1478.22 L958.4 1477.61 L960.4 1477 L962.4 1476.38 L964.4 1475.75 L966.4 1475.11 L968.4 1474.45 L970.4 1473.79 L972.4 1473.12 L974.4 1472.43 L976.4 1471.74 L978.4 1471.04 L980.4 1470.32 L982.4 1469.6 L984.4 1468.87 L986.4 1468.12 L988.4 1467.37 L990.4 1466.61 L992.4 1465.84 L994.4 1465.06 L996.4 1464.27 L998.4 1463.47 L1000.4 1462.66 L1002.4 1461.85 L1004.4 1461.02 L1006.4 1460.19 L1008.4 1459.35 L1010.4 1458.5 L1012.4 1457.64 L1014.4 1456.77 L1016.4 1455.9 L1018.4 1455.02 L1020.4 1454.13 L1022.4 1453.23 L1024.4 1452.32 L1026.4 1451.41 L1028.4 1450.49 L1030.4 1449.56 L1032.4 1448.62 L1034.4 1447.67 L1036.4 1446.72 L1038.4 1445.75 L1040.4 1444.78 L1042.4 1443.79 L1044.4 1442.8 L1046.4 1441.79 L1048.4 1440.77 L1050.4 1439.75 L1052.4 1438.71 L1054.4 1437.66 L1056.4 1436.6 L1058.4 1435.53 L1060.4 1434.45 L1062.4 1433.35 L1064.4 1432.24 L1066.4 1431.12 L1068.4 1429.98 L1070.4 1428.83 L1072.4 1427.67 L1074.4 1426.5 L1076.4 1425.3 L1078.4 1424.1 L1080.4 1422.88 L1082.4 1421.64 L1084.4 1420.38 L1086.4 1419.11 L1088.4 1417.83 L1090.4 1416.52 L1092.4 1415.2 L1094.4 1413.85 L1096.4 1412.49 L1098.4 1411.11 L1100.4 1409.71 L1102.4 1408.28 L1104.4 1406.84 L1106.4 1405.37 L1108.4 1403.88 L1110.4 1402.36 L1112.4 1400.82 L1114.4 1399.25 L1116.4 1397.66 L1118.4 1396.04 L1120.4 1394.39 L1122.4 1392.71 L1124.4 1390.99 L1126.4 1389.25 L1128.4 1387.47 L1130.4 1385.65 L1132.4 1383.8 L1134.4 1381.91 L1136.4 1379.98 L1138.4 1378 L1140.4 1375.98 L1142.4 1373.9 L1144.4 1371.77 L1146.4 1369.59 L1148.4 1367.34 L1150.4 1365.02 L1152.4 1362.62 L1154.4 1360.11 L1156.4 1357.47 L1157.9 1355.39 L1159.4 1353.2 L1160.9 1350.87 L1162.4 1348.38 L1163.9 1345.67 L1165.4 1342.69 L1166.4 1340.51 L1167.4 1338.16 L1168.4 1335.62 L1169.4 1332.85 L1170.4 1329.83 L1171.4 1326.53 L1172.4 1322.93 L1173.4 1319.02 L1173.9 1316.97 L1174.4 1314.85 L1174.9 1312.68 L1175.4 1310.48 L1175.9 1308.25 L1176.4 1306.03 L1176.9 1303.82 L1177.4 1301.63 L1177.9 1299.49 L1178.4 1297.39 L1178.9 1295.34 L1179.9 1291.39 L1180.9 1287.56 L1181.9 1283.78 L1182.9 1280 L1183.9 1276.15 L1184.9 1272.18 L1185.4 1270.13 L1185.9 1268.06 L1186.4 1265.98 L1186.9 1263.91 L1187.4 1261.89 L1188.4 1258.04 L1189.4 1254.49 L1190.4 1251.21 L1191.4 1248.14 L1192.4 1245.24 L1193.4 1242.48 L1194.4 1239.83 L1195.4 1237.26 L1196.4 1234.76 L1197.4 1232.31 L1198.4 1229.89 L1199.4 1227.52 L1200.4 1225.17 L1201.4 1222.84 L1202.4 1220.53 L1203.4 1218.23 L1204.4 1215.94 L1205.4 1213.66 L1206.4 1211.38 L1207.4 1209.1 L1208.4 1206.82 L1209.4 1204.54 L1210.4 1202.26 L1211.4 1199.96 L1212.4 1197.66 L1213.4 1195.35 L1214.4 1193.03 L1215.4 1190.7 L1216.4 1188.35 L1217.4 1185.98 L1218.4 1183.59 L1219.4 1181.17 L1220.4 1178.73 L1221.4 1176.26 L1222.4 1173.75 L1223.4 1171.21 L1224.4 1168.65 L1225.4 1166.06 L1226.4 1163.45 L1227.4 1160.82 L1228.4 1158.19 L1229.4 1155.56 L1230.4 1152.93 L1231.4 1150.32 L1232.4 1147.72 L1233.4 1145.16 L1234.4 1142.63 L1235.4 1140.13 L1236.4 1137.68 L1237.4 1135.27 L1238.4 1132.91 L1239.4 1130.6 L1240.4 1128.34 L1241.4 1126.13 L1242.4 1123.97 L1243.4 1121.86 L1244.4 1119.79 L1245.4 1117.78 L1246.9 1114.85 L1248.4 1112.01 L1249.9 1109.28 L1251.4 1106.65 L1252.9 1104.13 L1254.4 1101.73 L1255.9 1099.44 L1257.4 1097.28 L1258.9 1095.25 L1260.9 1092.75 L1262.9 1090.49 L1264.9 1088.46 L1266.9 1086.68 L1268.9 1085.15 L1270.9 1083.86 L1272.9 1082.81 L1274.9 1082 L1276.9 1081.42 L1278.9 1081.08 L1280.9 1080.97 L1282.9 1081.08 L1284.9 1081.38 L1286.9 1081.87 L1288.9 1082.52 L1290.9 1083.35 L1292.9 1084.33 L1294.9 1085.46 L1296.9 1086.73 L1298.9 1088.14 L1300.9 1089.68 L1302.9 1091.36 L1304.9 1093.16 L1306.9 1095.08 L1308.9 1097.13 L1310.9 1099.29 L1312.9 1101.57 L1314.9 1103.95 L1316.9 1106.45 L1318.9 1109.05 L1320.4 1111.07 L1321.9 1113.16 L1323.4 1115.29 L1324.9 1117.48 L1326.4 1119.73 L1327.9 1122.02 L1329.4 1124.36 L1330.9 1126.75 L1332.4 1129.18 L1333.9 1131.66 L1335.4 1134.17 L1336.9 1136.71 L1338.4 1139.28 L1339.9 1141.87 L1341.4 1144.47 L1342.9 1147.09 L1344.4 1149.7 L1345.9 1152.33 L1347.4 1154.96 L1348.9 1157.6 L1350.4 1160.25 L1351.9 1162.9 L1353.4 1165.55 L1354.9 1168.21 L1356.4 1170.87 L1357.9 1173.53 L1359.4 1176.2 L1360.9 1178.86 L1362.4 1181.53 L1363.9 1184.2 L1365.4 1186.87 L1366.9 1189.54 L1368.4 1192.2 L1369.9 1194.86 L1371.4 1197.52 L1372.9 1200.18 L1374.4 1202.83 L1375.9 1205.48 L1377.4 1208.12 L1378.9 1210.76 L1380.4 1213.39 L1381.9 1216.01 L1383.4 1218.62 L1384.9 1221.23 L1386.4 1223.83 L1387.9 1226.41 L1389.4 1228.99 L1390.9 1231.56 L1392.4 1234.12 L1393.9 1236.66 L1395.4 1239.2 L1396.9 1241.72 L1398.4 1244.23 L1399.9 1246.73 L1401.4 1249.21 L1402.9 1251.68 L1404.4 1254.14 L1405.9 1256.58 L1407.4 1259 L1408.9 1261.41 L1410.4 1263.81 L1411.9 1266.19 L1413.4 1268.55 L1414.9 1270.9 L1416.4 1273.23 L1417.9 1275.55 L1419.4 1277.85 L1420.9 1280.13 L1422.4 1282.39 L1423.9 1284.64 L1425.4 1286.87 L1426.9 1289.08 L1428.4 1291.28 L1429.9 1293.46 L1431.4 1295.62 L1432.9 1297.76 L1434.4 1299.88 L1435.9 1301.99 L1437.4 1304.08 L1438.9 1306.15 L1440.4 1308.2 L1441.9 1310.23 L1443.4 1312.25 L1445.4 1314.91 L1447.4 1317.54 L1449.4 1320.13 L1451.4 1322.7 L1453.4 1325.23 L1455.4 1327.74 L1457.4 1330.21 L1459.4 1332.65 L1461.4 1335.06 L1463.4 1337.43 L1465.4 1339.78 L1467.4 1342.1 L1469.4 1344.39 L1471.4 1346.65 L1473.4 1348.88 L1475.4 1351.08 L1477.4 1353.25 L1479.4 1355.4 L1481.4 1357.51 L1483.4 1359.6 L1485.4 1361.66 L1487.4 1363.7 L1489.4 1365.71 L1491.4 1367.69 L1493.4 1369.64 L1495.4 1371.57 L1497.4 1373.48 L1499.4 1375.36 L1501.4 1377.21 L1503.4 1379.04 L1505.4 1380.85 L1507.4 1382.63 L1509.4 1384.39 L1511.4 1386.12 L1513.4 1387.83 L1515.4 1389.52 L1517.4 1391.18 L1519.4 1392.83 L1521.4 1394.45 L1523.4 1396.04 L1525.4 1397.62 L1527.4 1399.17 L1529.4 1400.7 L1531.4 1402.21 L1533.4 1403.7 L1535.4 1405.16 L1537.4 1406.61 L1539.4 1408.03 L1541.4 1409.43 L1543.4 1410.81 L1545.4 1412.17 L1547.4 1413.51 L1549.4 1414.83 L1551.4 1416.13 L1553.4 1417.41 L1555.4 1418.67 L1557.4 1419.91 L1559.4 1421.13 L1561.4 1422.33 L1563.4 1423.5 L1565.4 1424.66 L1567.4 1425.8 L1569.4 1426.92 L1571.4 1428.03 L1573.4 1429.11 L1575.4 1430.17 L1577.4 1431.21 L1579.4 1432.24 L1581.4 1433.24 L1583.4 1434.23 L1585.4 1435.2 L1587 1435.96" stroke="#00ffff"/>
<path d="M918.4 1487.51 L920.4 1487.13 L922.4 1486.74 L924.4 1486.33 L926.4 1485.92 L928.4 1485.49 L930.4 1485.05 L932.4 1484.6 L934.4 1484.13 L936.4 1483.66 L938.4 1483.17 L940.4 1482.68 L942.4 1482.17 L944.4 1481.65 L946.4 1481.11 L948.4 1480.57 L950.4 1480.02 L952.4 1479.45 L954.4 1478.87 L956.4 1478.28 L958.4 1477.68 L960.4 1477.07 L962.4 1476.45 L964.4 1475.81 L966.4 1475.17 L968.4 1474.51 L970.4 1473.85 L972.4 1473.17 L974.4 1472.48 L976.4 1471.78 L978.4 1471.07 L980.4 1470.35 L982.4 1469.62 L984.4 1468.89 L986.4 1468.14 L988.4 1467.38 L990.4 1466.61 L992.4 1465.83 L994.4 1465.04 L996.4 1464.25 L998.4 1463.44 L1000.4 1462.63 L1002.4 1461.81 L1004.4 1460.97 L1006.4 1460.13 L1008.4 1459.29 L1010.4 1458.43 L1012.4 1457.57 L1014.4 1456.7 L1016.4 1455.82 L1018.4 1454.94 L1020.4 1454.05 L1022.4 1453.15 L1024.4 1452.24 L1026.4 1451.33 L1028.4 1450.41 L1030.4 1449.48 L1032.4 1448.54 L1034.4 1447.6 L1036.4 1446.65 L1038.4 1445.68 L1040.4 1444.71 L1042.4 1443.73 L1044.4 1442.74 L1046.4 1441.74 L1048.4 1440.73 L1050.4 1439.71 L1052.4 1438.68 L1054.4 1437.64 L1056.4 1436.58 L1058.4 1435.52 L1060.4 1434.44 L1062.4 1433.35 L1064.4 1432.25 L1066.4 1431.14 L1068.4 1430.01 L1070.4 1428.87 L1072.4 1427.72 L1074.4 1426.55 L1076.4 1425.36 L1078.4 1424.16 L1080.4 1422.95 L1082.4 1421.72 L1084.4 1420.47 L1086.4 1419.2 L1088.4 1417.92 L1090.4 1416.62 L1092.4 1415.3 L1094.4 1413.96 L1096.4 1412.6 L1098.4 1411.22 L1100.4 1409.82 L1102.4 1408.39 L1104.4 1406.94 L1106.4 1405.47 L1108.4 1403.97 L1110.4 1402.45 L1112.4 1400.9 L1114.4 1399.33 L1116.4 1397.72 L1118.4 1396.08 L1120.4 1394.41 L1122.4 1392.71 L1124.4 1390.98 L1126.4 1389.21 L1128.4 1387.4 L1130.4 1385.55 L1132.4 1383.66 L1134.4 1381.73 L1136.4 1379.75 L1138.4 1377.72 L1140.4 1375.64 L1142.4 1373.51 L1144.4 1371.32 L1146.4 1369.07 L1148.4 1366.75 L1150.4 1364.36 L1152.4 1361.87 L1154.4 1359.27 L1155.9 1357.23 L1157.4 1355.08 L1158.9 1352.83 L1160.4 1350.42 L1161.9 1347.84 L1163.4 1345.03 L1164.4 1342.99 L1165.4 1340.79 L1166.4 1338.4 L1167.4 1335.81 L1168.4 1332.98 L1169.4 1329.88 L1170.4 1326.47 L1171.4 1322.72 L1171.9 1320.71 L1172.4 1318.61 L1172.9 1316.42 L1173.4 1314.14 L1173.9 1311.78 L1174.4 1309.34 L1174.9 1306.86 L1175.4 1304.33 L1175.9 1301.79 L1176.4 1299.26 L1176.9 1296.75 L1177.4 1294.3 L1177.9 1291.9 L1178.4 1289.59 L1178.9 1287.37 L1179.4 1285.22 L1179.9 1283.16 L1180.9 1279.22 L1181.9 1275.5 L1182.9 1271.96 L1183.9 1268.57 L1184.9 1265.32 L1185.9 1262.18 L1186.9 1259.14 L1187.9 1256.18 L1188.9 1253.31 L1189.9 1250.5 L1190.9 1247.75 L1191.9 1245.06 L1192.9 1242.42 L1193.9 1239.83 L1194.9 1237.27 L1195.9 1234.75 L1196.9 1232.26 L1197.9 1229.81 L1198.9 1227.37 L1199.9 1224.97 L1200.9 1222.58 L1201.9 1220.21 L1202.9 1217.85 L1203.9 1215.51 L1204.9 1213.18 L1205.9 1210.86 L1206.9 1208.55 L1207.9 1206.25 L1208.9 1203.94 L1209.9 1201.64 L1210.9 1199.34 L1211.9 1197.04 L1212.9 1194.74 L1213.9 1192.43 L1214.9 1190.11 L1215.9 1187.79 L1216.9 1185.46 L1217.9 1183.11 L1218.9 1180.75 L1219.9 1178.37 L1220.9 1175.98 L1221.9 1173.56 L1222.9 1171.12 L1223.9 1168.68 L1224.9 1166.22 L1225.9 1163.75 L1226.9 1161.28 L1227.9 1158.82 L1228.9 1156.37 L1229.9 1153.93 L1230.9 1151.5 L1231.9 1149.1 L1232.9 1146.72 L1233.9 1144.37 L1234.9 1142.05 L1235.9 1139.76 L1236.9 1137.5 L1237.9 1135.29 L1238.9 1133.11 L1239.9 1130.96 L1240.9 1128.86 L1241.9 1126.8 L1242.9 1124.78 L1244.4 1121.82 L1245.9 1118.95 L1247.4 1116.18 L1248.9 1113.49 L1250.4 1110.88 L1251.9 1108.36 L1253.4 1105.93 L1254.9 1103.6 L1256.4 1101.37 L1257.9 1099.26 L1259.9 1096.63 L1261.9 1094.23 L1263.9 1092.05 L1265.9 1090.11 L1267.9 1088.41 L1269.9 1086.95 L1271.9 1085.75 L1273.9 1084.8 L1275.9 1084.11 L1277.9 1083.67 L1279.9 1083.48 L1281.9 1083.55 L1283.9 1083.83 L1285.9 1084.32 L1287.9 1084.99 L1289.9 1085.84 L1291.9 1086.84 L1293.9 1087.99 L1295.9 1089.28 L1297.9 1090.7 L1299.9 1092.24 L1301.9 1093.9 L1303.9 1095.67 L1305.9 1097.55 L1307.9 1099.53 L1309.9 1101.61 L1311.9 1103.79 L1313.9 1106.06 L1315.9 1108.43 L1317.9 1110.9 L1319.9 1113.47 L1321.9 1116.14 L1323.4 1118.22 L1324.9 1120.36 L1326.4 1122.56 L1327.9 1124.82 L1329.4 1127.14 L1330.9 1129.51 L1332.4 1131.94 L1333.9 1134.42 L1335.4 1136.93 L1336.9 1139.49 L1338.4 1142.07 L1339.9 1144.68 L1341.4 1147.3 L1342.9 1149.92 L1344.4 1152.55 L1345.9 1155.19 L1347.4 1157.83 L1348.9 1160.48 L1350.4 1163.13 L1351.9 1165.79 L1353.4 1168.44 L1354.9 1171.1 L1356.4 1173.76 L1357.9 1176.43 L1359.4 1179.09 L1360.9 1181.75 L1362.4 1184.42 L1363.9 1187.08 L1365.4 1189.74 L1366.9 1192.4 L1368.4 1195.05 L1369.9 1197.7 L1371.4 1200.35 L1372.9 1202.99 L1374.4 1205.62 L1375.9 1208.25 L1377.4 1210.88 L1378.9 1213.5 L1380.4 1216.1 L1381.9 1218.71 L1383.4 1221.3 L1384.9 1223.88 L1386.4 1226.46 L1387.9 1229.02 L1389.4 1231.58 L1390.9 1234.12 L1392.4 1236.65 L1393.9 1239.17 L1395.4 1241.68 L1396.9 1244.18 L1398.4 1246.66 L1399.9 1249.13 L1401.4 1251.59 L1402.9 1254.03 L1404.4 1256.46 L1405.9 1258.87 L1407.4 1261.27 L1408.9 1263.66 L1410.4 1266.02 L1411.9 1268.38 L1413.4 1270.72 L1414.9 1273.04 L1416.4 1275.35 L1417.9 1277.64 L1419.4 1279.91 L1420.9 1282.17 L1422.4 1284.41 L1423.9 1286.64 L1425.4 1288.84 L1426.9 1291.04 L1428.4 1293.21 L1429.9 1295.37 L1431.4 1297.5 L1432.9 1299.63 L1434.4 1301.73 L1435.9 1303.82 L1437.4 1305.89 L1438.9 1307.94 L1440.4 1309.98 L1441.9 1312 L1443.4 1314 L1445.4 1316.64 L1447.4 1319.25 L1449.4 1321.82 L1451.4 1324.37 L1453.4 1326.89 L1455.4 1329.37 L1457.4 1331.83 L1459.4 1334.26 L1461.4 1336.65 L1463.4 1339.02 L1465.4 1341.35 L1467.4 1343.66 L1469.4 1345.93 L1471.4 1348.18 L1473.4 1350.4 L1475.4 1352.59 L1477.4 1354.75 L1479.4 1356.88 L1481.4 1358.99 L1483.4 1361.07 L1485.4 1363.12 L1487.4 1365.14 L1489.4 1367.14 L1491.4 1369.11 L1493.4 1371.05 L1495.4 1372.97 L1497.4 1374.86 L1499.4 1376.73 L1501.4 1378.57 L1503.4 1380.39 L1505.4 1382.19 L1507.4 1383.96 L1509.4 1385.7 L1511.4 1387.42 L1513.4 1389.12 L1515.4 1390.8 L1517.4 1392.45 L1519.4 1394.08 L1521.4 1395.69 L1523.4 1397.28 L1525.4 1398.84 L1527.4 1400.38 L1529.4 1401.9 L1531.4 1403.4 L1533.4 1404.87 L1535.4 1406.33 L1537.4 1407.76 L1539.4 1409.17 L1541.4 1410.56 L1543.4 1411.93 L1545.4 1413.28 L1547.4 1414.61 L1549.4 1415.92 L1551.4 1417.21 L1553.4 1418.48 L1555.4 1419.73 L1557.4 1420.95 L1559.4 1422.16 L1561.4 1423.35 L1563.4 1424.52 L1565.4 1425.67 L1567.4 1426.8 L1569.4 1427.91 L1571.4 1429 L1573.4 1430.07 L1575.4 1431.13 L1577.4 1432.16 L1579.4 1433.18 L1581.4 1434.17 L1583.4 1435.15 L1585.4 1436.11 L1587 1436.86" stroke="#ff00ff"/>
</g>
<g fill="none" stroke-width="3.3" stroke-linejoin="round">
<path d="M524.3 2340.75 L526.3 2340.36 L528.3 2339.97 L530.3 2339.56 L532.3 2339.14 L534.3 2338.72 L536.3 2338.29 L538.3 2337.84 L540.3 2337.39 L542.3 2336.93 L544.3 2336.46 L546.3 2335.98 L548.3 2335.5 L550.3 2335 L552.3 2334.49 L554.3 2333.98 L556.3 2333.45 L558.3 2332.92 L560.3 2332.37 L562.3 2331.82 L564.3 2331.26 L566.3 2330.69 L568.3 2330.1 L570.3 2329.51 L572.3 2328.91 L574.3 2328.3 L576.3 2327.68 L578.3 2327.05 L580.3 2326.42 L582.3 2325.77 L584.3 2325.11 L586.3 2324.44 L588.3 2323.77 L590.3 2323.08 L592.3 2322.38 L594.3 2321.68 L596.3 2320.96 L598.3 2320.23 L600.3 2319.5 L602.3 2318.76 L604.3 2318 L606.3 2317.24 L608.3 2316.46 L610.3 2315.68 L612.3 2314.89 L614.3 2314.08 L616.3 2313.27 L618.3 2312.45 L620.3 2311.62 L622.3 2310.78 L624.3 2309.93 L626.3 2309.07 L628.3 2308.2 L630.3 2307.32 L632.3 2306.43 L634.3 2305.53 L636.3 2304.62 L638.3 2303.71 L640.3 2302.78 L642.3 2301.84 L644.3 2300.89 L646.3 2299.94 L648.3 2298.97 L650.3 2297.99 L652.3 2297 L654.3 2296.01 L656.3 2295 L658.3 2293.98 L660.3 2292.95 L662.3 2291.91 L664.3 2290.86 L666.3 2289.8 L668.3 2288.73 L670.3 2287.65 L672.3 2286.55 L674.3 2285.45 L676.3 2284.33 L678.3 2283.21 L680.3 2282.07 L682.3 2280.92 L684.3 2279.75 L686.3 2278.58 L688.3 2277.39 L690.3 2276.2 L692.3 2274.99 L694.3 2273.76 L696.3 2272.53 L698.3 2271.28 L700.3 2270.02 L702.3 2268.74 L704.3 2267.45 L706.3 2266.15 L708.3 2264.84 L710.3 2263.51 L712.3 2262.17 L714.3 2260.81 L716.3 2259.44 L718.3 2258.05 L720.3 2256.65 L722.3 2255.24 L724.3 2253.8 L726.3 2252.36 L728.3 2250.89 L730.3 2249.41 L732.3 2247.92 L734.3 2246.4 L736.3 2244.87 L738.3 2243.33 L740.3 2241.76 L742.3 2240.18 L744.3 2238.58 L746.3 2236.96 L748.3 2235.32 L750.3 2233.66 L752.3 2231.98 L754.3 2230.27 L756.3 2228.55 L758.3 2226.81 L760.3 2225.04 L762.3 2223.25 L764.3 2221.44 L766.3 2219.6 L768.3 2217.73 L770.3 2215.81 L772.3 2213.81 L774.3 2211.71 L776.3 2209.48 L778.3 2207.06 L780.3 2204.39 L781.8 2202.18 L783.3 2199.76 L784.8 2197.09 L786.3 2194.14 L787.3 2192 L788.3 2189.7 L789.3 2187.22 L790.3 2184.55 L791.3 2181.66 L792.3 2178.53 L793.3 2175.15 L794.3 2171.5 L795.3 2167.58 L795.8 2165.53 L796.3 2163.41 L796.8 2161.25 L797.3 2159.04 L797.8 2156.8 L798.3 2154.54 L798.8 2152.26 L799.3 2150 L799.8 2147.74 L800.3 2145.52 L800.8 2143.34 L801.3 2141.21 L801.8 2139.14 L802.3 2137.12 L803.3 2133.24 L804.3 2129.54 L805.3 2126 L806.3 2122.57 L807.3 2119.26 L808.3 2116.04 L809.3 2112.91 L810.3 2109.84 L811.3 2106.84 L812.3 2103.89 L813.3 2100.98 L814.3 2098.12 L815.3 2095.29 L816.3 2092.49 L817.3 2089.71 L818.3 2086.95 L819.3 2084.21 L820.3 2081.47 L821.3 2078.75 L822.3 2076.02 L823.3 2073.3 L824.3 2070.56 L825.3 2067.82 L826.3 2065.07 L827.3 2062.29 L828.3 2059.49 L829.3 2056.67 L830.3 2053.81 L831.3 2050.91 L832.3 2047.96 L833.3 2044.97 L834.3 2041.91 L835.3 2038.78 L836.3 2035.58 L837.3 2032.28 L838.3 2028.88 L839.3 2025.35 L840.3 2021.68 L841.3 2017.87 L842.3 2013.95 L843.3 2009.94 L843.8 2007.91 L844.3 2005.88 L844.8 2003.84 L845.3 2001.8 L845.8 1999.78 L846.3 1997.76 L847.3 1993.78 L848.3 1989.9 L849.3 1986.13 L850.3 1982.51 L851.3 1979.03 L852.3 1975.71 L853.3 1972.54 L854.3 1969.52 L855.3 1966.64 L856.3 1963.9 L857.3 1961.3 L858.3 1958.81 L859.3 1956.45 L860.3 1954.19 L861.3 1952.03 L862.3 1949.97 L863.8 1947.04 L865.3 1944.3 L866.8 1941.72 L868.3 1939.29 L869.8 1937 L871.3 1934.83 L872.8 1932.78 L874.8 1930.24 L876.8 1927.89 L878.8 1925.74 L880.8 1923.79 L882.8 1922.03 L884.8 1920.47 L886.8 1919.1 L888.8 1917.93 L890.8 1916.96 L892.8 1916.18 L894.8 1915.62 L896.8 1915.26 L898.8 1915.11 L900.8 1915.16 L902.8 1915.41 L904.8 1915.84 L906.8 1916.43 L908.8 1917.17 L910.8 1918.06 L912.8 1919.09 L914.8 1920.25 L916.8 1921.54 L918.8 1922.95 L920.8 1924.48 L922.8 1926.11 L924.8 1927.87 L926.8 1929.73 L928.8 1931.7 L930.8 1933.77 L932.8 1935.96 L934.8 1938.27 L936.8 1940.69 L938.8 1943.23 L940.8 1945.88 L942.3 1947.94 L943.8 1950.06 L945.3 1952.24 L946.8 1954.46 L948.3 1956.73 L949.8 1959.03 L951.3 1961.37 L952.8 1963.72 L954.3 1966.09 L955.8 1968.47 L957.3 1970.87 L958.8 1973.28 L960.3 1975.7 L961.8 1978.14 L963.3 1980.59 L964.8 1983.05 L966.3 1985.52 L967.8 1988.01 L969.3 1990.51 L970.8 1993.02 L972.3 1995.54 L973.8 1998.07 L975.3 2000.6 L976.8 2003.15 L978.3 2005.71 L979.8 2008.27 L981.3 2010.84 L982.8 2013.41 L984.3 2016 L985.8 2018.58 L987.3 2021.18 L988.8 2023.77 L990.3 2026.37 L991.8 2028.98 L993.3 2031.58 L994.8 2034.19 L996.3 2036.8 L997.8 2039.4 L999.3 2042.01 L1000.8 2044.62 L1002.3 2047.22 L1003.8 2049.83 L1005.3 2052.43 L1006.8 2055.02 L1008.3 2057.62 L1009.8 2060.2 L1011.3 2062.79 L1012.8 2065.36 L1014.3 2067.93 L1015.8 2070.49 L1017.3 2073.05 L1018.8 2075.59 L1020.3 2078.13 L1021.8 2080.66 L1023.3 2083.17 L1024.8 2085.68 L1026.3 2088.18 L1027.8 2090.66 L1029.3 2093.14 L1030.8 2095.6 L1032.3 2098.04 L1033.8 2100.48 L1035.3 2102.9 L1036.8 2105.31 L1038.3 2107.7 L1039.8 2110.08 L1041.3 2112.44 L1042.8 2114.79 L1044.3 2117.12 L1045.8 2119.44 L1047.3 2121.74 L1048.8 2124.02 L1050.3 2126.29 L1051.8 2128.54 L1053.3 2130.78 L1054.8 2133 L1056.3 2135.2 L1057.8 2137.38 L1059.3 2139.54 L1060.8 2141.69 L1062.3 2143.82 L1063.8 2145.93 L1065.3 2148.03 L1066.8 2150.1 L1068.3 2152.16 L1069.8 2154.2 L1071.3 2156.23 L1072.8 2158.23 L1074.8 2160.87 L1076.8 2163.49 L1078.8 2166.07 L1080.8 2168.62 L1082.8 2171.13 L1084.8 2173.62 L1086.8 2176.07 L1088.8 2178.49 L1090.8 2180.88 L1092.8 2183.24 L1094.8 2185.57 L1096.8 2187.86 L1098.8 2190.13 L1100.8 2192.37 L1102.8 2194.57 L1104.8 2196.75 L1106.8 2198.9 L1108.8 2201.01 L1110.8 2203.1 L1112.8 2205.16 L1114.8 2207.2 L1116.8 2209.21 L1118.8 2211.19 L1120.8 2213.14 L1122.8 2215.07 L1124.8 2216.98 L1126.8 2218.86 L1128.8 2220.71 L1130.8 2222.55 L1132.8 2224.36 L1134.8 2226.14 L1136.8 2227.91 L1138.8 2229.65 L1140.8 2231.37 L1142.8 2233.07 L1144.8 2234.74 L1146.8 2236.4 L1148.8 2238.03 L1150.8 2239.65 L1152.8 2241.24 L1154.8 2242.81 L1156.8 2244.36 L1158.8 2245.9 L1160.8 2247.41 L1162.8 2248.9 L1164.8 2250.38 L1166.8 2251.83 L1168.8 2253.27 L1170.8 2254.68 L1172.8 2256.08 L1174.8 2257.46 L1176.8 2258.82 L1178.8 2260.17 L1180.8 2261.49 L1182.8 2262.8 L1184.8 2264.09 L1186.8 2265.36 L1188.8 2266.61 L1190.8 2267.85 L1192.8 2269.07 L1194.8 2270.27 L1196.8 2271.45 L1198.8 2272.62 L1200.8 2273.77 L1202.8 2274.9 L1204.8 2276.01 L1206.8 2277.11 L1208.8 2278.19 L1210.8 2279.26 L1212.8 2280.3 L1214.8 2281.34 L1216.8 2282.35 L1218.8 2283.35 L1220.8 2284.33 L1221.3 2284.81" stroke="#000000"/>
<path d="M524.3 2340.61 L526.3 2340.25 L528.3 2339.89 L530.3 2339.51 L532.3 2339.12 L534.3 2338.72 L536.3 2338.31 L538.3 2337.89 L540.3 2337.45 L542.3 2337.01 L544.3 2336.56 L546.3 2336.09 L548.3 2335.61 L550.3 2335.13 L552.3 2334.63 L554.3 2334.12 L556.3 2333.59 L558.3 2333.06 L560.3 2332.52 L562.3 2331.96 L564.3 2331.4 L566.3 2330.82 L568.3 2330.24 L570.3 2329.64 L572.3 2329.03 L574.3 2328.41 L576.3 2327.78 L578.3 2327.14 L580.3 2326.49 L582.3 2325.82 L584.3 2325.15 L586.3 2324.47 L588.3 2323.77 L590.3 2323.07 L592.3 2322.36 L594.3 2321.63 L596.3 2320.9 L598.3 2320.16 L600.3 2319.41 L602.3 2318.64 L604.3 2317.87 L606.3 2317.09 L608.3 2316.3 L610.3 2315.51 L612.3 2314.7 L614.3 2313.88 L616.3 2313.06 L618.3 2312.23 L620.3 2311.39 L622.3 2310.54 L624.3 2309.68 L626.3 2308.82 L628.3 2307.95 L630.3 2307.07 L632.3 2306.19 L634.3 2305.3 L636.3 2304.4 L638.3 2303.49 L640.3 2302.57 L642.3 2301.65 L644.3 2300.72 L646.3 2299.78 L648.3 2298.83 L650.3 2297.87 L652.3 2296.91 L654.3 2295.93 L656.3 2294.95 L658.3 2293.96 L660.3 2292.95 L662.3 2291.94 L664.3 2290.92 L666.3 2289.89 L668.3 2288.84 L670.3 2287.79 L672.3 2286.73 L674.3 2285.65 L676.3 2284.57 L678.3 2283.47 L680.3 2282.36 L682.3 2281.24 L684.3 2280.1 L686.3 2278.96 L688.3 2277.8 L690.3 2276.62 L692.3 2275.44 L694.3 2274.24 L696.3 2273.02 L698.3 2271.79 L700.3 2270.55 L702.3 2269.29 L704.3 2268.02 L706.3 2266.72 L708.3 2265.42 L710.3 2264.09 L712.3 2262.75 L714.3 2261.39 L716.3 2260.01 L718.3 2258.61 L720.3 2257.19 L722.3 2255.76 L724.3 2254.3 L726.3 2252.82 L728.3 2251.31 L730.3 2249.79 L732.3 2248.24 L734.3 2246.66 L736.3 2245.06 L738.3 2243.43 L740.3 2241.78 L742.3 2240.09 L744.3 2238.38 L746.3 2236.63 L748.3 2234.86 L750.3 2233.05 L752.3 2231.2 L754.3 2229.32 L756.3 2227.4 L758.3 2225.43 L760.3 2223.43 L762.3 2221.38 L764.3 2219.28 L766.3 2217.13 L768.3 2214.94 L770.3 2212.68 L772.3 2210.34 L774.3 2207.91 L776.3 2205.36 L777.8 2203.35 L779.3 2201.23 L780.8 2198.99 L782.3 2196.59 L783.8 2194.02 L785.3 2191.26 L786.8 2188.29 L787.8 2186.18 L788.8 2183.96 L789.8 2181.62 L790.8 2179.15 L791.8 2176.53 L792.8 2173.77 L793.8 2170.84 L794.8 2167.73 L795.8 2164.44 L796.8 2160.94 L797.8 2157.24 L798.8 2153.33 L799.3 2151.3 L799.8 2149.22 L800.3 2147.09 L800.8 2144.91 L801.3 2142.69 L801.8 2140.43 L802.3 2138.14 L802.8 2135.82 L803.3 2133.48 L803.8 2131.12 L804.3 2128.76 L804.8 2126.4 L805.3 2124.04 L805.8 2121.71 L806.3 2119.39 L806.8 2117.11 L807.3 2114.85 L807.8 2112.64 L808.3 2110.48 L808.8 2108.36 L809.3 2106.29 L809.8 2104.27 L810.8 2100.4 L811.8 2096.7 L812.8 2093.16 L813.8 2089.75 L814.8 2086.46 L815.8 2083.28 L816.8 2080.19 L817.8 2077.18 L818.8 2074.25 L819.8 2071.38 L820.8 2068.58 L821.8 2065.83 L822.8 2063.13 L823.8 2060.47 L824.8 2057.86 L825.8 2055.28 L826.8 2052.73 L827.8 2050.22 L828.8 2047.73 L829.8 2045.27 L830.8 2042.83 L831.8 2040.41 L832.8 2038.01 L833.8 2035.63 L834.8 2033.26 L835.8 2030.9 L836.8 2028.55 L837.8 2026.21 L838.8 2023.88 L839.8 2021.56 L840.8 2019.23 L841.8 2016.91 L842.8 2014.59 L843.8 2012.27 L844.8 2009.95 L845.8 2007.62 L846.8 2005.29 L847.8 2002.95 L848.8 2000.6 L849.8 1998.25 L850.8 1995.88 L851.8 1993.5 L852.8 1991.1 L853.8 1988.69 L854.8 1986.27 L855.8 1983.82 L856.8 1981.35 L857.8 1978.86 L858.8 1976.34 L859.8 1973.79 L860.8 1971.22 L861.8 1968.61 L862.8 1965.97 L863.8 1963.29 L864.8 1960.58 L865.8 1957.85 L866.8 1955.14 L867.8 1952.51 L868.8 1949.99 L869.8 1947.59 L870.8 1945.34 L871.8 1943.24 L873.3 1940.39 L874.8 1937.89 L876.3 1935.7 L878.3 1933.24 L880.3 1931.22 L882.3 1929.6 L884.3 1928.32 L886.3 1927.32 L888.3 1926.58 L890.3 1926.05 L892.3 1925.69 L894.3 1925.48 L896.3 1925.39 L898.3 1925.42 L900.3 1925.55 L902.3 1925.77 L904.3 1926.09 L906.3 1926.49 L908.3 1926.98 L910.3 1927.56 L912.3 1928.22 L914.3 1928.96 L916.3 1929.8 L918.3 1930.74 L920.3 1931.78 L922.3 1932.95 L924.3 1934.23 L926.3 1935.65 L928.3 1937.22 L930.3 1938.93 L932.3 1940.8 L934.3 1942.84 L936.3 1945.04 L938.3 1947.42 L940.3 1949.96 L941.8 1951.98 L943.3 1954.08 L944.8 1956.26 L946.3 1958.51 L947.8 1960.81 L949.3 1963.16 L950.8 1965.52 L952.3 1967.91 L953.8 1970.3 L955.3 1972.71 L956.8 1975.13 L958.3 1977.56 L959.8 1980.01 L961.3 1982.47 L962.8 1984.93 L964.3 1987.41 L965.8 1989.91 L967.3 1992.41 L968.8 1994.92 L970.3 1997.43 L971.8 1999.96 L973.3 2002.5 L974.8 2005.04 L976.3 2007.59 L977.8 2010.15 L979.3 2012.71 L980.8 2015.28 L982.3 2017.85 L983.8 2020.43 L985.3 2023.01 L986.8 2025.6 L988.3 2028.18 L989.8 2030.77 L991.3 2033.36 L992.8 2035.95 L994.3 2038.54 L995.8 2041.13 L997.3 2043.72 L998.8 2046.31 L1000.3 2048.89 L1001.8 2051.47 L1003.3 2054.05 L1004.8 2056.62 L1006.3 2059.19 L1007.8 2061.75 L1009.3 2064.31 L1010.8 2066.86 L1012.3 2069.4 L1013.8 2071.94 L1015.3 2074.47 L1016.8 2076.99 L1018.3 2079.5 L1019.8 2082 L1021.3 2084.49 L1022.8 2086.97 L1024.3 2089.44 L1025.8 2091.89 L1027.3 2094.34 L1028.8 2096.77 L1030.3 2099.19 L1031.8 2101.6 L1033.3 2104 L1034.8 2106.38 L1036.3 2108.74 L1037.8 2111.1 L1039.3 2113.43 L1040.8 2115.76 L1042.3 2118.06 L1043.8 2120.36 L1045.3 2122.63 L1046.8 2124.89 L1048.3 2127.14 L1049.8 2129.37 L1051.3 2131.58 L1052.8 2133.78 L1054.3 2135.96 L1055.8 2138.12 L1057.3 2140.27 L1058.8 2142.4 L1060.3 2144.51 L1061.8 2146.6 L1063.3 2148.68 L1064.8 2150.74 L1066.3 2152.78 L1067.8 2154.81 L1069.3 2156.82 L1071.3 2159.47 L1073.3 2162.09 L1075.3 2164.68 L1077.3 2167.24 L1079.3 2169.76 L1081.3 2172.26 L1083.3 2174.73 L1085.3 2177.16 L1087.3 2179.57 L1089.3 2181.94 L1091.3 2184.29 L1093.3 2186.61 L1095.3 2188.89 L1097.3 2191.15 L1099.3 2193.38 L1101.3 2195.58 L1103.3 2197.76 L1105.3 2199.91 L1107.3 2202.03 L1109.3 2204.13 L1111.3 2206.19 L1113.3 2208.24 L1115.3 2210.26 L1117.3 2212.25 L1119.3 2214.22 L1121.3 2216.16 L1123.3 2218.08 L1125.3 2219.97 L1127.3 2221.84 L1129.3 2223.69 L1131.3 2225.52 L1133.3 2227.32 L1135.3 2229.09 L1137.3 2230.85 L1139.3 2232.58 L1141.3 2234.29 L1143.3 2235.98 L1145.3 2237.65 L1147.3 2239.29 L1149.3 2240.91 L1151.3 2242.52 L1153.3 2244.1 L1155.3 2245.66 L1157.3 2247.19 L1159.3 2248.71 L1161.3 2250.21 L1163.3 2251.69 L1165.3 2253.14 L1167.3 2254.58 L1169.3 2256 L1171.3 2257.4 L1173.3 2258.77 L1175.3 2260.13 L1177.3 2261.47 L1179.3 2262.79 L1181.3 2264.09 L1183.3 2265.37 L1185.3 2266.63 L1187.3 2267.88 L1189.3 2269.1 L1191.3 2270.31 L1193.3 2271.5 L1195.3 2272.67 L1197.3 2273.82 L1199.3 2274.95 L1201.3 2276.07 L1203.3 2277.17 L1205.3 2278.25 L1207.3 2279.31 L1209.3 2280.35 L1211.3 2281.38 L1213.3 2282.39 L1215.3 2283.38 L1217.3 2284.36 L1219.3 2285.31 L1221.3 2286.26" stroke="#ff0000"/>
<path d="M524.3 2340.76 L526.3 2340.37 L528.3 2339.97 L530.3 2339.56 L532.3 2339.14 L534.3 2338.72 L536.3 2338.28 L538.3 2337.84 L540.3 2337.39 L542.3 2336.93 L544.3 2336.46 L546.3 2335.98 L548.3 2335.5 L550.3 2335 L552.3 2334.49 L554.3 2333.98 L556.3 2333.46 L558.3 2332.92 L560.3 2332.38 L562.3 2331.83 L564.3 2331.27 L566.3 2330.69 L568.3 2330.11 L570.3 2329.52 L572.3 2328.92 L574.3 2328.31 L576.3 2327.69 L578.3 2327.06 L580.3 2326.42 L582.3 2325.78 L584.3 2325.12 L586.3 2324.45 L588.3 2323.77 L590.3 2323.08 L592.3 2322.38 L594.3 2321.68 L596.3 2320.96 L598.3 2320.23 L600.3 2319.5 L602.3 2318.75 L604.3 2317.99 L606.3 2317.23 L608.3 2316.45 L610.3 2315.67 L612.3 2314.87 L614.3 2314.07 L616.3 2313.25 L618.3 2312.43 L620.3 2311.6 L622.3 2310.76 L624.3 2309.9 L626.3 2309.04 L628.3 2308.17 L630.3 2307.29 L632.3 2306.4 L634.3 2305.5 L636.3 2304.59 L638.3 2303.68 L640.3 2302.75 L642.3 2301.81 L644.3 2300.86 L646.3 2299.91 L648.3 2298.94 L650.3 2297.96 L652.3 2296.97 L654.3 2295.98 L656.3 2294.97 L658.3 2293.95 L660.3 2292.92 L662.3 2291.88 L664.3 2290.83 L666.3 2289.77 L668.3 2288.7 L670.3 2287.62 L672.3 2286.53 L674.3 2285.43 L676.3 2284.32 L678.3 2283.2 L680.3 2282.06 L682.3 2280.92 L684.3 2279.76 L686.3 2278.59 L688.3 2277.41 L690.3 2276.22 L692.3 2275.02 L694.3 2273.8 L696.3 2272.58 L698.3 2271.34 L700.3 2270.09 L702.3 2268.83 L704.3 2267.55 L706.3 2266.26 L708.3 2264.96 L710.3 2263.64 L712.3 2262.3 L714.3 2260.95 L716.3 2259.58 L718.3 2258.19 L720.3 2256.79 L722.3 2255.36 L724.3 2253.92 L726.3 2252.45 L728.3 2250.96 L730.3 2249.44 L732.3 2247.9 L734.3 2246.34 L736.3 2244.74 L738.3 2243.12 L740.3 2241.47 L742.3 2239.78 L744.3 2238.06 L746.3 2236.3 L748.3 2234.51 L750.3 2232.67 L752.3 2230.8 L754.3 2228.87 L756.3 2226.89 L758.3 2224.86 L760.3 2222.78 L762.3 2220.62 L764.3 2218.4 L766.3 2216.1 L768.3 2213.71 L770.3 2211.23 L772.3 2208.63 L773.8 2206.59 L775.3 2204.46 L776.8 2202.23 L778.3 2199.88 L779.8 2197.4 L781.3 2194.77 L782.8 2191.95 L784.3 2188.95 L785.3 2186.83 L786.3 2184.61 L787.3 2182.29 L788.3 2179.86 L789.3 2177.31 L790.3 2174.64 L791.3 2171.85 L792.3 2168.92 L793.3 2165.85 L794.3 2162.64 L795.3 2159.28 L796.3 2155.78 L797.3 2152.12 L798.3 2148.31 L799.3 2144.35 L799.8 2142.32 L800.3 2140.26 L800.8 2138.17 L801.3 2136.06 L801.8 2133.92 L802.3 2131.76 L802.8 2129.59 L803.3 2127.41 L803.8 2125.22 L804.3 2123.04 L804.8 2120.86 L805.3 2118.7 L805.8 2116.56 L806.3 2114.44 L806.8 2112.35 L807.3 2110.3 L807.8 2108.28 L808.8 2104.36 L809.8 2100.62 L810.8 2097.05 L811.8 2093.64 L812.8 2090.35 L813.8 2087.18 L814.8 2084.11 L815.8 2081.13 L816.8 2078.23 L817.8 2075.4 L818.8 2072.63 L819.8 2069.92 L820.8 2067.26 L821.8 2064.64 L822.8 2062.06 L823.8 2059.52 L824.8 2057.02 L825.8 2054.54 L826.8 2052.09 L827.8 2049.66 L828.8 2047.25 L829.8 2044.86 L830.8 2042.48 L831.8 2040.12 L832.8 2037.77 L833.8 2035.42 L834.8 2033.08 L835.8 2030.75 L836.8 2028.41 L837.8 2026.08 L838.8 2023.74 L839.8 2021.4 L840.8 2019.05 L841.8 2016.69 L842.8 2014.32 L843.8 2011.93 L844.8 2009.53 L845.8 2007.11 L846.8 2004.66 L847.8 2002.19 L848.8 1999.69 L849.8 1997.17 L850.8 1994.64 L851.8 1992.09 L852.8 1989.54 L853.8 1987 L854.8 1984.46 L855.8 1981.94 L856.8 1979.43 L857.8 1976.93 L858.8 1974.45 L859.8 1971.98 L860.8 1969.51 L861.8 1967.06 L862.8 1964.61 L863.8 1962.16 L864.8 1959.7 L865.8 1957.26 L866.8 1954.87 L867.8 1952.55 L868.8 1950.33 L869.8 1948.22 L871.3 1945.31 L872.8 1942.69 L874.3 1940.37 L875.8 1938.33 L877.8 1935.99 L879.8 1934.04 L881.8 1932.45 L883.8 1931.15 L885.8 1930.11 L887.8 1929.31 L889.8 1928.71 L891.8 1928.28 L893.8 1928 L895.8 1927.86 L897.8 1927.84 L899.8 1927.93 L901.8 1928.14 L903.8 1928.45 L905.8 1928.86 L907.8 1929.38 L909.8 1929.98 L911.8 1930.68 L913.8 1931.48 L915.8 1932.38 L917.8 1933.38 L919.8 1934.48 L921.8 1935.7 L923.8 1937.03 L925.8 1938.5 L927.8 1940.09 L929.8 1941.82 L931.8 1943.69 L933.8 1945.71 L935.8 1947.88 L937.8 1950.2 L939.8 1952.68 L941.8 1955.32 L943.3 1957.38 L944.8 1959.52 L946.3 1961.73 L947.8 1963.99 L949.3 1966.3 L950.8 1968.63 L952.3 1970.99 L953.8 1973.37 L955.3 1975.78 L956.8 1978.2 L958.3 1980.63 L959.8 1983.08 L961.3 1985.55 L962.8 1988.02 L964.3 1990.5 L965.8 1993 L967.3 1995.5 L968.8 1998.01 L970.3 2000.53 L971.8 2003.05 L973.3 2005.59 L974.8 2008.13 L976.3 2010.67 L977.8 2013.23 L979.3 2015.78 L980.8 2018.34 L982.3 2020.91 L983.8 2023.48 L985.3 2026.05 L986.8 2028.62 L988.3 2031.19 L989.8 2033.77 L991.3 2036.35 L992.8 2038.92 L994.3 2041.5 L995.8 2044.07 L997.3 2046.64 L998.8 2049.21 L1000.3 2051.78 L1001.8 2054.34 L1003.3 2056.9 L1004.8 2059.46 L1006.3 2062.01 L1007.8 2064.55 L1009.3 2067.09 L1010.8 2069.62 L1012.3 2072.14 L1013.8 2074.65 L1015.3 2077.16 L1016.8 2079.66 L1018.3 2082.14 L1019.8 2084.62 L1021.3 2087.09 L1022.8 2089.55 L1024.3 2091.99 L1025.8 2094.43 L1027.3 2096.85 L1028.8 2099.26 L1030.3 2101.66 L1031.8 2104.05 L1033.3 2106.42 L1034.8 2108.78 L1036.3 2111.12 L1037.8 2113.45 L1039.3 2115.77 L1040.8 2118.07 L1042.3 2120.35 L1043.8 2122.62 L1045.3 2124.88 L1046.8 2127.12 L1048.3 2129.35 L1049.8 2131.55 L1051.3 2133.75 L1052.8 2135.92 L1054.3 2138.08 L1055.8 2140.23 L1057.3 2142.35 L1058.8 2144.46 L1060.3 2146.56 L1061.8 2148.63 L1063.3 2150.69 L1064.8 2152.74 L1066.3 2154.76 L1067.8 2156.77 L1069.8 2159.43 L1071.8 2162.05 L1073.8 2164.64 L1075.8 2167.2 L1077.8 2169.73 L1079.8 2172.24 L1081.8 2174.71 L1083.8 2177.15 L1085.8 2179.56 L1087.8 2181.94 L1089.8 2184.29 L1091.8 2186.62 L1093.8 2188.91 L1095.8 2191.18 L1097.8 2193.42 L1099.8 2195.63 L1101.8 2197.81 L1103.8 2199.97 L1105.8 2202.1 L1107.8 2204.2 L1109.8 2206.27 L1111.8 2208.32 L1113.8 2210.35 L1115.8 2212.35 L1117.8 2214.32 L1119.8 2216.27 L1121.8 2218.2 L1123.8 2220.1 L1125.8 2221.98 L1127.8 2223.83 L1129.8 2225.66 L1131.8 2227.47 L1133.8 2229.25 L1135.8 2231.01 L1137.8 2232.75 L1139.8 2234.47 L1141.8 2236.16 L1143.8 2237.83 L1145.8 2239.48 L1147.8 2241.11 L1149.8 2242.72 L1151.8 2244.31 L1153.8 2245.87 L1155.8 2247.42 L1157.8 2248.94 L1159.8 2250.44 L1161.8 2251.93 L1163.8 2253.39 L1165.8 2254.83 L1167.8 2256.25 L1169.8 2257.65 L1171.8 2259.04 L1173.8 2260.4 L1175.8 2261.74 L1177.8 2263.07 L1179.8 2264.37 L1181.8 2265.66 L1183.8 2266.92 L1185.8 2268.17 L1187.8 2269.4 L1189.8 2270.61 L1191.8 2271.8 L1193.8 2272.97 L1195.8 2274.13 L1197.8 2275.26 L1199.8 2276.38 L1201.8 2277.48 L1203.8 2278.56 L1205.8 2279.63 L1207.8 2280.67 L1209.8 2281.7 L1211.8 2282.71 L1213.8 2283.7 L1215.8 2284.68 L1217.8 2285.64 L1219.8 2286.58 L1221.3 2287.27" stroke="#00ff00"/>
<path d="M524.3 2340.94 L526.3 2340.5 L528.3 2340.07 L530.3 2339.62 L532.3 2339.17 L534.3 2338.72 L536.3 2338.25 L538.3 2337.79 L540.3 2337.31 L542.3 2336.83 L544.3 2336.35 L546.3 2335.86 L548.3 2335.36 L550.3 2334.85 L552.3 2334.34 L554.3 2333.82 L556.3 2333.29 L558.3 2332.75 L560.3 2332.21 L562.3 2331.66 L564.3 2331.1 L566.3 2330.54 L568.3 2329.97 L570.3 2329.38 L572.3 2328.79 L574.3 2328.2 L576.3 2327.59 L578.3 2326.97 L580.3 2326.35 L582.3 2325.72 L584.3 2325.07 L586.3 2324.42 L588.3 2323.76 L590.3 2323.09 L592.3 2322.42 L594.3 2321.73 L596.3 2321.03 L598.3 2320.32 L600.3 2319.6 L602.3 2318.88 L604.3 2318.14 L606.3 2317.39 L608.3 2316.63 L610.3 2315.86 L612.3 2315.08 L614.3 2314.29 L616.3 2313.49 L618.3 2312.68 L620.3 2311.85 L622.3 2311.02 L624.3 2310.17 L626.3 2309.31 L628.3 2308.44 L630.3 2307.55 L632.3 2306.66 L634.3 2305.75 L636.3 2304.83 L638.3 2303.9 L640.3 2302.96 L642.3 2302 L644.3 2301.03 L646.3 2300.06 L648.3 2299.07 L650.3 2298.06 L652.3 2297.05 L654.3 2296.02 L656.3 2294.99 L658.3 2293.94 L660.3 2292.88 L662.3 2291.81 L664.3 2290.73 L666.3 2289.64 L668.3 2288.54 L670.3 2287.42 L672.3 2286.3 L674.3 2285.17 L676.3 2284.02 L678.3 2282.87 L680.3 2281.71 L682.3 2280.53 L684.3 2279.35 L686.3 2278.15 L688.3 2276.95 L690.3 2275.74 L692.3 2274.52 L694.3 2273.29 L696.3 2272.05 L698.3 2270.8 L700.3 2269.54 L702.3 2268.27 L704.3 2266.99 L706.3 2265.71 L708.3 2264.41 L710.3 2263.09 L712.3 2261.77 L714.3 2260.42 L716.3 2259.07 L718.3 2257.69 L720.3 2256.3 L722.3 2254.89 L724.3 2253.46 L726.3 2252.01 L728.3 2250.53 L730.3 2249.03 L732.3 2247.5 L734.3 2245.95 L736.3 2244.36 L738.3 2242.74 L740.3 2241.09 L742.3 2239.4 L744.3 2237.68 L746.3 2235.91 L748.3 2234.09 L750.3 2232.23 L752.3 2230.31 L754.3 2228.33 L756.3 2226.29 L758.3 2224.18 L760.3 2221.99 L762.3 2219.72 L764.3 2217.34 L766.3 2214.86 L768.3 2212.25 L769.8 2210.19 L771.3 2208.05 L772.8 2205.81 L774.3 2203.46 L775.8 2200.98 L777.3 2198.37 L778.8 2195.62 L780.3 2192.69 L781.3 2190.64 L782.3 2188.5 L783.3 2186.27 L784.3 2183.95 L785.3 2181.52 L786.3 2178.98 L787.3 2176.34 L788.3 2173.59 L789.3 2170.72 L790.3 2167.73 L791.3 2164.63 L792.3 2161.41 L793.3 2158.08 L794.3 2154.64 L795.3 2151.09 L796.3 2147.45 L797.3 2143.71 L798.3 2139.9 L799.3 2136.01 L800.3 2132.07 L801.3 2128.1 L802.3 2124.1 L803.3 2120.12 L804.3 2116.17 L805.3 2112.29 L806.3 2108.5 L807.3 2104.83 L808.3 2101.29 L809.3 2097.88 L810.3 2094.62 L811.3 2091.49 L812.3 2088.46 L813.3 2085.53 L814.3 2082.69 L815.3 2079.92 L816.3 2077.21 L817.3 2074.56 L818.3 2071.97 L819.3 2069.42 L820.3 2066.91 L821.3 2064.44 L822.3 2062 L823.3 2059.58 L824.3 2057.2 L825.3 2054.83 L826.3 2052.48 L827.3 2050.15 L828.3 2047.83 L829.3 2045.51 L830.3 2043.21 L831.3 2040.91 L832.3 2038.61 L833.3 2036.32 L834.3 2034.02 L835.3 2031.71 L836.3 2029.4 L837.3 2027.08 L838.3 2024.74 L839.3 2022.39 L840.3 2020.02 L841.3 2017.63 L842.3 2015.21 L843.3 2012.76 L844.3 2010.28 L845.3 2007.77 L846.3 2005.21 L847.3 2002.6 L848.3 1999.95 L849.3 1997.25 L850.3 1994.51 L851.3 1991.77 L852.3 1989.03 L853.3 1986.31 L854.3 1983.63 L855.3 1980.98 L856.3 1978.39 L857.3 1975.86 L858.3 1973.39 L859.3 1970.98 L860.3 1968.62 L861.3 1966.32 L862.3 1964.07 L863.3 1961.87 L864.3 1959.71 L865.3 1957.6 L866.3 1955.54 L867.8 1952.59 L869.3 1949.85 L870.8 1947.34 L872.3 1945.07 L873.8 1943.03 L875.8 1940.64 L877.8 1938.6 L879.8 1936.87 L881.8 1935.41 L883.8 1934.19 L885.8 1933.19 L887.8 1932.39 L889.8 1931.77 L891.8 1931.3 L893.8 1930.99 L895.8 1930.81 L897.8 1930.76 L899.8 1930.84 L901.8 1931.06 L903.8 1931.39 L905.8 1931.84 L907.8 1932.4 L909.8 1933.08 L911.8 1933.86 L913.8 1934.74 L915.8 1935.73 L917.8 1936.83 L919.8 1938.04 L921.8 1939.36 L923.8 1940.8 L925.8 1942.35 L927.8 1944.02 L929.8 1945.81 L931.8 1947.74 L933.8 1949.79 L935.8 1951.97 L937.8 1954.28 L939.8 1956.73 L941.8 1959.32 L943.3 1961.34 L944.8 1963.43 L946.3 1965.59 L947.8 1967.8 L949.3 1970.06 L950.8 1972.36 L952.3 1974.7 L953.8 1977.06 L955.3 1979.46 L956.8 1981.87 L958.3 1984.31 L959.8 1986.77 L961.3 1989.24 L962.8 1991.72 L964.3 1994.21 L965.8 1996.71 L967.3 1999.21 L968.8 2001.72 L970.3 2004.24 L971.8 2006.76 L973.3 2009.29 L974.8 2011.83 L976.3 2014.37 L977.8 2016.92 L979.3 2019.47 L980.8 2022.02 L982.3 2024.57 L983.8 2027.13 L985.3 2029.69 L986.8 2032.25 L988.3 2034.81 L989.8 2037.37 L991.3 2039.93 L992.8 2042.49 L994.3 2045.05 L995.8 2047.6 L997.3 2050.15 L998.8 2052.7 L1000.3 2055.25 L1001.8 2057.79 L1003.3 2060.33 L1004.8 2062.86 L1006.3 2065.38 L1007.8 2067.9 L1009.3 2070.42 L1010.8 2072.92 L1012.3 2075.42 L1013.8 2077.91 L1015.3 2080.39 L1016.8 2082.86 L1018.3 2085.32 L1019.8 2087.77 L1021.3 2090.21 L1022.8 2092.64 L1024.3 2095.06 L1025.8 2097.47 L1027.3 2099.87 L1028.8 2102.25 L1030.3 2104.62 L1031.8 2106.98 L1033.3 2109.32 L1034.8 2111.65 L1036.3 2113.97 L1037.8 2116.28 L1039.3 2118.57 L1040.8 2120.84 L1042.3 2123.1 L1043.8 2125.35 L1045.3 2127.58 L1046.8 2129.79 L1048.3 2131.99 L1049.8 2134.18 L1051.3 2136.34 L1052.8 2138.5 L1054.3 2140.63 L1055.8 2142.75 L1057.3 2144.86 L1058.8 2146.95 L1060.3 2149.02 L1061.8 2151.07 L1063.3 2153.11 L1064.8 2155.13 L1066.3 2157.14 L1068.3 2159.79 L1070.3 2162.41 L1072.3 2165 L1074.3 2167.56 L1076.3 2170.09 L1078.3 2172.59 L1080.3 2175.06 L1082.3 2177.51 L1084.3 2179.92 L1086.3 2182.3 L1088.3 2184.66 L1090.3 2186.99 L1092.3 2189.29 L1094.3 2191.56 L1096.3 2193.8 L1098.3 2196.01 L1100.3 2198.2 L1102.3 2200.36 L1104.3 2202.5 L1106.3 2204.6 L1108.3 2206.68 L1110.3 2208.74 L1112.3 2210.77 L1114.3 2212.77 L1116.3 2214.75 L1118.3 2216.71 L1120.3 2218.64 L1122.3 2220.54 L1124.3 2222.42 L1126.3 2224.28 L1128.3 2226.11 L1130.3 2227.92 L1132.3 2229.71 L1134.3 2231.48 L1136.3 2233.22 L1138.3 2234.94 L1140.3 2236.64 L1142.3 2238.31 L1144.3 2239.97 L1146.3 2241.6 L1148.3 2243.21 L1150.3 2244.8 L1152.3 2246.37 L1154.3 2247.92 L1156.3 2249.45 L1158.3 2250.95 L1160.3 2252.44 L1162.3 2253.9 L1164.3 2255.35 L1166.3 2256.77 L1168.3 2258.18 L1170.3 2259.56 L1172.3 2260.93 L1174.3 2262.27 L1176.3 2263.6 L1178.3 2264.91 L1180.3 2266.19 L1182.3 2267.46 L1184.3 2268.71 L1186.3 2269.94 L1188.3 2271.15 L1190.3 2272.35 L1192.3 2273.52 L1194.3 2274.68 L1196.3 2275.81 L1198.3 2276.93 L1200.3 2278.03 L1202.3 2279.11 L1204.3 2280.18 L1206.3 2281.22 L1208.3 2282.25 L1210.3 2283.26 L1212.3 2284.25 L1214.3 2285.23 L1216.3 2286.18 L1218.3 2287.12 L1220.3 2288.04 L1221.3 2288.49" stroke="#0000ff"/>
<path d="M524.3 2341.07 L526.3 2340.61 L528.3 2340.14 L530.3 2339.67 L532.3 2339.19 L534.3 2338.71 L536.3 2338.23 L538.3 2337.75 L540.3 2337.26 L542.3 2336.76 L544.3 2336.26 L546.3 2335.76 L548.3 2335.25 L550.3 2334.73 L552.3 2334.22 L554.3 2333.69 L556.3 2333.16 L558.3 2332.63 L560.3 2332.08 L562.3 2331.54 L564.3 2330.98 L566.3 2330.42 L568.3 2329.85 L570.3 2329.28 L572.3 2328.7 L574.3 2328.11 L576.3 2327.51 L578.3 2326.91 L580.3 2326.29 L582.3 2325.67 L584.3 2325.04 L586.3 2324.41 L588.3 2323.76 L590.3 2323.1 L592.3 2322.44 L594.3 2321.77 L596.3 2321.08 L598.3 2320.39 L600.3 2319.69 L602.3 2318.97 L604.3 2318.25 L606.3 2317.51 L608.3 2316.77 L610.3 2316.01 L612.3 2315.24 L614.3 2314.46 L616.3 2313.67 L618.3 2312.86 L620.3 2312.04 L622.3 2311.21 L624.3 2310.37 L626.3 2309.51 L628.3 2308.64 L630.3 2307.76 L632.3 2306.86 L634.3 2305.94 L636.3 2305.01 L638.3 2304.07 L640.3 2303.12 L642.3 2302.15 L644.3 2301.17 L646.3 2300.17 L648.3 2299.16 L650.3 2298.14 L652.3 2297.11 L654.3 2296.06 L656.3 2295 L658.3 2293.93 L660.3 2292.85 L662.3 2291.76 L664.3 2290.65 L666.3 2289.54 L668.3 2288.41 L670.3 2287.27 L672.3 2286.12 L674.3 2284.96 L676.3 2283.8 L678.3 2282.62 L680.3 2281.43 L682.3 2280.24 L684.3 2279.03 L686.3 2277.82 L688.3 2276.6 L690.3 2275.37 L692.3 2274.13 L694.3 2272.89 L696.3 2271.64 L698.3 2270.38 L700.3 2269.12 L702.3 2267.84 L704.3 2266.57 L706.3 2265.28 L708.3 2263.98 L710.3 2262.67 L712.3 2261.35 L714.3 2260.02 L716.3 2258.67 L718.3 2257.31 L720.3 2255.93 L722.3 2254.53 L724.3 2253.11 L726.3 2251.67 L728.3 2250.2 L730.3 2248.71 L732.3 2247.19 L734.3 2245.65 L736.3 2244.07 L738.3 2242.46 L740.3 2240.81 L742.3 2239.12 L744.3 2237.38 L746.3 2235.6 L748.3 2233.77 L750.3 2231.88 L752.3 2229.94 L754.3 2227.92 L756.3 2225.83 L758.3 2223.66 L760.3 2221.39 L762.3 2219.02 L764.3 2216.53 L766.3 2213.91 L767.8 2211.84 L769.3 2209.66 L770.8 2207.38 L772.3 2204.99 L773.8 2202.46 L775.3 2199.8 L776.8 2196.98 L778.3 2194 L779.3 2191.92 L780.3 2189.74 L781.3 2187.48 L782.3 2185.12 L783.3 2182.67 L784.3 2180.11 L785.3 2177.44 L786.3 2174.67 L787.3 2171.78 L788.3 2168.78 L789.3 2165.66 L790.3 2162.43 L791.3 2159.1 L792.3 2155.66 L793.3 2152.13 L794.3 2148.51 L795.3 2144.81 L796.3 2141.06 L797.3 2137.27 L798.3 2133.45 L799.3 2129.62 L800.3 2125.8 L801.3 2121.99 L802.3 2118.23 L803.3 2114.53 L804.3 2110.9 L805.3 2107.37 L806.3 2103.94 L807.3 2100.63 L808.3 2097.44 L809.3 2094.37 L810.3 2091.41 L811.3 2088.54 L812.3 2085.76 L813.3 2083.06 L814.3 2080.43 L815.3 2077.85 L816.3 2075.32 L817.3 2072.84 L818.3 2070.4 L819.3 2068 L820.3 2065.63 L821.3 2063.28 L822.3 2060.96 L823.3 2058.66 L824.3 2056.37 L825.3 2054.1 L826.3 2051.84 L827.3 2049.59 L828.3 2047.35 L829.3 2045.1 L830.3 2042.86 L831.3 2040.61 L832.3 2038.36 L833.3 2036.11 L834.3 2033.84 L835.3 2031.56 L836.3 2029.26 L837.3 2026.95 L838.3 2024.61 L839.3 2022.25 L840.3 2019.86 L841.3 2017.44 L842.3 2014.98 L843.3 2012.48 L844.3 2009.94 L845.3 2007.34 L846.3 2004.69 L847.3 2001.97 L848.3 1999.18 L849.3 1996.33 L850.3 1993.45 L851.3 1990.55 L852.3 1987.66 L853.3 1984.81 L854.3 1982.01 L855.3 1979.29 L856.3 1976.64 L857.3 1974.09 L858.3 1971.63 L859.3 1969.27 L860.3 1967 L861.3 1964.82 L862.3 1962.73 L863.3 1960.72 L864.8 1957.84 L866.3 1955.14 L867.8 1952.62 L869.3 1950.3 L870.8 1948.18 L872.8 1945.65 L874.8 1943.43 L876.8 1941.48 L878.8 1939.8 L880.8 1938.33 L882.8 1937.08 L884.8 1936.02 L886.8 1935.13 L888.8 1934.41 L890.8 1933.84 L892.8 1933.43 L894.8 1933.15 L896.8 1933.02 L898.8 1933.02 L900.8 1933.17 L902.8 1933.45 L904.8 1933.87 L906.8 1934.41 L908.8 1935.07 L910.8 1935.85 L912.8 1936.75 L914.8 1937.76 L916.8 1938.88 L918.8 1940.11 L920.8 1941.46 L922.8 1942.91 L924.8 1944.48 L926.8 1946.15 L928.8 1947.94 L930.8 1949.84 L932.8 1951.86 L934.8 1953.99 L936.8 1956.24 L938.8 1958.61 L940.8 1961.1 L942.8 1963.71 L944.3 1965.74 L945.8 1967.84 L947.3 1969.99 L948.8 1972.2 L950.3 1974.46 L951.8 1976.76 L953.3 1979.1 L954.8 1981.48 L956.3 1983.89 L957.8 1986.32 L959.3 1988.78 L960.8 1991.25 L962.3 1993.73 L963.8 1996.22 L965.3 1998.72 L966.8 2001.22 L968.3 2003.73 L969.8 2006.25 L971.3 2008.77 L972.8 2011.29 L974.3 2013.82 L975.8 2016.36 L977.3 2018.9 L978.8 2021.44 L980.3 2023.99 L981.8 2026.53 L983.3 2029.08 L984.8 2031.63 L986.3 2034.18 L987.8 2036.73 L989.3 2039.28 L990.8 2041.83 L992.3 2044.37 L993.8 2046.92 L995.3 2049.46 L996.8 2052 L998.3 2054.54 L999.8 2057.07 L1001.3 2059.59 L1002.8 2062.11 L1004.3 2064.63 L1005.8 2067.14 L1007.3 2069.64 L1008.8 2072.14 L1010.3 2074.63 L1011.8 2077.11 L1013.3 2079.58 L1014.8 2082.04 L1016.3 2084.5 L1017.8 2086.94 L1019.3 2089.38 L1020.8 2091.8 L1022.3 2094.21 L1023.8 2096.62 L1025.3 2099.01 L1026.8 2101.39 L1028.3 2103.75 L1029.8 2106.11 L1031.3 2108.45 L1032.8 2110.78 L1034.3 2113.09 L1035.8 2115.39 L1037.3 2117.68 L1038.8 2119.96 L1040.3 2122.22 L1041.8 2124.46 L1043.3 2126.69 L1044.8 2128.91 L1046.3 2131.11 L1047.8 2133.29 L1049.3 2135.46 L1050.8 2137.62 L1052.3 2139.76 L1053.8 2141.88 L1055.3 2143.99 L1056.8 2146.08 L1058.3 2148.16 L1059.8 2150.22 L1061.3 2152.26 L1062.8 2154.29 L1064.3 2156.3 L1066.3 2158.96 L1068.3 2161.59 L1070.3 2164.19 L1072.3 2166.76 L1074.3 2169.3 L1076.3 2171.82 L1078.3 2174.3 L1080.3 2176.76 L1082.3 2179.18 L1084.3 2181.58 L1086.3 2183.95 L1088.3 2186.29 L1090.3 2188.6 L1092.3 2190.89 L1094.3 2193.15 L1096.3 2195.38 L1098.3 2197.58 L1100.3 2199.76 L1102.3 2201.9 L1104.3 2204.03 L1106.3 2206.12 L1108.3 2208.19 L1110.3 2210.23 L1112.3 2212.25 L1114.3 2214.25 L1116.3 2216.21 L1118.3 2218.16 L1120.3 2220.08 L1122.3 2221.97 L1124.3 2223.84 L1126.3 2225.69 L1128.3 2227.51 L1130.3 2229.31 L1132.3 2231.09 L1134.3 2232.85 L1136.3 2234.58 L1138.3 2236.29 L1140.3 2237.98 L1142.3 2239.64 L1144.3 2241.29 L1146.3 2242.91 L1148.3 2244.51 L1150.3 2246.09 L1152.3 2247.65 L1154.3 2249.19 L1156.3 2250.71 L1158.3 2252.2 L1160.3 2253.68 L1162.3 2255.14 L1164.3 2256.57 L1166.3 2257.99 L1168.3 2259.38 L1170.3 2260.76 L1172.3 2262.12 L1174.3 2263.45 L1176.3 2264.77 L1178.3 2266.07 L1180.3 2267.35 L1182.3 2268.6 L1184.3 2269.84 L1186.3 2271.07 L1188.3 2272.27 L1190.3 2273.45 L1192.3 2274.61 L1194.3 2275.76 L1196.3 2276.89 L1198.3 2278 L1200.3 2279.09 L1202.3 2280.16 L1204.3 2281.21 L1206.3 2282.25 L1208.3 2283.26 L1210.3 2284.26 L1212.3 2285.24 L1214.3 2286.2 L1216.3 2287.15 L1218.3 2288.07 L1220.3 2288.98 L1221.3 2289.43" stroke="#00ffff"/>
<path d="M524.3 2341.21 L526.3 2340.71 L528.3 2340.21 L530.3 2339.71 L532.3 2339.21 L534.3 2338.71 L536.3 2338.21 L538.3 2337.71 L540.3 2337.2 L542.3 2336.69 L544.3 2336.18 L546.3 2335.66 L548.3 2335.15 L550.3 2334.62 L552.3 2334.1 L554.3 2333.57 L556.3 2333.04 L558.3 2332.5 L560.3 2331.96 L562.3 2331.41 L564.3 2330.86 L566.3 2330.31 L568.3 2329.74 L570.3 2329.18 L572.3 2328.6 L574.3 2328.02 L576.3 2327.43 L578.3 2326.84 L580.3 2326.24 L582.3 2325.63 L584.3 2325.01 L586.3 2324.39 L588.3 2323.75 L590.3 2323.11 L592.3 2322.46 L594.3 2321.8 L596.3 2321.13 L598.3 2320.45 L600.3 2319.76 L602.3 2319.06 L604.3 2318.35 L606.3 2317.63 L608.3 2316.9 L610.3 2316.15 L612.3 2315.39 L614.3 2314.62 L616.3 2313.84 L618.3 2313.04 L620.3 2312.23 L622.3 2311.4 L624.3 2310.56 L626.3 2309.71 L628.3 2308.84 L630.3 2307.95 L632.3 2307.04 L634.3 2306.12 L636.3 2305.19 L638.3 2304.24 L640.3 2303.27 L642.3 2302.29 L644.3 2301.29 L646.3 2300.28 L648.3 2299.26 L650.3 2298.22 L652.3 2297.16 L654.3 2296.1 L656.3 2295.02 L658.3 2293.93 L660.3 2292.82 L662.3 2291.7 L664.3 2290.58 L666.3 2289.44 L668.3 2288.29 L670.3 2287.12 L672.3 2285.95 L674.3 2284.77 L676.3 2283.58 L678.3 2282.38 L680.3 2281.17 L682.3 2279.95 L684.3 2278.73 L686.3 2277.5 L688.3 2276.26 L690.3 2275.01 L692.3 2273.76 L694.3 2272.51 L696.3 2271.25 L698.3 2269.98 L700.3 2268.71 L702.3 2267.44 L704.3 2266.16 L706.3 2264.87 L708.3 2263.58 L710.3 2262.27 L712.3 2260.96 L714.3 2259.64 L716.3 2258.3 L718.3 2256.94 L720.3 2255.57 L722.3 2254.18 L724.3 2252.77 L726.3 2251.34 L728.3 2249.89 L730.3 2248.41 L732.3 2246.9 L734.3 2245.36 L736.3 2243.79 L738.3 2242.18 L740.3 2240.53 L742.3 2238.84 L744.3 2237.1 L746.3 2235.31 L748.3 2233.47 L750.3 2231.56 L752.3 2229.58 L754.3 2227.53 L756.3 2225.39 L758.3 2223.16 L760.3 2220.82 L762.3 2218.36 L764.3 2215.76 L765.8 2213.71 L767.3 2211.55 L768.8 2209.28 L770.3 2206.88 L771.8 2204.35 L773.3 2201.68 L774.8 2198.84 L776.3 2195.84 L777.3 2193.75 L778.3 2191.56 L779.3 2189.29 L780.3 2186.92 L781.3 2184.46 L782.3 2181.89 L783.3 2179.22 L784.3 2176.44 L785.3 2173.55 L786.3 2170.54 L787.3 2167.42 L788.3 2164.18 L789.3 2160.83 L790.3 2157.37 L791.3 2153.81 L792.3 2150.16 L793.3 2146.43 L794.3 2142.64 L795.3 2138.81 L796.3 2134.96 L797.3 2131.11 L798.3 2127.29 L799.3 2123.51 L800.3 2119.79 L801.3 2116.16 L802.3 2112.62 L803.3 2109.19 L804.3 2105.87 L805.3 2102.66 L806.3 2099.58 L807.3 2096.62 L808.3 2093.77 L809.3 2091.01 L810.3 2088.33 L811.3 2085.72 L812.3 2083.18 L813.3 2080.7 L814.3 2078.26 L815.3 2075.87 L816.3 2073.52 L817.3 2071.2 L818.3 2068.91 L819.3 2066.64 L820.3 2064.4 L821.3 2062.18 L822.3 2059.97 L823.3 2057.77 L824.3 2055.59 L825.3 2053.41 L826.3 2051.24 L827.3 2049.06 L828.3 2046.89 L829.3 2044.71 L830.3 2042.52 L831.3 2040.33 L832.3 2038.13 L833.3 2035.91 L834.3 2033.67 L835.3 2031.41 L836.3 2029.13 L837.3 2026.83 L838.3 2024.49 L839.3 2022.12 L840.3 2019.71 L841.3 2017.26 L842.3 2014.76 L843.3 2012.21 L844.3 2009.61 L845.3 2006.93 L846.3 2004.19 L847.3 2001.36 L848.3 1998.45 L849.3 1995.46 L850.3 1992.43 L851.3 1989.38 L852.3 1986.35 L853.3 1983.38 L854.3 1980.47 L855.3 1977.66 L856.3 1974.97 L857.3 1972.39 L858.3 1969.95 L859.3 1967.63 L860.3 1965.44 L861.3 1963.38 L862.8 1960.51 L864.3 1957.89 L865.8 1955.51 L867.3 1953.34 L869.3 1950.74 L871.3 1948.43 L873.3 1946.38 L875.3 1944.55 L877.3 1942.91 L879.3 1941.45 L881.3 1940.16 L883.3 1939.02 L885.3 1938.03 L887.3 1937.2 L889.3 1936.5 L891.3 1935.95 L893.3 1935.54 L895.3 1935.27 L897.3 1935.15 L899.3 1935.18 L901.3 1935.36 L903.3 1935.69 L905.3 1936.16 L907.3 1936.77 L909.3 1937.51 L911.3 1938.38 L913.3 1939.36 L915.3 1940.47 L917.3 1941.7 L919.3 1943.03 L921.3 1944.48 L923.3 1946.03 L925.3 1947.69 L927.3 1949.46 L929.3 1951.33 L931.3 1953.3 L933.3 1955.37 L935.3 1957.54 L937.3 1959.82 L939.3 1962.2 L941.3 1964.69 L943.3 1967.28 L944.8 1969.3 L946.3 1971.38 L947.8 1973.52 L949.3 1975.71 L950.8 1977.96 L952.3 1980.25 L953.8 1982.59 L955.3 1984.98 L956.8 1987.39 L958.3 1989.84 L959.8 1992.3 L961.3 1994.79 L962.8 1997.27 L964.3 1999.77 L965.8 2002.27 L967.3 2004.78 L968.8 2007.29 L970.3 2009.81 L971.8 2012.33 L973.3 2014.85 L974.8 2017.38 L976.3 2019.92 L977.8 2022.45 L979.3 2024.99 L980.8 2027.53 L982.3 2030.07 L983.8 2032.61 L985.3 2035.15 L986.8 2037.69 L988.3 2040.23 L989.8 2042.77 L991.3 2045.3 L992.8 2047.84 L994.3 2050.37 L995.8 2052.9 L997.3 2055.42 L998.8 2057.94 L1000.3 2060.45 L1001.8 2062.96 L1003.3 2065.47 L1004.8 2067.96 L1006.3 2070.45 L1007.8 2072.94 L1009.3 2075.41 L1010.8 2077.88 L1012.3 2080.34 L1013.8 2082.79 L1015.3 2085.23 L1016.8 2087.66 L1018.3 2090.08 L1019.8 2092.5 L1021.3 2094.9 L1022.8 2097.29 L1024.3 2099.67 L1025.8 2102.03 L1027.3 2104.39 L1028.8 2106.73 L1030.3 2109.06 L1031.8 2111.38 L1033.3 2113.68 L1034.8 2115.97 L1036.3 2118.25 L1037.8 2120.51 L1039.3 2122.76 L1040.8 2125 L1042.3 2127.22 L1043.8 2129.43 L1045.3 2131.62 L1046.8 2133.8 L1048.3 2135.96 L1049.8 2138.11 L1051.3 2140.24 L1052.8 2142.36 L1054.3 2144.46 L1055.8 2146.54 L1057.3 2148.61 L1058.8 2150.67 L1060.3 2152.71 L1061.8 2154.73 L1063.3 2156.74 L1065.3 2159.39 L1067.3 2162.01 L1069.3 2164.61 L1071.3 2167.17 L1073.3 2169.71 L1075.3 2172.22 L1077.3 2174.7 L1079.3 2177.16 L1081.3 2179.58 L1083.3 2181.98 L1085.3 2184.35 L1087.3 2186.69 L1089.3 2189.01 L1091.3 2191.29 L1093.3 2193.55 L1095.3 2195.78 L1097.3 2197.99 L1099.3 2200.16 L1101.3 2202.31 L1103.3 2204.44 L1105.3 2206.54 L1107.3 2208.61 L1109.3 2210.65 L1111.3 2212.67 L1113.3 2214.67 L1115.3 2216.64 L1117.3 2218.58 L1119.3 2220.5 L1121.3 2222.4 L1123.3 2224.27 L1125.3 2226.12 L1127.3 2227.94 L1129.3 2229.75 L1131.3 2231.53 L1133.3 2233.28 L1135.3 2235.02 L1137.3 2236.73 L1139.3 2238.42 L1141.3 2240.09 L1143.3 2241.73 L1145.3 2243.36 L1147.3 2244.96 L1149.3 2246.54 L1151.3 2248.1 L1153.3 2249.64 L1155.3 2251.16 L1157.3 2252.66 L1159.3 2254.14 L1161.3 2255.6 L1163.3 2257.03 L1165.3 2258.45 L1167.3 2259.85 L1169.3 2261.22 L1171.3 2262.58 L1173.3 2263.92 L1175.3 2265.24 L1177.3 2266.54 L1179.3 2267.81 L1181.3 2269.07 L1183.3 2270.31 L1185.3 2271.54 L1187.3 2272.74 L1189.3 2273.92 L1191.3 2275.09 L1193.3 2276.23 L1195.3 2277.36 L1197.3 2278.47 L1199.3 2279.56 L1201.3 2280.63 L1203.3 2281.68 L1205.3 2282.71 L1207.3 2283.73 L1209.3 2284.73 L1211.3 2285.7 L1213.3 2286.67 L1215.3 2287.61 L1217.3 2288.53 L1219.3 2289.44 L1221.3 2290.33" stroke="#ff00ff"/>
</g>
<rect x="91.5" y="18.5" width="701.3" height="660.3" fill="none" stroke="#000" stroke-width="2.6"/>
<line x1="81" y1="635" x2="91.5" y2="635" stroke="#000" stroke-width="2.6" stroke-linecap="butt"/>
<text transform="translate(62.87 641.43) scale(0.20056 0.26600)" font-size="100" font-family="'Liberation Sans', Arial, sans-serif" font-weight="normal">0</text>
<line x1="81" y1="546.93" x2="91.5" y2="546.93" stroke="#000" stroke-width="2.6" stroke-linecap="butt"/>
<text transform="translate(51.74 553.36) scale(0.20056 0.26600)" font-size="100" font-family="'Liberation Sans', Arial, sans-serif" font-weight="normal">20</text>
<line x1="81" y1="458.86" x2="91.5" y2="458.86" stroke="#000" stroke-width="2.6" stroke-linecap="butt"/>
<text transform="translate(51.74 465.29) scale(0.20056 0.26600)" font-size="100" font-family="'Liberation Sans', Arial, sans-serif" font-weight="normal">40</text>
<line x1="81" y1="370.79" x2="91.5" y2="370.79" stroke="#000" stroke-width="2.6" stroke-linecap="butt"/>
<text transform="translate(51.74 377.22) scale(0.20056 0.26600)" font-size="100" font-family="'Liberation Sans', Arial, sans-serif" font-weight="normal">60</text>
<line x1="81" y1="282.71" x2="91.5" y2="282.71" stroke="#000" stroke-width="2.6" stroke-linecap="butt"/>
<text transform="translate(51.74 289.15) scale(0.20056 0.26600)" font-size="100" font-family="'Liberation Sans', Arial, sans-serif" font-weight="normal">80</text>
<line x1="81" y1="194.64" x2="91.5" y2="194.64" stroke="#000" stroke-width="2.6" stroke-linecap="butt"/>
<text transform="translate(40.61 201.08) scale(0.20056 0.26600)" font-size="100" font-family="'Liberation Sans', Arial, sans-serif" font-weight="normal">100</text>
<line x1="81" y1="106.57" x2="91.5" y2="106.57" stroke="#000" stroke-width="2.6" stroke-linecap="butt"/>
<text transform="translate(40.61 113.01) scale(0.20056 0.26600)" font-size="100" font-family="'Liberation Sans', Arial, sans-serif" font-weight="normal">120</text>
<line x1="81" y1="18.5" x2="91.5" y2="18.5" stroke="#000" stroke-width="2.6" stroke-linecap="butt"/>
<text transform="translate(40.61 24.93) scale(0.20056 0.26600)" font-size="100" font-family="'Liberation Sans', Arial, sans-serif" font-weight="normal">140</text>
<line x1="91.5" y1="678.8" x2="91.5" y2="692" stroke="#000" stroke-width="2.6" stroke-linecap="butt"/>
<text transform="translate(74.75 721.82) scale(0.20056 0.26600)" font-size="100" font-family="'Liberation Sans', Arial, sans-serif" font-weight="normal">320</text>
<line x1="179.16" y1="678.8" x2="179.16" y2="692" stroke="#000" stroke-width="2.6" stroke-linecap="butt"/>
<text transform="translate(162.42 721.82) scale(0.20056 0.26600)" font-size="100" font-family="'Liberation Sans', Arial, sans-serif" font-weight="normal">330</text>
<line x1="266.82" y1="678.8" x2="266.82" y2="692" stroke="#000" stroke-width="2.6" stroke-linecap="butt"/>
<text transform="translate(250.08 721.82) scale(0.20056 0.26600)" font-size="100" font-family="'Liberation Sans', Arial, sans-serif" font-weight="normal">340</text>
<line x1="354.49" y1="678.8" x2="354.49" y2="692" stroke="#000" stroke-width="2.6" stroke-linecap="butt"/>
<text transform="translate(337.74 721.82) scale(0.20056 0.26600)" font-size="100" font-family="'Liberation Sans', Arial, sans-serif" font-weight="normal">350</text>
<line x1="442.15" y1="678.8" x2="442.15" y2="692" stroke="#000" stroke-width="2.6" stroke-linecap="butt"/>
<text transform="translate(425.4 721.82) scale(0.20056 0.26600)" font-size="100" font-family="'Liberation Sans', Arial, sans-serif" font-weight="normal">360</text>
<line x1="529.81" y1="678.8" x2="529.81" y2="692" stroke="#000" stroke-width="2.6" stroke-linecap="butt"/>
<text transform="translate(513.07 721.82) scale(0.20056 0.26600)" font-size="100" font-family="'Liberation Sans', Arial, sans-serif" font-weight="normal">370</text>
<line x1="617.47" y1="678.8" x2="617.47" y2="692" stroke="#000" stroke-width="2.6" stroke-linecap="butt"/>
<text transform="translate(600.73 721.82) scale(0.20056 0.26600)" font-size="100" font-family="'Liberation Sans', Arial, sans-serif" font-weight="normal">380</text>
<line x1="705.14" y1="678.8" x2="705.14" y2="692" stroke="#000" stroke-width="2.6" stroke-linecap="butt"/>
<text transform="translate(688.39 721.82) scale(0.20056 0.26600)" font-size="100" font-family="'Liberation Sans', Arial, sans-serif" font-weight="normal">390</text>
<line x1="792.8" y1="678.8" x2="792.8" y2="692" stroke="#000" stroke-width="2.6" stroke-linecap="butt"/>
<text transform="translate(776.25 721.82) scale(0.20056 0.26600)" font-size="100" font-family="'Liberation Sans', Arial, sans-serif" font-weight="normal">400</text>
<line x1="91.9" y1="44.2" x2="162.6" y2="44.2" stroke="#000000" stroke-width="3.2" stroke-linecap="butt"/>
<text transform="translate(169.7 55.96) scale(0.26757 0.34074)" font-size="100" font-family="'Liberation Serif', 'Times New Roman', serif" font-weight="bold">B0</text>
<line x1="208.1" y1="44.2" x2="278.5" y2="44.2" stroke="#ff0000" stroke-width="3.2" stroke-linecap="butt"/>
<text transform="translate(284.89 55.96) scale(0.27366 0.34074)" font-size="100" font-family="'Liberation Serif', 'Times New Roman', serif" font-weight="bold">LA20</text>
<line x1="356.8" y1="44.2" x2="427.1" y2="44.2" stroke="#00ff00" stroke-width="3.2" stroke-linecap="butt"/>
<text transform="translate(434.19 55.96) scale(0.27281 0.34074)" font-size="100" font-family="'Liberation Serif', 'Times New Roman', serif" font-weight="bold">LA40</text>
<line x1="91.9" y1="87.9" x2="162.6" y2="87.9" stroke="#0000ff" stroke-width="3.2" stroke-linecap="butt"/>
<text transform="translate(169.69 98.86) scale(0.27109 0.34222)" font-size="100" font-family="'Liberation Serif', 'Times New Roman', serif" font-weight="bold">LA60</text>
<line x1="241.3" y1="87.9" x2="311.6" y2="87.9" stroke="#00ffff" stroke-width="3.2" stroke-linecap="butt"/>
<text transform="translate(318.7 98.86) scale(0.26895 0.34222)" font-size="100" font-family="'Liberation Serif', 'Times New Roman', serif" font-weight="bold">LA80</text>
<line x1="389.9" y1="87.9" x2="460.7" y2="87.9" stroke="#ff00ff" stroke-width="3.2" stroke-linecap="butt"/>
<text transform="translate(467.19 98.86) scale(0.27231 0.34222)" font-size="100" font-family="'Liberation Serif', 'Times New Roman', serif" font-weight="bold">LA100</text>
<text transform="translate(92.96 149.2) scale(0.26917 0.33282)" font-size="100" font-family="'Liberation Serif', 'Times New Roman', serif" font-weight="bold">Injection timing:19</text>
<text transform="translate(316.83 129.61) scale(0.16667 0.19111)" font-size="100" font-family="'Liberation Serif', 'Times New Roman', serif" font-weight="bold">0</text>
<text transform="translate(331.13 149.2) scale(0.27159 0.33282)" font-size="100" font-family="'Liberation Serif', 'Times New Roman', serif" font-weight="bold">bTDC, Speed:1500, CR:17.5</text>
<text transform="translate(328.94 773.8) scale(0.25131 0.32672)" font-size="100" font-family="'Liberation Serif', 'Times New Roman', serif" font-weight="bold">Crank angle (degree)</text>
<text transform="translate(21.7 532.4) rotate(-90) scale(0.32092 0.27939)" font-size="100" font-family="'Liberation Serif', 'Times New Roman', serif" font-weight="bold">Cylinder pressure (bar)</text>
<text transform="translate(126.51 878.1) scale(0.37629 0.37710)" font-size="100" font-family="'Liberation Serif', 'Times New Roman', serif" font-weight="normal">(a) Injection timing 19</text>
<text transform="translate(464.93 863.47) scale(0.26667 0.23333)" font-size="100" font-family="'Liberation Serif', 'Times New Roman', serif" font-weight="normal">o</text>
<text transform="translate(487.7 878.1) scale(0.37169 0.37710)" font-size="100" font-family="'Liberation Serif', 'Times New Roman', serif" font-weight="normal">bTDC.</text>
<rect x="921" y="19.1" width="697" height="661.5" fill="none" stroke="#000" stroke-width="2.6"/>
<line x1="910.5" y1="636.5" x2="921" y2="636.5" stroke="#000" stroke-width="2.6" stroke-linecap="butt"/>
<text transform="translate(892.67 642.93) scale(0.20056 0.26600)" font-size="100" font-family="'Liberation Sans', Arial, sans-serif" font-weight="normal">0</text>
<line x1="910.5" y1="548.3" x2="921" y2="548.3" stroke="#000" stroke-width="2.6" stroke-linecap="butt"/>
<text transform="translate(881.54 554.73) scale(0.20056 0.26600)" font-size="100" font-family="'Liberation Sans', Arial, sans-serif" font-weight="normal">20</text>
<line x1="910.5" y1="460.1" x2="921" y2="460.1" stroke="#000" stroke-width="2.6" stroke-linecap="butt"/>
<text transform="translate(881.54 466.53) scale(0.20056 0.26600)" font-size="100" font-family="'Liberation Sans', Arial, sans-serif" font-weight="normal">40</text>
<line x1="910.5" y1="371.9" x2="921" y2="371.9" stroke="#000" stroke-width="2.6" stroke-linecap="butt"/>
<text transform="translate(881.54 378.33) scale(0.20056 0.26600)" font-size="100" font-family="'Liberation Sans', Arial, sans-serif" font-weight="normal">60</text>
<line x1="910.5" y1="283.7" x2="921" y2="283.7" stroke="#000" stroke-width="2.6" stroke-linecap="butt"/>
<text transform="translate(881.54 290.13) scale(0.20056 0.26600)" font-size="100" font-family="'Liberation Sans', Arial, sans-serif" font-weight="normal">80</text>
<line x1="910.5" y1="195.5" x2="921" y2="195.5" stroke="#000" stroke-width="2.6" stroke-linecap="butt"/>
<text transform="translate(870.41 201.93) scale(0.20056 0.26600)" font-size="100" font-family="'Liberation Sans', Arial, sans-serif" font-weight="normal">100</text>
<line x1="910.5" y1="107.3" x2="921" y2="107.3" stroke="#000" stroke-width="2.6" stroke-linecap="butt"/>
<text transform="translate(870.41 113.73) scale(0.20056 0.26600)" font-size="100" font-family="'Liberation Sans', Arial, sans-serif" font-weight="normal">120</text>
<line x1="910.5" y1="19.1" x2="921" y2="19.1" stroke="#000" stroke-width="2.6" stroke-linecap="butt"/>
<text transform="translate(870.41 25.53) scale(0.20056 0.26600)" font-size="100" font-family="'Liberation Sans', Arial, sans-serif" font-weight="normal">140</text>
<line x1="921" y1="680.6" x2="921" y2="693.8" stroke="#000" stroke-width="2.6" stroke-linecap="butt"/>
<text transform="translate(904.25 722.92) scale(0.20056 0.26600)" font-size="100" font-family="'Liberation Sans', Arial, sans-serif" font-weight="normal">320</text>
<line x1="1008.12" y1="680.6" x2="1008.12" y2="693.8" stroke="#000" stroke-width="2.6" stroke-linecap="butt"/>
<text transform="translate(991.38 722.92) scale(0.20056 0.26600)" font-size="100" font-family="'Liberation Sans', Arial, sans-serif" font-weight="normal">330</text>
<line x1="1095.25" y1="680.6" x2="1095.25" y2="693.8" stroke="#000" stroke-width="2.6" stroke-linecap="butt"/>
<text transform="translate(1078.5 722.92) scale(0.20056 0.26600)" font-size="100" font-family="'Liberation Sans', Arial, sans-serif" font-weight="normal">340</text>
<line x1="1182.38" y1="680.6" x2="1182.38" y2="693.8" stroke="#000" stroke-width="2.6" stroke-linecap="butt"/>
<text transform="translate(1165.63 722.92) scale(0.20056 0.26600)" font-size="100" font-family="'Liberation Sans', Arial, sans-serif" font-weight="normal">350</text>
<line x1="1269.5" y1="680.6" x2="1269.5" y2="693.8" stroke="#000" stroke-width="2.6" stroke-linecap="butt"/>
<text transform="translate(1252.75 722.92) scale(0.20056 0.26600)" font-size="100" font-family="'Liberation Sans', Arial, sans-serif" font-weight="normal">360</text>
<line x1="1356.62" y1="680.6" x2="1356.62" y2="693.8" stroke="#000" stroke-width="2.6" stroke-linecap="butt"/>
<text transform="translate(1339.88 722.92) scale(0.20056 0.26600)" font-size="100" font-family="'Liberation Sans', Arial, sans-serif" font-weight="normal">370</text>
<line x1="1443.75" y1="680.6" x2="1443.75" y2="693.8" stroke="#000" stroke-width="2.6" stroke-linecap="butt"/>
<text transform="translate(1427 722.92) scale(0.20056 0.26600)" font-size="100" font-family="'Liberation Sans', Arial, sans-serif" font-weight="normal">380</text>
<line x1="1530.88" y1="680.6" x2="1530.88" y2="693.8" stroke="#000" stroke-width="2.6" stroke-linecap="butt"/>
<text transform="translate(1514.13 722.92) scale(0.20056 0.26600)" font-size="100" font-family="'Liberation Sans', Arial, sans-serif" font-weight="normal">390</text>
<line x1="1618" y1="680.6" x2="1618" y2="693.8" stroke="#000" stroke-width="2.6" stroke-linecap="butt"/>
<text transform="translate(1601.45 722.92) scale(0.20056 0.26600)" font-size="100" font-family="'Liberation Sans', Arial, sans-serif" font-weight="normal">400</text>
<line x1="924.9" y1="49.7" x2="995.2" y2="49.7" stroke="#000000" stroke-width="3.2" stroke-linecap="butt"/>
<text transform="translate(1001.69 61.85) scale(0.27658 0.35111)" font-size="100" font-family="'Liberation Serif', 'Times New Roman', serif" font-weight="bold">B0</text>
<line x1="1040.1" y1="49.7" x2="1109.9" y2="49.7" stroke="#ff0000" stroke-width="3.2" stroke-linecap="butt"/>
<text transform="translate(1116.9 61.85) scale(0.26938 0.35111)" font-size="100" font-family="'Liberation Serif', 'Times New Roman', serif" font-weight="bold">LA20</text>
<line x1="1188.2" y1="49.7" x2="1258.1" y2="49.7" stroke="#00ff00" stroke-width="3.2" stroke-linecap="butt"/>
<text transform="translate(1264.59 61.85) scale(0.27537 0.35111)" font-size="100" font-family="'Liberation Serif', 'Times New Roman', serif" font-weight="bold">LA40</text>
<line x1="924.9" y1="93.3" x2="995.2" y2="93.3" stroke="#0000ff" stroke-width="3.2" stroke-linecap="butt"/>
<text transform="translate(1001.69 104.86) scale(0.27109 0.34370)" font-size="100" font-family="'Liberation Serif', 'Times New Roman', serif" font-weight="bold">LA60</text>
<line x1="1073.3" y1="93.3" x2="1143" y2="93.3" stroke="#00ffff" stroke-width="3.2" stroke-linecap="butt"/>
<text transform="translate(1150.1 104.86) scale(0.26681 0.34370)" font-size="100" font-family="'Liberation Serif', 'Times New Roman', serif" font-weight="bold">LA80</text>
<line x1="1221.1" y1="93.3" x2="1291.1" y2="93.3" stroke="#ff00ff" stroke-width="3.2" stroke-linecap="butt"/>
<text transform="translate(1298.2 104.86) scale(0.26878 0.34370)" font-size="100" font-family="'Liberation Serif', 'Times New Roman', serif" font-weight="bold">LA100</text>
<text transform="translate(925.96 154.6) scale(0.26843 0.33893)" font-size="100" font-family="'Liberation Serif', 'Times New Roman', serif" font-weight="bold">Injection timing:21</text>
<text transform="translate(1147.83 135.02) scale(0.16667 0.18222)" font-size="100" font-family="'Liberation Serif', 'Times New Roman', serif" font-weight="bold">0</text>
<text transform="translate(1163.13 154.6) scale(0.27018 0.33893)" font-size="100" font-family="'Liberation Serif', 'Times New Roman', serif" font-weight="bold">bTDC, Speed:1500 rpm, CR:17.5</text>
<text transform="translate(1156.65 775) scale(0.25020 0.32061)" font-size="100" font-family="'Liberation Serif', 'Times New Roman', serif" font-weight="bold">Crank angle (degree)</text>
<text transform="translate(851.9 533.3) rotate(-90) scale(0.32082 0.27481)" font-size="100" font-family="'Liberation Serif', 'Times New Roman', serif" font-weight="bold">Cylinder pressure (bar)</text>
<text transform="translate(1069.72 877.8) scale(0.37348 0.37710)" font-size="100" font-family="'Liberation Serif', 'Times New Roman', serif" font-weight="normal">(b) Injection timing 21</text>
<text transform="translate(1410.83 863.47) scale(0.26667 0.23333)" font-size="100" font-family="'Liberation Serif', 'Times New Roman', serif" font-weight="normal">o</text>
<text transform="translate(1433.9 877.8) scale(0.36536 0.37710)" font-size="100" font-family="'Liberation Serif', 'Times New Roman', serif" font-weight="normal">bTDC.</text>
<rect x="93.3" y="916.05" width="695.3" height="661.15" fill="none" stroke="#000" stroke-width="2.6"/>
<line x1="82.8" y1="1533.3" x2="93.3" y2="1533.3" stroke="#000" stroke-width="2.6" stroke-linecap="butt"/>
<text transform="translate(64.47 1539.73) scale(0.20056 0.26600)" font-size="100" font-family="'Liberation Sans', Arial, sans-serif" font-weight="normal">0</text>
<line x1="82.8" y1="1445.12" x2="93.3" y2="1445.12" stroke="#000" stroke-width="2.6" stroke-linecap="butt"/>
<text transform="translate(53.34 1451.56) scale(0.20056 0.26600)" font-size="100" font-family="'Liberation Sans', Arial, sans-serif" font-weight="normal">20</text>
<line x1="82.8" y1="1356.94" x2="93.3" y2="1356.94" stroke="#000" stroke-width="2.6" stroke-linecap="butt"/>
<text transform="translate(53.34 1363.38) scale(0.20056 0.26600)" font-size="100" font-family="'Liberation Sans', Arial, sans-serif" font-weight="normal">40</text>
<line x1="82.8" y1="1268.76" x2="93.3" y2="1268.76" stroke="#000" stroke-width="2.6" stroke-linecap="butt"/>
<text transform="translate(53.34 1275.2) scale(0.20056 0.26600)" font-size="100" font-family="'Liberation Sans', Arial, sans-serif" font-weight="normal">60</text>
<line x1="82.8" y1="1180.59" x2="93.3" y2="1180.59" stroke="#000" stroke-width="2.6" stroke-linecap="butt"/>
<text transform="translate(53.34 1187.02) scale(0.20056 0.26600)" font-size="100" font-family="'Liberation Sans', Arial, sans-serif" font-weight="normal">80</text>
<line x1="82.8" y1="1092.41" x2="93.3" y2="1092.41" stroke="#000" stroke-width="2.6" stroke-linecap="butt"/>
<text transform="translate(42.21 1098.84) scale(0.20056 0.26600)" font-size="100" font-family="'Liberation Sans', Arial, sans-serif" font-weight="normal">100</text>
<line x1="82.8" y1="1004.23" x2="93.3" y2="1004.23" stroke="#000" stroke-width="2.6" stroke-linecap="butt"/>
<text transform="translate(42.21 1010.66) scale(0.20056 0.26600)" font-size="100" font-family="'Liberation Sans', Arial, sans-serif" font-weight="normal">120</text>
<line x1="82.8" y1="916.05" x2="93.3" y2="916.05" stroke="#000" stroke-width="2.6" stroke-linecap="butt"/>
<text transform="translate(42.21 922.48) scale(0.20056 0.26600)" font-size="100" font-family="'Liberation Sans', Arial, sans-serif" font-weight="normal">140</text>
<line x1="93.3" y1="1577.2" x2="93.3" y2="1590.4" stroke="#000" stroke-width="2.6" stroke-linecap="butt"/>
<text transform="translate(76.55 1619.62) scale(0.20056 0.26600)" font-size="100" font-family="'Liberation Sans', Arial, sans-serif" font-weight="normal">320</text>
<line x1="180.21" y1="1577.2" x2="180.21" y2="1590.4" stroke="#000" stroke-width="2.6" stroke-linecap="butt"/>
<text transform="translate(163.47 1619.62) scale(0.20056 0.26600)" font-size="100" font-family="'Liberation Sans', Arial, sans-serif" font-weight="normal">330</text>
<line x1="267.12" y1="1577.2" x2="267.12" y2="1590.4" stroke="#000" stroke-width="2.6" stroke-linecap="butt"/>
<text transform="translate(250.38 1619.62) scale(0.20056 0.26600)" font-size="100" font-family="'Liberation Sans', Arial, sans-serif" font-weight="normal">340</text>
<line x1="354.04" y1="1577.2" x2="354.04" y2="1590.4" stroke="#000" stroke-width="2.6" stroke-linecap="butt"/>
<text transform="translate(337.29 1619.62) scale(0.20056 0.26600)" font-size="100" font-family="'Liberation Sans', Arial, sans-serif" font-weight="normal">350</text>
<line x1="440.95" y1="1577.2" x2="440.95" y2="1590.4" stroke="#000" stroke-width="2.6" stroke-linecap="butt"/>
<text transform="translate(424.2 1619.62) scale(0.20056 0.26600)" font-size="100" font-family="'Liberation Sans', Arial, sans-serif" font-weight="normal">360</text>
<line x1="527.86" y1="1577.2" x2="527.86" y2="1590.4" stroke="#000" stroke-width="2.6" stroke-linecap="butt"/>
<text transform="translate(511.12 1619.62) scale(0.20056 0.26600)" font-size="100" font-family="'Liberation Sans', Arial, sans-serif" font-weight="normal">370</text>
<line x1="614.77" y1="1577.2" x2="614.77" y2="1590.4" stroke="#000" stroke-width="2.6" stroke-linecap="butt"/>
<text transform="translate(598.03 1619.62) scale(0.20056 0.26600)" font-size="100" font-family="'Liberation Sans', Arial, sans-serif" font-weight="normal">380</text>
<line x1="701.69" y1="1577.2" x2="701.69" y2="1590.4" stroke="#000" stroke-width="2.6" stroke-linecap="butt"/>
<text transform="translate(684.94 1619.62) scale(0.20056 0.26600)" font-size="100" font-family="'Liberation Sans', Arial, sans-serif" font-weight="normal">390</text>
<line x1="788.6" y1="1577.2" x2="788.6" y2="1590.4" stroke="#000" stroke-width="2.6" stroke-linecap="butt"/>
<text transform="translate(772.05 1619.62) scale(0.20056 0.26600)" font-size="100" font-family="'Liberation Sans', Arial, sans-serif" font-weight="normal">400</text>
<line x1="98.9" y1="942.2" x2="168.7" y2="942.2" stroke="#000000" stroke-width="3.2" stroke-linecap="butt"/>
<text transform="translate(175.69 954.25) scale(0.27027 0.35111)" font-size="100" font-family="'Liberation Serif', 'Times New Roman', serif" font-weight="bold">B0</text>
<line x1="214.3" y1="942.2" x2="283.9" y2="942.2" stroke="#ff0000" stroke-width="3.2" stroke-linecap="butt"/>
<text transform="translate(290.49 954.25) scale(0.27109 0.35111)" font-size="100" font-family="'Liberation Serif', 'Times New Roman', serif" font-weight="bold">LA20</text>
<line x1="361.2" y1="942.2" x2="431.7" y2="942.2" stroke="#00ff00" stroke-width="3.2" stroke-linecap="butt"/>
<text transform="translate(437.99 954.25) scale(0.27366 0.35111)" font-size="100" font-family="'Liberation Serif', 'Times New Roman', serif" font-weight="bold">LA40</text>
<line x1="98.9" y1="985.3" x2="168.7" y2="985.3" stroke="#0000ff" stroke-width="3.2" stroke-linecap="butt"/>
<text transform="translate(175.69 996.85) scale(0.27109 0.35259)" font-size="100" font-family="'Liberation Serif', 'Times New Roman', serif" font-weight="bold">LA60</text>
<line x1="247.3" y1="985.3" x2="317" y2="985.3" stroke="#00ffff" stroke-width="3.2" stroke-linecap="butt"/>
<text transform="translate(324.1 996.85) scale(0.26681 0.35259)" font-size="100" font-family="'Liberation Serif', 'Times New Roman', serif" font-weight="bold">LA80</text>
<line x1="394.1" y1="985.3" x2="464.3" y2="985.3" stroke="#ff00ff" stroke-width="3.2" stroke-linecap="butt"/>
<text transform="translate(471.29 996.85) scale(0.27055 0.35259)" font-size="100" font-family="'Liberation Serif', 'Times New Roman', serif" font-weight="bold">LA100</text>
<text transform="translate(99.36 1047.2) scale(0.26942 0.34198)" font-size="100" font-family="'Liberation Serif', 'Times New Roman', serif" font-weight="bold">Injection timing:23</text>
<text transform="translate(320.79 1028.02) scale(0.17857 0.18222)" font-size="100" font-family="'Liberation Serif', 'Times New Roman', serif" font-weight="bold">0</text>
<text transform="translate(336.73 1047.2) scale(0.26969 0.34198)" font-size="100" font-family="'Liberation Serif', 'Times New Roman', serif" font-weight="bold">bTDC, Speed:1500 rpm, CR:17.5</text>
<text transform="translate(328.25 1672.2) scale(0.24919 0.32824)" font-size="100" font-family="'Liberation Serif', 'Times New Roman', serif" font-weight="bold">Crank angle (degree)</text>
<text transform="translate(23.8 1430.4) rotate(-90) scale(0.32072 0.27328)" font-size="100" font-family="'Liberation Serif', 'Times New Roman', serif" font-weight="bold">Cylinder pressure (bar)</text>
<text transform="translate(194.12 1731.9) scale(0.37371 0.37710)" font-size="100" font-family="'Liberation Serif', 'Times New Roman', serif" font-weight="normal">(c) Injection timing 23</text>
<text transform="translate(532.83 1717.48) scale(0.26667 0.22500)" font-size="100" font-family="'Liberation Serif', 'Times New Roman', serif" font-weight="normal">o</text>
<text transform="translate(555.6 1731.9) scale(0.36611 0.37710)" font-size="100" font-family="'Liberation Serif', 'Times New Roman', serif" font-weight="normal">bTDC.</text>
<rect x="918.4" y="915.4" width="668.6" height="660.6" fill="none" stroke="#000" stroke-width="2.6"/>
<line x1="907.9" y1="1531.9" x2="918.4" y2="1531.9" stroke="#000" stroke-width="2.6" stroke-linecap="butt"/>
<text transform="translate(890.47 1538.33) scale(0.20056 0.26600)" font-size="100" font-family="'Liberation Sans', Arial, sans-serif" font-weight="normal">0</text>
<line x1="907.9" y1="1443.83" x2="918.4" y2="1443.83" stroke="#000" stroke-width="2.6" stroke-linecap="butt"/>
<text transform="translate(879.34 1450.26) scale(0.20056 0.26600)" font-size="100" font-family="'Liberation Sans', Arial, sans-serif" font-weight="normal">20</text>
<line x1="907.9" y1="1355.76" x2="918.4" y2="1355.76" stroke="#000" stroke-width="2.6" stroke-linecap="butt"/>
<text transform="translate(879.34 1362.19) scale(0.20056 0.26600)" font-size="100" font-family="'Liberation Sans', Arial, sans-serif" font-weight="normal">40</text>
<line x1="907.9" y1="1267.69" x2="918.4" y2="1267.69" stroke="#000" stroke-width="2.6" stroke-linecap="butt"/>
<text transform="translate(879.34 1274.12) scale(0.20056 0.26600)" font-size="100" font-family="'Liberation Sans', Arial, sans-serif" font-weight="normal">60</text>
<line x1="907.9" y1="1179.61" x2="918.4" y2="1179.61" stroke="#000" stroke-width="2.6" stroke-linecap="butt"/>
<text transform="translate(879.34 1186.05) scale(0.20056 0.26600)" font-size="100" font-family="'Liberation Sans', Arial, sans-serif" font-weight="normal">80</text>
<line x1="907.9" y1="1091.54" x2="918.4" y2="1091.54" stroke="#000" stroke-width="2.6" stroke-linecap="butt"/>
<text transform="translate(868.21 1097.98) scale(0.20056 0.26600)" font-size="100" font-family="'Liberation Sans', Arial, sans-serif" font-weight="normal">100</text>
<line x1="907.9" y1="1003.47" x2="918.4" y2="1003.47" stroke="#000" stroke-width="2.6" stroke-linecap="butt"/>
<text transform="translate(868.21 1009.91) scale(0.20056 0.26600)" font-size="100" font-family="'Liberation Sans', Arial, sans-serif" font-weight="normal">120</text>
<line x1="907.9" y1="915.4" x2="918.4" y2="915.4" stroke="#000" stroke-width="2.6" stroke-linecap="butt"/>
<text transform="translate(868.21 921.83) scale(0.20056 0.26600)" font-size="100" font-family="'Liberation Sans', Arial, sans-serif" font-weight="normal">140</text>
<line x1="918.4" y1="1576" x2="918.4" y2="1589.2" stroke="#000" stroke-width="2.6" stroke-linecap="butt"/>
<text transform="translate(901.65 1618.92) scale(0.20056 0.26600)" font-size="100" font-family="'Liberation Sans', Arial, sans-serif" font-weight="normal">320</text>
<line x1="1001.98" y1="1576" x2="1001.98" y2="1589.2" stroke="#000" stroke-width="2.6" stroke-linecap="butt"/>
<text transform="translate(985.23 1618.92) scale(0.20056 0.26600)" font-size="100" font-family="'Liberation Sans', Arial, sans-serif" font-weight="normal">330</text>
<line x1="1085.55" y1="1576" x2="1085.55" y2="1589.2" stroke="#000" stroke-width="2.6" stroke-linecap="butt"/>
<text transform="translate(1068.8 1618.92) scale(0.20056 0.26600)" font-size="100" font-family="'Liberation Sans', Arial, sans-serif" font-weight="normal">340</text>
<line x1="1169.12" y1="1576" x2="1169.12" y2="1589.2" stroke="#000" stroke-width="2.6" stroke-linecap="butt"/>
<text transform="translate(1152.38 1618.92) scale(0.20056 0.26600)" font-size="100" font-family="'Liberation Sans', Arial, sans-serif" font-weight="normal">350</text>
<line x1="1252.7" y1="1576" x2="1252.7" y2="1589.2" stroke="#000" stroke-width="2.6" stroke-linecap="butt"/>
<text transform="translate(1235.95 1618.92) scale(0.20056 0.26600)" font-size="100" font-family="'Liberation Sans', Arial, sans-serif" font-weight="normal">360</text>
<line x1="1336.28" y1="1576" x2="1336.28" y2="1589.2" stroke="#000" stroke-width="2.6" stroke-linecap="butt"/>
<text transform="translate(1319.53 1618.92) scale(0.20056 0.26600)" font-size="100" font-family="'Liberation Sans', Arial, sans-serif" font-weight="normal">370</text>
<line x1="1419.85" y1="1576" x2="1419.85" y2="1589.2" stroke="#000" stroke-width="2.6" stroke-linecap="butt"/>
<text transform="translate(1403.1 1618.92) scale(0.20056 0.26600)" font-size="100" font-family="'Liberation Sans', Arial, sans-serif" font-weight="normal">380</text>
<line x1="1503.42" y1="1576" x2="1503.42" y2="1589.2" stroke="#000" stroke-width="2.6" stroke-linecap="butt"/>
<text transform="translate(1486.68 1618.92) scale(0.20056 0.26600)" font-size="100" font-family="'Liberation Sans', Arial, sans-serif" font-weight="normal">390</text>
<line x1="1587" y1="1576" x2="1587" y2="1589.2" stroke="#000" stroke-width="2.6" stroke-linecap="butt"/>
<text transform="translate(1570.45 1618.92) scale(0.20056 0.26600)" font-size="100" font-family="'Liberation Sans', Arial, sans-serif" font-weight="normal">400</text>
<line x1="918" y1="943.7" x2="985.8" y2="943.7" stroke="#000000" stroke-width="3.2" stroke-linecap="butt"/>
<text transform="translate(992.81 956.25) scale(0.25766 0.35111)" font-size="100" font-family="'Liberation Serif', 'Times New Roman', serif" font-weight="bold">B0</text>
<line x1="1028.8" y1="943.7" x2="1096.1" y2="943.7" stroke="#ff0000" stroke-width="3.2" stroke-linecap="butt"/>
<text transform="translate(1102.61 956.25) scale(0.26124 0.35111)" font-size="100" font-family="'Liberation Serif', 'Times New Roman', serif" font-weight="bold">LA20</text>
<line x1="1171.5" y1="943.7" x2="1238.2" y2="943.7" stroke="#00ff00" stroke-width="3.2" stroke-linecap="butt"/>
<text transform="translate(1244.71 956.25) scale(0.26124 0.35111)" font-size="100" font-family="'Liberation Serif', 'Times New Roman', serif" font-weight="bold">LA40</text>
<line x1="918" y1="987.3" x2="985.8" y2="987.3" stroke="#0000ff" stroke-width="3.2" stroke-linecap="butt"/>
<text transform="translate(992.81 999.25) scale(0.25996 0.34963)" font-size="100" font-family="'Liberation Serif', 'Times New Roman', serif" font-weight="bold">LA60</text>
<line x1="1061" y1="987.3" x2="1128.1" y2="987.3" stroke="#00ffff" stroke-width="3.2" stroke-linecap="butt"/>
<text transform="translate(1134.61 999.25) scale(0.25696 0.34963)" font-size="100" font-family="'Liberation Serif', 'Times New Roman', serif" font-weight="bold">LA80</text>
<line x1="1203.1" y1="987.3" x2="1269.8" y2="987.3" stroke="#ff00ff" stroke-width="3.2" stroke-linecap="butt"/>
<text transform="translate(1276.81 999.25) scale(0.25679 0.34963)" font-size="100" font-family="'Liberation Serif', 'Times New Roman', serif" font-weight="bold">LA100</text>
<text transform="translate(918.99 1048.6) scale(0.25945 0.34198)" font-size="100" font-family="'Liberation Serif', 'Times New Roman', serif" font-weight="bold">Injection timing:25</text>
<text transform="translate(1133.8 1029.62) scale(0.12619 0.17630)" font-size="100" font-family="'Liberation Serif', 'Times New Roman', serif" font-weight="bold">0</text>
<text transform="translate(1148.24 1048.6) scale(0.25779 0.34198)" font-size="100" font-family="'Liberation Serif', 'Times New Roman', serif" font-weight="bold">bTDC, Speed:1500 rpm, CR:17.5</text>
<text transform="translate(1144 1670) scale(0.24013 0.31908)" font-size="100" font-family="'Liberation Serif', 'Times New Roman', serif" font-weight="bold">Crank angle (degree)</text>
<text transform="translate(851.9 1429.4) rotate(-90) scale(0.32082 0.25802)" font-size="100" font-family="'Liberation Serif', 'Times New Roman', serif" font-weight="bold">Cylinder pressure (bar)</text>
<text transform="translate(1002.31 1731.5) scale(0.37487 0.37710)" font-size="100" font-family="'Liberation Serif', 'Times New Roman', serif" font-weight="normal">(d) Injection timing 25</text>
<text transform="translate(1343.05 1717.47) scale(0.26190 0.23125)" font-size="100" font-family="'Liberation Serif', 'Times New Roman', serif" font-weight="normal">o</text>
<text transform="translate(1367 1731.5) scale(0.36499 0.37710)" font-size="100" font-family="'Liberation Serif', 'Times New Roman', serif" font-weight="normal">bTDC.</text>
<rect x="524.3" y="1770.4" width="697" height="658.5" fill="none" stroke="#000" stroke-width="2.6"/>
<line x1="513.8" y1="2384.9" x2="524.3" y2="2384.9" stroke="#000" stroke-width="2.6" stroke-linecap="butt"/>
<text transform="translate(495.87 2391.33) scale(0.20056 0.26600)" font-size="100" font-family="'Liberation Sans', Arial, sans-serif" font-weight="normal">0</text>
<line x1="513.8" y1="2297.11" x2="524.3" y2="2297.11" stroke="#000" stroke-width="2.6" stroke-linecap="butt"/>
<text transform="translate(484.74 2303.55) scale(0.20056 0.26600)" font-size="100" font-family="'Liberation Sans', Arial, sans-serif" font-weight="normal">20</text>
<line x1="513.8" y1="2209.33" x2="524.3" y2="2209.33" stroke="#000" stroke-width="2.6" stroke-linecap="butt"/>
<text transform="translate(484.74 2215.76) scale(0.20056 0.26600)" font-size="100" font-family="'Liberation Sans', Arial, sans-serif" font-weight="normal">40</text>
<line x1="513.8" y1="2121.54" x2="524.3" y2="2121.54" stroke="#000" stroke-width="2.6" stroke-linecap="butt"/>
<text transform="translate(484.74 2127.98) scale(0.20056 0.26600)" font-size="100" font-family="'Liberation Sans', Arial, sans-serif" font-weight="normal">60</text>
<line x1="513.8" y1="2033.76" x2="524.3" y2="2033.76" stroke="#000" stroke-width="2.6" stroke-linecap="butt"/>
<text transform="translate(484.74 2040.19) scale(0.20056 0.26600)" font-size="100" font-family="'Liberation Sans', Arial, sans-serif" font-weight="normal">80</text>
<line x1="513.8" y1="1945.97" x2="524.3" y2="1945.97" stroke="#000" stroke-width="2.6" stroke-linecap="butt"/>
<text transform="translate(473.61 1952.41) scale(0.20056 0.26600)" font-size="100" font-family="'Liberation Sans', Arial, sans-serif" font-weight="normal">100</text>
<line x1="513.8" y1="1858.19" x2="524.3" y2="1858.19" stroke="#000" stroke-width="2.6" stroke-linecap="butt"/>
<text transform="translate(473.61 1864.62) scale(0.20056 0.26600)" font-size="100" font-family="'Liberation Sans', Arial, sans-serif" font-weight="normal">120</text>
<line x1="513.8" y1="1770.4" x2="524.3" y2="1770.4" stroke="#000" stroke-width="2.6" stroke-linecap="butt"/>
<text transform="translate(473.61 1776.83) scale(0.20056 0.26600)" font-size="100" font-family="'Liberation Sans', Arial, sans-serif" font-weight="normal">140</text>
<line x1="524.3" y1="2428.9" x2="524.3" y2="2442.1" stroke="#000" stroke-width="2.6" stroke-linecap="butt"/>
<text transform="translate(507.55 2470.92) scale(0.20056 0.26600)" font-size="100" font-family="'Liberation Sans', Arial, sans-serif" font-weight="normal">320</text>
<line x1="611.42" y1="2428.9" x2="611.42" y2="2442.1" stroke="#000" stroke-width="2.6" stroke-linecap="butt"/>
<text transform="translate(594.68 2470.92) scale(0.20056 0.26600)" font-size="100" font-family="'Liberation Sans', Arial, sans-serif" font-weight="normal">330</text>
<line x1="698.55" y1="2428.9" x2="698.55" y2="2442.1" stroke="#000" stroke-width="2.6" stroke-linecap="butt"/>
<text transform="translate(681.8 2470.92) scale(0.20056 0.26600)" font-size="100" font-family="'Liberation Sans', Arial, sans-serif" font-weight="normal">340</text>
<line x1="785.67" y1="2428.9" x2="785.67" y2="2442.1" stroke="#000" stroke-width="2.6" stroke-linecap="butt"/>
<text transform="translate(768.93 2470.92) scale(0.20056 0.26600)" font-size="100" font-family="'Liberation Sans', Arial, sans-serif" font-weight="normal">350</text>
<line x1="872.8" y1="2428.9" x2="872.8" y2="2442.1" stroke="#000" stroke-width="2.6" stroke-linecap="butt"/>
<text transform="translate(856.05 2470.92) scale(0.20056 0.26600)" font-size="100" font-family="'Liberation Sans', Arial, sans-serif" font-weight="normal">360</text>
<line x1="959.92" y1="2428.9" x2="959.92" y2="2442.1" stroke="#000" stroke-width="2.6" stroke-linecap="butt"/>
<text transform="translate(943.18 2470.92) scale(0.20056 0.26600)" font-size="100" font-family="'Liberation Sans', Arial, sans-serif" font-weight="normal">370</text>
<line x1="1047.05" y1="2428.9" x2="1047.05" y2="2442.1" stroke="#000" stroke-width="2.6" stroke-linecap="butt"/>
<text transform="translate(1030.3 2470.92) scale(0.20056 0.26600)" font-size="100" font-family="'Liberation Sans', Arial, sans-serif" font-weight="normal">380</text>
<line x1="1134.17" y1="2428.9" x2="1134.17" y2="2442.1" stroke="#000" stroke-width="2.6" stroke-linecap="butt"/>
<text transform="translate(1117.43 2470.92) scale(0.20056 0.26600)" font-size="100" font-family="'Liberation Sans', Arial, sans-serif" font-weight="normal">390</text>
<line x1="1221.3" y1="2428.9" x2="1221.3" y2="2442.1" stroke="#000" stroke-width="2.6" stroke-linecap="butt"/>
<text transform="translate(1204.75 2470.92) scale(0.20056 0.26600)" font-size="100" font-family="'Liberation Sans', Arial, sans-serif" font-weight="normal">400</text>
<line x1="526.9" y1="1796" x2="596.8" y2="1796" stroke="#000000" stroke-width="3.2" stroke-linecap="butt"/>
<text transform="translate(603.69 1808.25) scale(0.27297 0.35111)" font-size="100" font-family="'Liberation Serif', 'Times New Roman', serif" font-weight="bold">B0</text>
<line x1="641.7" y1="1796" x2="711.6" y2="1796" stroke="#ff0000" stroke-width="3.2" stroke-linecap="butt"/>
<text transform="translate(718.49 1808.25) scale(0.27109 0.35111)" font-size="100" font-family="'Liberation Serif', 'Times New Roman', serif" font-weight="bold">LA20</text>
<line x1="789.8" y1="1796" x2="859.7" y2="1796" stroke="#00ff00" stroke-width="3.2" stroke-linecap="butt"/>
<text transform="translate(866.59 1808.25) scale(0.27152 0.35111)" font-size="100" font-family="'Liberation Serif', 'Times New Roman', serif" font-weight="bold">LA40</text>
<line x1="526.9" y1="1839.3" x2="596.8" y2="1839.3" stroke="#0000ff" stroke-width="3.2" stroke-linecap="butt"/>
<text transform="translate(603.69 1851.45) scale(0.27109 0.35259)" font-size="100" font-family="'Liberation Serif', 'Times New Roman', serif" font-weight="bold">LA60</text>
<line x1="674.8" y1="1839.3" x2="744.6" y2="1839.3" stroke="#00ffff" stroke-width="3.2" stroke-linecap="butt"/>
<text transform="translate(751.49 1851.45) scale(0.27152 0.35259)" font-size="100" font-family="'Liberation Serif', 'Times New Roman', serif" font-weight="bold">LA80</text>
<line x1="822.5" y1="1839.3" x2="892.8" y2="1839.3" stroke="#ff00ff" stroke-width="3.2" stroke-linecap="butt"/>
<text transform="translate(899.29 1851.45) scale(0.27090 0.35259)" font-size="100" font-family="'Liberation Serif', 'Times New Roman', serif" font-weight="bold">LA100</text>
<text transform="translate(527.36 1900.6) scale(0.26908 0.33740)" font-size="100" font-family="'Liberation Serif', 'Times New Roman', serif" font-weight="bold">Injection timing:27</text>
<text transform="translate(750.04 1882.62) scale(0.14048 0.17630)" font-size="100" font-family="'Liberation Serif', 'Times New Roman', serif" font-weight="bold">0</text>
<text transform="translate(765.13 1900.6) scale(0.26948 0.33740)" font-size="100" font-family="'Liberation Serif', 'Times New Roman', serif" font-weight="bold">bTDC, Speed:1500 rpm, CR:17.5</text>
<text transform="translate(759.95 2522.7) scale(0.24930 0.32366)" font-size="100" font-family="'Liberation Serif', 'Times New Roman', serif" font-weight="bold">Crank angle (degree)</text>
<text transform="translate(454.8 2282.4) rotate(-90) scale(0.31982 0.26870)" font-size="100" font-family="'Liberation Serif', 'Times New Roman', serif" font-weight="bold">Cylinder pressure (bar)</text>
<text transform="translate(648.71 2586.9) scale(0.37497 0.37710)" font-size="100" font-family="'Liberation Serif', 'Times New Roman', serif" font-weight="normal">(e) Injection timing 27</text>
<text transform="translate(986.2 2572.47) scale(0.27619 0.22500)" font-size="100" font-family="'Liberation Serif', 'Times New Roman', serif" font-weight="normal">o</text>
<text transform="translate(1009.7 2586.9) scale(0.36611 0.37710)" font-size="100" font-family="'Liberation Serif', 'Times New Roman', serif" font-weight="normal">bTDC.</text>
</svg></body></html>
